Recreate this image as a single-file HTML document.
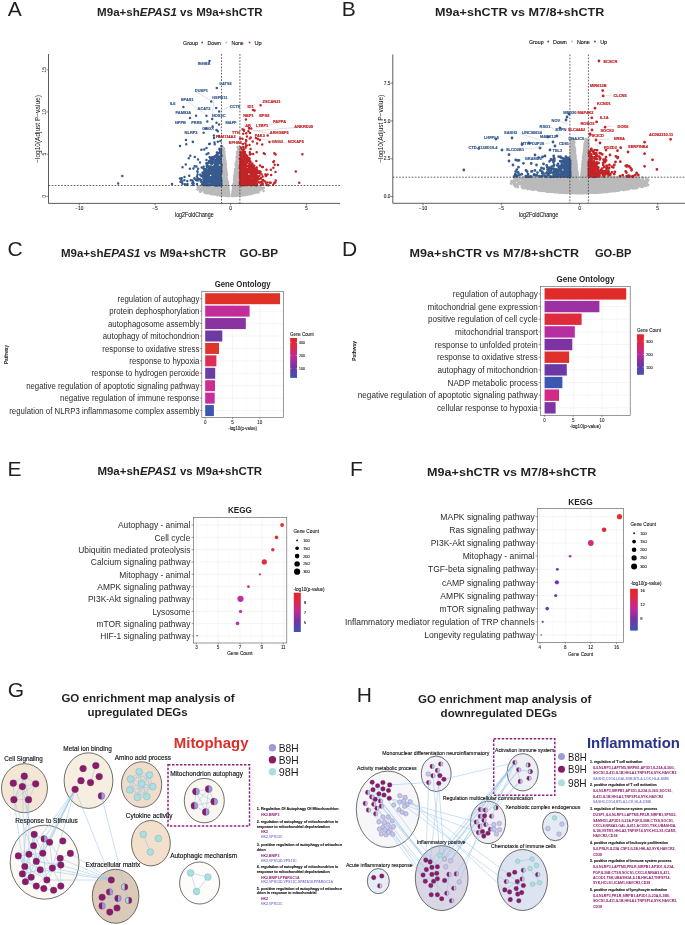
<!DOCTYPE html><html><head><meta charset="utf-8"><style>html,body{margin:0;padding:0;background:#fff;overflow:hidden}svg{display:block;font-family:"Liberation Sans",sans-serif;will-change:transform}</style></head><body><svg width="685" height="925" viewBox="0 0 685 925" font-family="Liberation Sans, sans-serif">
<defs><clipPath id="clipA"><rect x="48.6" y="54" width="291.4" height="149"/></clipPath><clipPath id="clipB"><rect x="393.1" y="54.5" width="291.9" height="148.3"/></clipPath><linearGradient id="gc" x1="0" y1="0" x2="0" y2="1"><stop offset="0" stop-color="#e2262a"/><stop offset="0.22" stop-color="#de2844"/><stop offset="0.47" stop-color="#c32896"/><stop offset="0.72" stop-color="#7434a2"/><stop offset="1" stop-color="#3c55b4"/></linearGradient></defs>
<rect width="685" height="925" fill="#fff"/>
<text x="7.70" y="15.60" font-size="21" fill="#231f20"  xml:space="preserve">A</text>
<text x="97.10" y="16.00" font-size="11.3" fill="#231f20" font-weight="bold" textLength="42.72" lengthAdjust="spacingAndGlyphs"  xml:space="preserve">M9a+sh</text>
<text x="139.82" y="16.00" font-size="11.3" fill="#231f20" font-weight="bold" font-style="italic" textLength="37.04" lengthAdjust="spacingAndGlyphs"  xml:space="preserve">EPAS1</text>
<text x="176.86" y="16.00" font-size="11.3" fill="#231f20" font-weight="bold" textLength="85.74" lengthAdjust="spacingAndGlyphs"  xml:space="preserve"> vs M9a+shCTR</text>
<text x="183.00" y="44.70" font-size="6.1" fill="#111" textLength="14.90" lengthAdjust="spacingAndGlyphs" stroke="#111" stroke-width="0.12" xml:space="preserve">Group</text>
<circle cx="202.20" cy="42.40" r="0.95" fill="#375b8f" stroke="none" stroke-width="0.5"/>
<text x="207.60" y="44.70" font-size="6.1" fill="#111" textLength="13.20" lengthAdjust="spacingAndGlyphs" stroke="#111" stroke-width="0.12" xml:space="preserve">Down</text>
<circle cx="226.30" cy="42.40" r="0.95" fill="#bababa" stroke="none" stroke-width="0.5"/>
<text x="231.60" y="44.70" font-size="6.1" fill="#111" textLength="12.10" lengthAdjust="spacingAndGlyphs" stroke="#111" stroke-width="0.12" xml:space="preserve">None</text>
<circle cx="249.60" cy="42.40" r="0.95" fill="#c32427" stroke="none" stroke-width="0.5"/>
<text x="254.50" y="44.70" font-size="6.1" fill="#111" textLength="7.20" lengthAdjust="spacingAndGlyphs" stroke="#111" stroke-width="0.12" xml:space="preserve">Up</text>
<g clip-path="url(#clipA)">
<path d="M253.9 191.7h0M235.4 182.8h0M225.6 186.8h0M207.8 192.4h0M220.9 194.4h0M233.3 191.9h0M227.5 188.6h0M218.7 185.9h0M236.2 177.0h0M241.6 192.5h0M248.3 191.9h0M225.0 162.5h0M236.8 182.7h0M227.6 195.9h0M242.1 191.7h0M219.9 188.9h0M240.7 193.5h0M238.3 165.3h0M242.3 193.2h0M211.8 188.6h0M238.7 160.0h0M218.5 187.9h0M246.7 186.9h0M232.9 191.9h0M228.4 189.3h0M237.3 157.3h0M228.3 190.0h0M233.3 190.5h0M238.5 192.5h0M212.1 187.7h0M219.8 186.3h0M207.6 186.7h0M238.8 149.4h0M206.2 187.2h0M234.4 195.7h0M248.8 193.8h0M234.7 193.8h0M246.7 193.7h0M226.5 187.3h0M249.8 185.8h0M239.3 191.5h0M234.7 182.1h0M221.6 188.7h0M246.3 189.4h0M223.9 169.9h0M233.3 191.5h0M216.5 190.3h0M244.5 190.0h0M233.1 193.6h0M234.0 189.3h0M240.0 188.1h0M232.2 195.1h0M236.9 186.0h0M259.7 189.9h0M247.7 193.8h0M226.8 175.5h0M236.7 169.1h0M244.0 187.0h0M215.9 187.3h0M221.6 193.0h0M238.0 186.9h0M228.5 191.0h0M232.5 193.2h0M239.1 194.3h0M218.5 191.5h0M221.5 194.7h0M238.2 178.9h0M225.6 177.8h0M222.7 192.0h0M236.2 191.9h0M227.9 194.2h0M217.4 193.0h0M236.7 157.9h0M234.5 184.1h0M227.7 190.1h0M221.8 174.7h0M221.4 187.9h0M240.4 190.2h0M229.0 195.7h0M238.0 158.0h0M207.0 188.2h0M225.2 191.3h0M240.2 192.5h0M242.5 187.8h0M249.0 187.5h0M224.4 159.8h0M242.3 185.9h0M226.4 177.7h0M239.0 176.2h0M235.0 173.8h0M249.0 189.6h0M242.6 188.8h0M219.8 188.8h0M217.2 187.6h0M242.4 195.1h0M233.8 188.0h0M227.6 192.7h0M239.3 194.8h0M238.1 156.0h0M243.5 193.9h0M221.4 186.6h0M224.3 190.2h0M206.4 193.3h0M217.1 191.0h0M245.1 189.7h0M218.8 190.0h0M225.5 179.4h0M227.7 183.0h0M216.7 191.1h0M239.1 165.5h0M223.2 171.8h0M224.3 187.1h0M233.1 190.3h0M221.8 178.8h0M256.8 189.7h0M232.1 195.7h0M256.6 185.6h0M239.2 189.8h0M237.8 174.0h0M250.8 187.1h0M240.7 186.7h0M220.1 187.4h0M237.1 156.2h0M239.3 176.2h0M238.8 179.4h0M240.2 186.4h0M238.9 187.5h0M233.4 195.4h0M238.9 149.8h0M228.3 192.1h0M229.2 193.9h0M209.8 193.5h0M244.2 186.8h0M247.6 188.7h0M224.5 174.2h0M213.3 189.7h0M251.4 192.5h0M251.6 194.0h0M242.0 186.7h0M205.2 192.7h0M232.9 193.3h0M215.4 190.9h0M223.3 194.1h0M222.9 195.4h0M225.3 189.5h0M248.0 194.6h0M217.9 188.7h0M240.7 194.0h0M236.9 175.5h0M234.1 181.5h0M227.0 193.6h0M212.8 188.7h0M218.1 192.9h0M238.3 190.1h0M263.8 187.8h0M223.5 167.9h0M234.8 191.8h0M243.2 192.9h0M247.6 187.3h0M217.3 194.4h0M247.2 190.8h0M240.2 185.9h0M237.6 183.7h0M257.2 190.9h0M220.3 193.5h0M226.2 171.1h0M232.2 194.2h0M223.2 155.4h0M201.7 190.8h0M222.7 194.7h0M237.3 195.7h0M217.2 186.0h0M233.7 192.9h0M223.4 156.6h0M235.4 179.9h0M224.8 181.0h0M242.9 194.6h0M246.0 188.0h0M209.0 191.4h0M237.0 162.0h0M226.4 193.7h0M246.2 191.2h0M225.1 158.7h0M229.0 195.0h0M235.9 184.4h0M246.9 191.6h0M241.8 188.7h0M243.8 192.9h0M247.7 187.5h0M253.7 189.6h0M238.7 191.7h0M226.8 194.4h0M239.2 187.0h0M224.6 190.6h0M242.3 188.5h0M233.0 190.8h0M218.7 189.7h0M224.0 185.5h0M236.2 188.0h0M223.7 169.3h0M239.8 194.7h0M216.2 187.6h0M225.6 195.6h0M242.7 189.6h0M225.3 191.2h0M244.0 191.8h0M245.3 195.0h0M228.9 191.7h0M226.2 184.7h0M238.9 167.9h0M204.8 187.3h0M218.5 185.7h0M240.4 195.0h0M215.0 193.8h0M237.5 164.5h0M216.9 191.4h0M235.1 195.0h0M246.3 194.4h0M242.9 188.1h0M238.7 148.1h0M240.5 191.5h0M249.1 190.0h0M236.7 167.4h0M249.8 193.1h0M227.6 195.2h0M225.7 183.8h0M233.8 192.7h0M226.1 181.6h0M228.4 195.4h0M225.0 195.2h0M236.5 157.3h0M234.4 176.8h0M235.7 175.3h0M227.2 185.9h0M234.1 195.9h0M216.9 192.2h0M249.9 189.7h0M235.2 181.6h0M239.6 180.7h0M245.1 190.2h0M226.4 191.8h0M211.2 193.4h0M237.3 157.4h0M243.9 188.4h0M215.5 194.4h0M250.3 188.3h0M205.4 187.5h0M237.0 154.1h0M242.8 190.1h0M228.2 194.9h0M220.6 192.7h0M239.7 192.9h0M235.2 195.5h0M236.5 188.8h0M245.5 188.1h0M222.3 191.9h0M225.9 179.7h0M242.6 190.8h0M221.8 160.5h0M245.1 191.9h0M243.1 193.7h0M239.4 195.3h0M239.5 192.9h0M219.5 193.6h0M234.2 190.8h0M213.3 191.9h0M222.4 183.9h0M239.2 188.4h0M243.9 187.6h0M210.6 189.3h0M249.4 191.9h0M236.3 171.6h0M203.9 187.9h0M223.5 179.1h0M229.2 194.5h0M227.3 182.3h0M236.7 194.7h0M227.1 180.2h0M233.7 194.9h0M248.0 186.8h0M235.8 186.7h0M221.2 193.7h0M232.8 189.1h0M225.7 166.5h0M214.8 188.0h0M222.7 190.2h0M249.6 191.7h0M225.0 164.0h0M226.7 172.6h0M224.1 188.0h0M220.9 189.0h0M221.7 180.6h0M240.4 191.8h0M241.2 194.5h0M232.7 195.7h0M245.8 189.3h0M224.4 159.1h0M214.4 188.9h0M224.2 194.7h0M237.5 171.3h0M216.2 192.7h0M206.1 192.3h0M246.0 192.2h0M209.9 191.8h0M233.0 189.9h0M216.2 188.2h0M236.9 177.0h0M211.1 187.8h0M197.8 187.5h0M254.4 188.3h0M233.3 184.7h0M218.8 192.1h0M214.6 191.9h0M226.0 191.2h0M241.2 187.6h0M224.6 195.4h0M226.5 171.8h0M228.2 188.7h0M218.9 186.7h0M212.7 190.8h0M213.7 187.4h0M224.6 160.3h0M248.7 193.1h0M210.3 187.6h0M249.2 190.9h0M224.6 178.0h0M225.8 167.1h0M227.9 187.7h0M228.4 195.3h0M223.8 193.0h0M211.3 191.0h0M238.7 177.9h0M237.5 187.0h0M233.0 188.7h0M236.9 180.8h0M225.0 176.0h0M232.5 193.6h0M209.7 191.1h0M244.0 189.7h0M241.2 189.5h0M233.7 193.4h0M220.2 190.1h0M218.7 188.7h0M220.0 195.4h0M217.8 194.4h0M255.3 186.4h0M212.9 192.3h0M223.2 181.0h0M247.6 185.8h0M211.8 193.6h0M224.3 186.7h0M221.9 168.4h0M247.7 191.2h0M240.4 186.0h0M235.4 172.4h0M239.0 191.4h0M219.7 186.7h0M237.0 194.5h0M224.6 168.1h0M227.7 194.5h0M205.7 193.1h0M244.1 193.9h0M240.7 192.5h0M215.2 191.7h0M238.5 146.8h0M245.0 186.7h0M222.1 187.8h0M210.1 189.9h0M237.9 161.1h0M229.0 192.5h0M239.3 190.9h0M249.5 188.6h0M248.3 194.0h0M241.6 194.4h0M213.9 187.9h0M221.6 153.8h0M218.9 190.9h0M218.3 188.7h0M241.2 186.2h0M237.1 175.4h0M224.8 174.5h0M214.1 191.3h0M223.7 195.4h0M245.7 188.5h0M221.9 183.8h0M250.8 185.8h0M260.7 189.5h0M245.6 188.8h0M235.2 170.3h0M232.8 191.2h0M238.7 167.1h0M239.8 191.2h0M219.0 193.1h0M249.4 189.7h0M232.6 192.6h0M246.3 186.7h0M251.5 187.5h0M237.4 192.7h0M222.0 173.6h0M235.6 171.9h0M225.4 176.1h0M220.8 188.2h0M229.1 193.5h0M223.6 192.2h0M242.6 191.5h0M241.4 192.4h0M237.0 167.9h0M221.6 191.4h0M234.1 191.9h0M219.0 187.3h0M220.9 193.6h0M204.5 191.1h0M237.0 184.2h0M234.0 183.6h0M245.4 187.8h0M243.9 194.9h0M218.4 189.8h0M236.0 183.6h0M235.4 173.0h0M205.9 191.9h0M220.6 195.0h0M233.9 189.5h0M235.1 185.7h0M237.6 155.2h0M234.3 177.3h0M211.9 185.5h0M225.9 185.8h0M213.2 186.7h0M236.1 173.9h0M242.9 186.4h0M245.9 190.8h0M241.0 186.5h0M220.1 187.8h0M223.2 150.6h0M219.6 191.9h0M238.6 182.6h0M247.3 188.1h0M213.7 186.1h0M224.6 191.1h0M206.4 189.4h0M234.0 179.6h0M235.5 169.4h0M226.6 185.9h0M238.8 181.7h0M235.7 165.2h0M239.4 148.6h0M235.3 192.8h0M215.6 186.7h0M219.7 187.3h0M236.5 178.6h0M238.0 151.0h0M221.9 165.6h0M242.1 195.0h0M217.7 189.7h0M239.6 151.0h0M241.2 193.7h0M236.7 168.8h0M214.2 190.0h0M219.1 193.7h0M234.6 176.2h0M246.5 192.9h0M206.2 185.9h0M246.9 186.7h0M234.2 190.2h0M224.5 151.7h0M213.5 193.8h0M243.7 186.2h0M222.8 147.3h0M235.7 173.7h0M225.2 167.2h0M225.9 175.1h0M244.4 191.5h0M236.8 192.7h0M222.0 195.1h0M242.2 186.4h0M237.0 180.1h0M221.8 193.7h0M225.8 177.2h0M225.1 185.0h0M218.2 192.3h0M225.8 169.0h0M241.5 191.4h0M251.4 186.7h0M244.6 188.5h0M235.7 177.8h0M227.6 191.9h0M227.1 192.9h0M212.1 187.5h0M237.4 161.1h0M221.8 195.5h0M222.3 190.3h0M206.9 186.2h0M218.9 192.4h0M238.8 148.8h0M257.2 191.9h0M243.7 189.6h0M226.8 191.8h0M227.3 185.2h0M223.9 194.9h0M242.0 188.1h0M220.6 192.2h0M235.7 191.2h0M209.9 186.8h0M220.6 185.7h0M247.0 185.7h0M225.2 194.0h0M220.3 191.0h0M239.7 152.7h0M252.1 186.6h0M234.5 186.4h0M239.2 152.4h0M227.5 191.1h0M223.6 152.8h0M234.8 172.1h0M237.1 187.8h0M223.7 155.7h0M253.1 189.9h0M240.8 187.2h0M227.6 181.3h0M236.7 185.1h0M240.3 190.9h0M242.9 185.8h0M235.5 193.3h0M219.7 190.0h0M239.8 177.5h0M239.2 183.0h0M216.2 186.5h0M228.7 195.9h0M222.5 188.9h0M235.4 188.9h0M206.7 189.0h0M224.7 156.1h0M218.2 186.4h0M235.7 191.1h0M228.7 192.8h0M236.0 162.4h0M227.2 183.8h0M233.1 193.5h0M228.5 193.2h0M245.0 192.7h0M246.5 192.5h0M218.1 192.4h0M242.6 192.5h0M258.5 192.4h0M234.8 188.4h0M246.5 185.9h0M218.3 190.8h0M216.3 187.6h0M217.6 190.9h0M235.0 194.7h0M234.0 193.2h0M223.0 193.0h0M249.2 192.2h0M234.1 179.9h0M221.1 187.4h0M237.5 190.6h0M249.4 186.9h0M216.0 186.3h0M208.9 187.3h0M246.9 194.4h0M242.5 189.9h0M234.5 183.0h0M217.8 195.1h0M243.8 187.4h0M237.3 182.0h0M223.0 169.0h0M235.6 185.1h0M218.0 187.2h0M228.0 191.8h0M211.1 191.8h0M219.0 187.7h0M248.7 186.8h0M239.4 162.4h0M247.3 193.8h0M226.2 194.3h0M241.8 195.4h0M253.1 186.2h0M235.7 177.3h0M224.8 179.7h0M243.4 195.1h0M223.3 186.8h0M239.6 179.9h0M226.6 188.1h0M240.3 189.0h0M248.6 189.7h0M228.3 195.7h0M240.0 189.6h0M246.7 189.6h0M226.1 195.8h0M240.2 193.0h0M238.6 180.5h0M246.0 192.3h0M235.0 174.9h0M215.5 192.3h0M214.3 191.8h0M223.4 193.6h0M252.9 186.8h0M228.0 186.5h0M219.4 188.6h0M235.2 187.5h0M224.6 189.4h0M248.0 185.7h0M224.4 164.0h0M242.2 185.6h0M223.7 175.7h0M216.6 192.3h0M226.3 187.9h0M219.7 192.9h0M224.1 185.8h0M217.2 188.8h0M242.7 195.2h0M223.1 158.3h0M246.8 188.1h0M202.0 187.7h0M226.8 195.6h0M232.9 194.9h0M224.9 194.4h0M212.7 193.7h0M212.3 194.2h0M239.6 193.7h0M240.0 193.8h0M235.7 192.9h0M256.1 186.6h0M247.0 194.7h0M254.9 188.5h0M239.1 194.9h0M222.7 176.5h0M224.3 160.8h0M235.6 194.1h0M204.7 188.0h0M222.6 159.0h0M219.2 188.5h0M241.5 185.8h0M238.3 189.6h0M257.0 188.2h0M227.0 174.9h0M209.1 193.1h0M247.9 191.0h0M237.9 195.3h0M251.0 188.1h0M222.7 165.1h0M248.1 193.4h0M234.7 179.8h0M256.6 191.4h0M246.1 187.5h0M220.6 187.7h0M249.0 188.5h0M223.9 148.2h0M227.6 194.0h0M203.4 190.1h0M227.6 189.3h0M223.6 161.9h0M219.3 194.9h0M225.4 186.1h0M222.2 150.1h0M217.3 186.5h0M227.9 182.2h0M236.7 164.4h0M212.7 193.9h0M238.0 194.6h0M240.1 194.5h0M225.6 190.8h0M215.8 189.0h0M234.1 184.1h0M243.3 191.5h0M252.1 187.8h0M222.5 195.4h0M238.2 195.2h0M226.8 189.4h0M219.3 194.3h0M213.1 187.9h0M240.1 190.3h0M212.3 190.9h0M255.1 186.8h0M214.0 193.7h0M235.8 187.5h0M237.2 191.8h0M228.3 186.7h0M228.3 192.4h0M236.4 188.6h0M244.7 189.3h0M222.1 159.7h0M238.1 182.2h0M221.9 182.1h0M208.1 186.5h0M250.0 192.4h0M232.6 194.5h0M214.1 194.2h0M250.1 190.0h0M235.5 177.2h0M214.6 187.2h0M240.4 187.7h0M220.8 190.9h0M217.6 193.6h0M221.9 170.1h0M214.1 187.3h0M261.5 187.4h0M217.9 189.9h0M207.4 189.7h0M228.1 194.0h0M224.9 183.8h0M227.4 191.2h0M222.7 176.9h0M253.2 187.4h0M248.0 189.6h0M237.6 163.8h0M238.1 195.4h0M204.1 189.9h0M210.8 193.9h0M240.6 195.4h0M223.1 173.4h0M211.8 186.2h0M217.6 187.8h0M224.7 171.5h0M228.5 193.6h0M219.8 189.8h0M216.0 193.5h0M241.2 189.2h0M236.5 156.8h0M214.3 186.0h0M223.5 159.8h0M236.6 193.2h0M225.5 183.9h0M215.4 193.0h0M240.9 194.8h0M235.6 173.4h0M224.2 183.8h0M214.8 190.6h0M234.8 194.5h0M251.9 185.7h0M240.5 194.2h0M237.8 189.9h0M236.4 192.4h0M206.9 187.5h0M238.1 154.5h0M237.6 190.3h0M224.0 193.9h0M240.6 188.4h0M255.5 187.3h0M243.1 187.6h0M237.2 160.2h0M233.4 194.4h0M234.2 195.8h0M239.8 176.6h0M237.5 188.7h0M219.9 192.4h0M216.7 195.1h0M223.7 178.4h0M237.7 195.4h0M223.6 183.4h0M245.4 186.8h0M206.8 191.3h0M223.7 166.3h0M235.9 192.8h0M241.7 189.5h0M237.2 186.7h0M236.9 170.4h0M217.0 187.4h0M233.2 189.7h0M239.6 178.6h0M222.7 164.5h0M205.3 189.0h0M236.5 176.6h0M241.0 191.9h0M233.2 187.3h0M238.1 171.1h0M220.1 191.9h0M245.5 190.1h0M235.7 195.8h0M263.5 191.0h0M225.1 185.5h0M219.2 194.9h0M228.0 188.4h0M251.4 189.9h0M254.9 192.8h0M253.3 191.5h0M215.5 189.8h0M202.5 189.2h0M240.6 185.7h0M255.7 187.7h0M237.0 191.4h0M236.9 171.7h0M218.6 193.2h0M244.9 186.9h0M219.7 191.4h0M217.7 186.6h0M243.1 192.8h0M237.5 170.6h0M239.3 160.8h0M211.2 185.6h0M238.3 177.0h0M225.8 180.8h0M244.9 193.8h0M241.0 187.5h0M248.7 191.3h0M223.5 172.8h0M225.6 189.2h0M220.0 194.0h0M223.2 161.6h0M238.9 156.7h0M241.3 193.5h0M225.7 182.1h0M226.7 194.9h0M246.9 193.1h0M236.1 195.3h0M241.8 191.7h0M203.6 187.4h0M207.6 186.1h0M223.1 156.0h0M238.6 189.8h0M241.6 187.9h0M224.4 182.9h0M211.0 189.6h0M217.6 189.1h0M218.0 192.1h0M223.0 149.4h0M237.6 163.1h0M234.5 187.4h0M244.3 193.3h0M221.2 194.3h0M237.5 153.9h0M225.0 178.1h0M245.5 186.1h0M204.6 190.7h0M237.3 186.0h0M220.7 193.2h0M233.0 186.8h0M233.8 195.2h0M258.7 188.2h0M226.5 190.3h0M214.7 192.6h0M223.8 161.1h0M247.1 192.3h0M254.9 190.0h0M250.6 189.8h0M256.4 187.7h0M225.9 177.1h0M235.5 188.6h0M238.0 167.5h0M223.8 156.2h0M238.3 183.4h0M223.1 164.2h0M216.8 194.7h0M258.1 190.7h0M226.1 188.3h0M222.6 177.9h0M207.5 187.8h0M224.5 162.3h0M235.9 189.0h0M220.9 187.4h0M208.6 190.2h0M208.3 189.2h0M234.3 178.6h0M222.6 181.5h0M225.3 186.4h0M234.4 192.3h0M253.5 192.9h0M239.5 161.8h0M234.4 175.2h0M210.6 189.4h0M212.3 187.6h0M246.3 193.6h0M254.9 189.7h0M221.7 151.3h0M228.1 187.4h0M222.9 167.2h0M199.3 187.4h0M237.4 154.4h0M224.8 157.9h0M235.4 189.3h0M214.7 188.5h0M235.7 165.4h0M234.6 193.5h0M215.0 186.4h0M236.8 159.8h0M229.4 196.0h0M245.9 194.5h0M252.8 193.2h0M211.3 186.6h0M222.7 157.4h0M249.7 187.6h0M224.5 153.8h0M224.8 174.0h0M222.1 179.6h0M207.6 193.2h0M234.9 195.2h0M236.9 161.6h0M224.0 173.5h0M225.5 190.3h0M236.2 194.8h0M239.8 184.7h0M221.3 189.5h0M218.3 195.1h0M237.2 178.8h0M233.2 186.1h0M244.6 193.0h0M255.4 188.1h0M224.5 177.6h0M221.7 158.5h0M224.1 164.2h0M254.5 191.3h0M224.7 161.8h0M228.8 194.5h0M216.3 188.7h0M209.4 186.5h0M236.4 185.8h0M213.0 193.0h0M238.7 192.9h0M227.0 186.5h0M237.4 186.9h0M208.6 190.8h0M225.2 189.0h0M247.4 185.7h0M238.8 180.0h0M234.0 194.7h0M211.9 192.1h0M248.2 186.4h0M251.2 185.9h0M226.5 190.0h0M236.7 174.2h0M223.7 177.9h0M245.8 193.0h0M226.9 191.3h0M242.0 193.3h0M223.6 170.5h0M246.6 186.9h0M234.0 185.8h0M247.0 189.1h0M220.4 188.2h0M239.3 169.2h0M211.5 191.5h0M244.8 188.0h0M235.6 176.6h0M246.3 185.7h0M254.3 193.0h0M235.4 190.0h0M224.7 178.9h0M254.5 187.6h0M232.0 196.0h0M236.2 163.6h0M253.3 192.2h0M216.4 193.7h0M211.0 192.4h0M222.8 159.4h0M217.5 191.8h0M225.4 170.0h0M243.4 192.9h0M221.7 181.9h0M249.5 186.5h0M216.4 185.9h0M208.0 187.6h0M235.4 177.3h0M224.3 192.5h0M234.3 178.1h0M209.2 192.0h0M237.8 179.4h0M225.5 162.8h0M240.3 188.1h0M238.7 184.7h0M222.2 175.2h0M238.4 149.3h0M238.6 177.1h0M239.3 166.8h0M218.7 194.7h0M207.0 191.9h0M227.9 184.7h0M198.6 187.3h0M242.7 187.1h0M205.6 189.8h0M237.0 183.4h0M228.4 187.5h0M241.3 190.8h0M243.0 189.4h0M202.9 185.5h0M236.1 169.4h0M224.1 152.5h0M236.4 191.5h0M254.5 186.9h0M235.9 168.3h0M257.9 190.3h0M214.5 189.3h0M250.8 191.8h0M225.3 195.3h0M237.4 166.0h0M221.2 190.7h0M252.7 189.9h0M228.6 189.7h0M236.6 166.4h0M208.9 192.2h0M247.7 192.1h0M236.0 192.1h0M222.6 154.8h0M222.0 147.1h0M241.2 185.7h0M217.3 189.4h0M212.1 189.6h0M236.3 172.3h0M234.9 178.9h0M237.9 185.6h0M247.9 189.2h0M217.9 191.4h0M210.0 193.4h0M239.5 168.1h0M245.0 191.1h0M224.6 165.0h0M226.8 181.6h0M235.7 170.7h0M244.9 191.3h0M238.8 169.1h0M211.3 189.2h0M253.7 191.8h0M243.8 191.5h0M202.8 188.7h0M225.8 175.5h0M234.3 175.5h0M239.1 185.3h0M219.8 195.3h0M223.3 177.2h0M242.0 193.5h0M235.0 179.7h0M250.8 188.7h0M237.8 158.4h0M251.3 187.3h0M222.3 190.6h0M259.1 188.2h0M210.2 192.4h0M220.1 186.1h0M236.3 175.0h0M235.7 175.8h0M239.4 183.8h0M237.9 159.3h0M210.2 188.8h0M239.8 166.1h0M235.4 175.8h0M205.8 190.9h0M250.5 189.1h0M245.3 192.4h0M248.4 190.5h0M212.7 187.5h0M222.5 193.0h0M233.6 186.4h0M245.5 190.9h0M218.3 190.1h0M249.1 193.0h0M208.4 193.0h0M211.3 186.2h0M246.9 189.0h0M214.8 191.6h0M222.9 153.4h0M226.1 193.1h0M227.5 184.8h0M221.3 191.7h0M228.4 187.9h0M238.6 158.4h0M254.0 186.1h0M234.3 190.9h0M234.0 191.5h0M245.4 193.2h0M238.6 195.4h0M237.4 168.0h0M223.3 174.1h0M225.6 184.6h0M208.3 190.8h0M224.5 193.5h0M227.2 187.5h0M214.3 192.4h0M215.5 187.6h0M204.3 192.5h0M209.6 185.6h0M227.6 186.4h0M239.9 190.8h0M237.9 165.5h0M223.7 186.7h0M226.5 173.6h0M245.6 187.0h0M241.7 190.5h0M214.4 193.2h0M255.6 185.9h0M245.7 192.2h0M225.7 176.4h0M225.4 172.4h0M237.0 182.0h0M227.6 182.0h0M243.0 195.3h0M251.9 187.3h0M210.9 188.6h0M256.6 192.6h0M247.5 188.6h0M243.6 189.0h0M241.2 188.3h0M217.9 193.4h0M222.2 184.5h0M226.9 190.6h0M224.8 193.1h0M233.3 189.0h0M216.7 193.0h0M218.1 194.0h0M227.9 183.1h0M225.0 195.7h0M244.1 187.6h0M234.9 189.0h0M224.4 175.1h0M236.3 184.3h0M225.5 167.8h0M223.4 167.8h0M222.4 173.3h0M223.4 157.6h0M262.7 188.7h0M222.7 149.4h0M227.2 189.1h0M216.2 192.1h0M224.3 154.3h0M212.9 186.0h0M222.6 182.4h0M236.4 189.8h0M225.8 163.4h0M236.7 165.8h0M202.4 186.2h0M200.4 189.0h0M235.1 175.1h0M251.8 189.4h0M239.0 193.7h0M225.9 164.6h0M224.7 189.8h0M223.9 190.5h0M214.3 191.1h0M240.1 187.2h0M216.3 185.7h0M227.7 183.9h0M221.3 188.7h0M222.0 166.4h0M213.6 192.6h0M200.2 190.6h0M235.4 171.4h0M206.9 193.1h0M223.5 166.6h0M225.6 178.5h0M222.6 170.1h0M219.2 189.0h0M237.0 193.7h0M226.2 189.2h0M236.1 182.9h0M226.0 185.2h0M224.8 177.9h0M211.5 186.9h0M238.6 163.1h0M239.2 171.8h0M237.8 161.8h0M236.0 178.8h0M224.1 148.9h0M223.9 154.7h0M237.0 166.0h0M243.0 189.1h0M228.5 190.3h0M197.8 186.2h0M222.5 187.7h0M226.6 189.0h0M246.3 192.2h0M254.2 186.6h0M258.5 185.9h0M237.1 170.1h0M221.1 195.5h0M235.0 182.5h0M233.3 195.9h0M225.7 194.4h0M225.6 173.8h0M248.9 188.0h0M244.0 190.7h0M222.3 185.6h0M220.2 194.4h0M256.7 188.7h0M222.6 155.3h0M219.5 193.4h0M259.7 186.7h0M239.0 162.3h0M222.9 151.4h0M243.4 192.2h0M246.9 191.7h0M221.9 189.5h0M226.7 178.9h0M213.3 193.4h0M235.6 163.8h0M225.4 161.0h0M217.3 195.2h0M215.9 194.3h0M224.0 159.3h0M209.3 185.7h0M257.7 185.9h0M210.1 185.8h0M237.8 152.3h0M223.8 164.3h0M250.7 190.4h0M222.1 162.2h0M245.4 193.9h0M222.4 156.2h0M224.8 168.5h0M236.5 181.4h0M223.0 194.8h0M260.4 185.5h0M220.2 189.5h0M221.7 167.1h0M253.7 190.0h0M212.3 188.2h0M236.6 179.9h0M221.7 173.6h0M236.7 160.8h0M221.6 190.2h0M222.6 172.6h0M234.3 187.8h0M249.4 190.2h0M210.7 191.1h0M220.6 186.7h0M216.1 190.7h0M235.7 170.1h0M234.4 191.1h0M209.9 187.4h0M225.5 188.1h0M239.1 164.6h0M253.1 188.3h0M216.9 190.2h0M239.1 155.4h0M221.3 192.4h0M235.7 178.1h0M233.0 187.2h0M238.0 167.7h0M208.6 192.7h0M207.6 192.2h0M244.8 194.9h0M236.9 152.0h0M222.3 163.1h0M237.6 147.2h0M240.4 189.5h0M227.9 185.4h0M223.6 153.6h0M210.4 192.9h0M236.8 173.2h0M219.0 191.2h0M209.7 189.5h0M250.0 193.0h0M245.5 194.6h0M220.6 191.7h0M241.6 190.5h0M236.0 184.6h0M205.9 186.7h0M238.0 149.0h0M226.2 184.3h0M225.8 171.5h0M217.7 186.0h0M237.3 152.3h0M252.9 189.9h0M203.7 187.4h0M236.3 173.2h0M233.7 188.4h0M252.5 187.8h0M222.5 183.2h0M248.5 187.1h0M211.4 193.8h0M243.4 190.9h0M255.6 192.2h0M234.6 185.3h0M238.9 160.9h0M251.8 191.5h0M239.5 187.7h0M222.7 152.8h0M228.5 191.2h0M232.4 192.1h0M237.5 178.4h0M219.5 185.5h0M233.5 187.6h0M233.6 183.8h0M214.2 189.5h0M221.8 153.3h0M222.1 193.5h0M236.0 174.8h0M224.7 185.8h0M225.0 164.7h0M224.5 193.1h0M234.7 190.2h0M237.1 156.8h0M236.1 193.8h0M236.6 171.1h0M220.8 189.8h0M224.4 179.2h0M215.9 189.8h0M238.2 177.5h0M238.2 190.5h0M234.3 181.4h0M246.5 187.8h0M222.1 174.0h0M238.6 190.8h0M242.8 187.3h0M200.6 185.7h0M199.9 191.4h0M213.8 186.3h0M250.3 186.7h0M200.7 191.8h0M219.8 187.6h0M199.0 186.6h0M221.2 185.7h0M238.0 180.9h0M214.6 193.1h0M256.9 190.2h0M252.2 193.0h0M221.0 189.9h0M212.1 186.8h0M250.2 186.9h0M226.7 178.0h0M226.1 167.9h0M223.7 175.1h0M222.1 148.7h0M257.1 190.3h0M214.7 185.8h0M220.1 186.9h0M222.7 168.8h0M213.3 194.3h0M235.0 168.9h0M236.5 182.0h0M227.4 195.9h0M224.9 171.9h0M221.7 186.8h0M233.9 185.5h0M242.0 187.1h0M222.4 150.2h0M248.2 186.1h0M252.6 190.8h0M221.7 192.5h0M222.1 176.1h0M221.8 191.4h0M260.4 190.2h0M242.7 191.9h0M222.9 161.5h0M212.4 191.5h0M234.9 172.9h0M223.5 194.6h0M224.7 191.0h0M238.8 173.5h0M222.9 148.3h0M250.4 187.8h0M211.6 192.4h0M222.0 158.8h0M212.3 189.3h0M229.0 191.9h0M237.2 171.3h0M238.0 188.2h0M237.4 171.8h0M250.1 191.5h0M222.0 155.1h0M222.2 184.0h0M219.7 190.5h0M213.7 189.0h0M226.2 169.8h0M236.7 179.6h0M238.4 183.1h0M219.2 194.5h0M222.2 194.2h0M222.4 194.3h0M223.4 160.7h0M225.9 168.6h0M240.0 192.2h0M240.3 189.2h0M225.1 175.1h0M253.6 188.6h0M208.4 185.7h0M239.6 169.6h0M201.5 189.5h0M234.8 183.8h0M209.4 188.0h0M203.2 188.3h0M201.5 188.7h0M234.8 186.3h0M249.6 194.3h0M214.7 190.3h0M199.1 188.4h0M235.3 185.7h0M237.6 162.5h0M234.0 187.1h0M236.4 183.1h0M223.8 187.4h0M223.5 189.5h0M226.6 193.0h0M224.8 192.0h0M222.2 181.4h0M213.2 187.4h0M238.2 153.1h0M197.5 189.6h0M234.2 176.3h0M237.2 174.7h0M224.2 166.8h0" stroke="#bababa" stroke-width="2.5" stroke-linecap="round"/>
<path d="M219.6 184.0h0M214.8 160.8h0M192.4 180.6h0M204.2 172.0h0M208.3 177.3h0M214.6 181.0h0M221.5 164.3h0M221.0 184.5h0M220.4 158.0h0M215.8 183.6h0M219.2 181.1h0M220.7 184.7h0M214.1 166.2h0M203.6 172.4h0M217.6 178.5h0M219.5 170.8h0M217.7 180.5h0M195.3 179.3h0M210.5 178.3h0M204.3 185.0h0M210.6 167.8h0M220.7 170.0h0M206.9 178.3h0M219.9 159.7h0M221.3 167.4h0M216.5 180.1h0M209.1 144.0h0M214.2 183.6h0M218.4 179.1h0M214.7 162.9h0M214.5 172.2h0M205.6 183.3h0M218.0 184.4h0M219.6 180.9h0M208.9 174.5h0M217.2 179.5h0M215.6 182.3h0M202.1 184.2h0M207.4 184.9h0M215.4 176.6h0M207.3 177.0h0M221.3 183.9h0M212.2 177.9h0M218.2 185.1h0M218.8 177.5h0M212.7 176.0h0M210.6 180.2h0M215.5 181.5h0M206.0 170.1h0M219.5 170.6h0M218.1 177.2h0M214.3 175.8h0M197.6 174.4h0M218.0 185.2h0M215.7 182.9h0M220.8 185.4h0M209.4 180.7h0M205.7 174.8h0M214.5 174.7h0M221.6 156.0h0M215.8 168.3h0M221.2 173.3h0M201.4 149.7h0M206.5 148.1h0M216.0 182.2h0M217.8 185.1h0M214.3 184.7h0M221.6 165.6h0M218.1 181.3h0M217.2 184.8h0M218.4 156.9h0M219.6 173.6h0M218.2 163.9h0M211.6 169.1h0M214.5 142.5h0M213.9 172.4h0M219.2 184.7h0M215.9 175.6h0M221.1 168.7h0M212.2 170.7h0M219.9 185.3h0M209.6 157.3h0M219.5 176.6h0M218.0 174.9h0M212.1 184.4h0M206.6 154.3h0M216.7 177.4h0M220.8 159.6h0M206.2 169.0h0M212.9 174.1h0M214.7 176.5h0M207.2 185.0h0M221.1 169.1h0M214.8 185.2h0M208.4 153.2h0M220.2 184.2h0M192.2 183.3h0M219.2 185.2h0M196.1 180.0h0M219.4 174.0h0M216.7 154.7h0M206.9 185.2h0M202.4 172.8h0M216.9 168.9h0M203.2 172.7h0M202.3 182.7h0M219.8 181.6h0M198.0 159.5h0M217.8 175.5h0M220.5 181.0h0M206.5 160.0h0M218.3 152.9h0M218.6 170.0h0M219.6 157.8h0M217.3 175.9h0M204.3 181.2h0M206.3 175.5h0M216.1 169.7h0M194.8 157.0h0M218.9 179.9h0M204.2 149.6h0M215.6 169.4h0M213.2 183.7h0M218.8 173.8h0M219.4 163.3h0M218.5 184.3h0M217.2 183.5h0M211.3 179.7h0M214.5 181.1h0M215.2 183.7h0M213.2 180.9h0M197.5 178.0h0M211.9 184.7h0M212.5 179.7h0M216.9 171.4h0M217.9 159.1h0M203.4 179.2h0M199.6 178.9h0M218.3 168.7h0M214.1 172.5h0M211.9 167.9h0M217.6 165.7h0M211.8 178.6h0M215.3 179.3h0M184.3 180.3h0M210.9 182.1h0M221.0 182.5h0M194.7 166.2h0M219.8 178.3h0M217.7 182.0h0M219.2 157.5h0M221.3 154.9h0M215.2 172.7h0M198.1 168.8h0M203.5 184.9h0M219.8 171.8h0M217.3 185.4h0M207.8 178.2h0M221.4 182.9h0M221.5 171.5h0M214.5 177.3h0M221.1 181.4h0M217.0 176.9h0M219.2 173.6h0M221.4 146.0h0M217.3 164.0h0M212.7 179.1h0M211.3 182.7h0M190.3 155.7h0M200.0 162.5h0M221.2 178.7h0M208.3 180.6h0M212.8 176.1h0M219.3 172.3h0M196.4 166.6h0M213.8 175.4h0M218.5 178.9h0M215.7 177.4h0M220.4 183.6h0M220.4 180.4h0M208.1 179.4h0M204.9 171.8h0M212.6 182.3h0M218.5 179.7h0M200.7 175.6h0M215.7 184.4h0M206.3 181.0h0M216.4 183.1h0M216.7 175.9h0M197.6 172.1h0M211.7 157.7h0M219.4 175.9h0M209.6 169.1h0M213.0 181.2h0M216.6 181.3h0M215.2 180.9h0M218.4 177.1h0M214.7 144.2h0M201.8 181.7h0M207.8 173.4h0M201.4 176.3h0M211.5 171.4h0M189.2 175.7h0M221.0 154.3h0M211.9 172.5h0M218.0 172.3h0M220.6 175.4h0M212.4 160.8h0M221.1 151.1h0M219.3 149.2h0M219.1 169.1h0M209.0 168.2h0M212.3 162.6h0M214.9 164.9h0M206.4 178.5h0M212.6 162.1h0M207.3 171.4h0M220.7 176.7h0M217.4 158.3h0M213.9 178.6h0M210.0 168.9h0M203.2 182.2h0M211.1 171.2h0M210.2 166.5h0M215.2 172.2h0M214.8 156.2h0M220.2 150.5h0M205.1 175.0h0M221.4 181.0h0M208.2 163.3h0M208.7 184.5h0M203.4 176.7h0M202.8 173.4h0M205.0 181.6h0M215.9 172.1h0M217.4 181.0h0M203.8 180.6h0M204.4 183.6h0M218.4 171.9h0M209.0 185.2h0M210.4 178.9h0M213.7 180.8h0M220.2 174.8h0M205.4 171.3h0M212.3 163.6h0M203.5 168.4h0M213.4 169.4h0M221.0 163.3h0M215.2 175.6h0M215.3 156.4h0M219.9 151.9h0M207.9 169.8h0M215.5 165.5h0M221.4 185.3h0M220.1 161.7h0M214.6 179.1h0M205.2 185.0h0M206.3 173.6h0M214.3 174.1h0M206.2 180.3h0M211.1 179.0h0M210.7 173.6h0M206.9 180.7h0M219.0 153.1h0M218.1 183.2h0M205.5 184.6h0M210.1 162.6h0M214.4 183.1h0M209.1 171.5h0M217.1 172.5h0M213.0 172.8h0M219.9 176.6h0M212.4 177.0h0M210.8 172.5h0M209.3 179.6h0M205.9 173.1h0M214.2 182.6h0M209.2 170.2h0M220.9 153.0h0M208.7 166.9h0M211.9 166.9h0M207.3 182.2h0M211.4 169.3h0M206.1 176.1h0M203.1 184.0h0M213.8 183.7h0M213.4 178.3h0M219.7 166.9h0M217.6 155.1h0M205.3 176.5h0M218.6 181.6h0M213.0 171.9h0M220.2 183.1h0M216.8 178.1h0M207.6 174.0h0M212.3 177.3h0M213.3 174.4h0M215.7 163.8h0M216.9 155.3h0M212.4 182.7h0M210.2 177.3h0M207.5 183.6h0M208.4 177.0h0M217.3 174.0h0M205.9 169.4h0M210.1 184.6h0M209.1 160.9h0M204.5 180.0h0M204.4 176.5h0M203.0 174.7h0M207.2 179.1h0M215.8 163.4h0M203.0 172.5h0M219.5 177.5h0M221.4 169.9h0M205.5 180.2h0M215.4 156.1h0M214.5 171.7h0M203.7 166.8h0M213.8 174.1h0M215.1 164.9h0M212.4 157.7h0M220.9 174.1h0M220.4 178.4h0M211.3 160.8h0M215.2 162.1h0M216.5 156.2h0M211.8 164.3h0M219.6 169.5h0M214.7 179.9h0M204.3 172.7h0M206.3 163.6h0M212.6 172.0h0M219.3 160.3h0M216.9 167.3h0M203.5 178.5h0M212.7 170.7h0M209.3 166.4h0M214.8 175.0h0M213.6 173.6h0M212.7 168.3h0M203.8 183.8h0M220.1 172.2h0M217.8 180.1h0M205.1 181.3h0M205.4 173.4h0M215.2 171.3h0M211.2 185.0h0M216.9 152.6h0M203.4 178.3h0M206.5 175.7h0M217.9 174.0h0M212.2 174.3h0M213.9 181.7h0M206.7 166.0h0M205.0 169.5h0M204.0 171.7h0M219.2 176.0h0M219.5 148.8h0M218.4 175.5h0M214.4 156.7h0M205.3 177.6h0M215.0 156.4h0M206.9 167.0h0M220.8 161.3h0M208.8 173.5h0M220.8 149.0h0M210.4 172.7h0M221.0 149.3h0M210.5 158.7h0M220.5 168.8h0M219.5 179.9h0M212.3 173.3h0M215.1 173.1h0M215.6 185.4h0M221.1 179.5h0M219.9 175.7h0M219.7 156.5h0M217.8 169.2h0M219.2 159.5h0M211.7 159.3h0M203.1 176.3h0M211.2 162.0h0M210.5 170.8h0M202.8 183.6h0M217.6 179.4h0M216.2 160.9h0M205.7 177.7h0M212.0 157.3h0M210.6 168.7h0M207.9 184.3h0M216.5 157.6h0M216.2 159.8h0M216.9 174.7h0M219.5 157.0h0M214.2 175.0h0M211.2 163.7h0M217.5 170.2h0M220.1 172.9h0M203.9 175.2h0M203.7 178.1h0M207.7 163.4h0M205.6 170.5h0M218.8 174.4h0M205.0 182.7h0M210.4 161.8h0M209.7 171.6h0M207.7 165.9h0M207.1 182.0h0M206.5 174.8h0M213.7 158.8h0M215.8 167.6h0M216.5 180.6h0M219.0 161.7h0M211.5 169.5h0M211.3 160.0h0M216.1 161.1h0M213.4 172.9h0M208.5 184.3h0M216.8 156.3h0M217.7 177.7h0M204.7 174.3h0M220.7 170.9h0M214.7 157.1h0M217.1 182.2h0M217.4 161.5h0M203.9 169.3h0M208.1 171.5h0M214.4 167.9h0M207.4 181.5h0M218.9 176.6h0M214.1 180.4h0M217.5 168.8h0M206.8 162.9h0M208.9 170.5h0M204.1 179.4h0M220.9 172.4h0M213.0 157.5h0M206.4 170.3h0M220.3 160.8h0M217.1 155.5h0M208.9 161.7h0M206.2 182.3h0M213.3 174.6h0M217.1 162.9h0M218.6 166.5h0M210.8 183.1h0M206.1 169.5h0M218.0 167.7h0M208.4 170.8h0M205.4 176.9h0M182.1 181.8h0M181.4 180.4h0M193.4 168.6h0M211.6 177.3h0M196.9 176.4h0M182.4 183.8h0M198.6 179.7h0M214.9 182.4h0M216.9 171.2h0M217.6 171.4h0M184.9 184.3h0M218.5 183.4h0M181.8 178.3h0M197.3 171.2h0M215.1 166.9h0M207.7 181.9h0M210.3 181.5h0M193.1 181.8h0M204.1 184.0h0M201.7 167.5h0M189.9 168.8h0M208.4 182.0h0M187.3 180.9h0M217.4 180.3h0M180.5 181.8h0M184.5 176.9h0M203.5 173.9h0M187.4 184.1h0M188.8 158.3h0M182.5 167.2h0M204.8 176.8h0M200.2 174.7h0M213.7 181.2h0M193.1 185.1h0M220.6 182.9h0M208.8 175.5h0M197.9 180.4h0M200.9 180.0h0M215.5 168.8h0M197.0 184.0h0M180.0 178.6h0M190.8 180.2h0M196.6 180.2h0M185.8 164.6h0M194.3 178.3h0M212.1 176.5h0M217.3 175.3h0M200.8 181.4h0M209.4 178.2h0M208.7 181.1h0M217.5 182.2h0M193.6 183.5h0M186.9 185.0h0M202.7 182.0h0M209.5 60.9h0M216.8 88.1h0M211.2 101.4h0M183.4 106.9h0M216.2 108.1h0M219.1 111.5h0M196.1 115.7h0M206.4 115.7h0M190.0 118.1h0M212.2 119.0h0M207.3 121.4h0M216.5 122.7h0M219.1 124.6h0M212.6 126.6h0M206.0 128.6h0M216.5 129.9h0M217.8 131.2h0M203.6 132.8h0M213.9 135.4h0M122.3 176.0h0M118.1 183.5h0M172.0 184.0h0M186.0 140.0h0M180.0 146.0h0M193.0 142.0h0M186.3 144.3h0M192.8 141.7h0M209.9 143.7h0M217.8 141.7h0M220.4 141.1h0M214.0 138.0h0M219.0 136.0h0" stroke="#375b8f" stroke-width="2.5" stroke-linecap="round"/>
<path d="M258.6 182.1h0M242.2 163.6h0M250.0 183.7h0M246.6 179.3h0M241.0 170.7h0M259.6 182.6h0M261.5 174.3h0M242.0 178.9h0M248.6 158.0h0M246.9 178.1h0M245.4 182.9h0M247.3 178.3h0M245.8 183.3h0M243.3 180.8h0M240.4 174.1h0M240.9 185.2h0M239.9 158.4h0M253.6 183.7h0M240.7 172.4h0M264.6 181.2h0M246.8 145.5h0M240.5 184.6h0M245.7 177.4h0M253.4 184.3h0M246.1 185.1h0M244.2 177.8h0M246.0 168.2h0M241.6 183.4h0M242.0 185.1h0M255.8 182.6h0M252.1 175.6h0M250.7 154.1h0M244.6 184.7h0M260.0 165.5h0M241.1 172.6h0M249.6 171.8h0M243.0 185.2h0M240.3 181.8h0M252.7 168.6h0M240.3 178.1h0M249.8 152.2h0M246.8 171.8h0M241.7 171.5h0M255.3 183.6h0M243.8 160.6h0M249.1 172.5h0M241.0 180.5h0M243.9 184.4h0M241.5 166.9h0M241.1 179.4h0M252.9 178.9h0M243.2 168.6h0M245.1 178.8h0M257.8 176.9h0M247.3 183.3h0M239.8 182.6h0M247.0 158.0h0M248.5 177.8h0M243.5 181.7h0M240.4 175.1h0M240.9 153.6h0M242.0 175.2h0M240.1 138.5h0M248.5 180.2h0M256.8 167.6h0M247.5 170.5h0M256.7 152.2h0M251.7 173.2h0M243.2 177.1h0M246.0 145.6h0M246.3 171.1h0M246.5 169.7h0M249.8 162.0h0M257.9 139.1h0M254.1 169.4h0M244.9 176.1h0M242.0 178.3h0M254.9 176.4h0M257.9 179.3h0M248.7 176.3h0M250.7 137.5h0M242.7 183.0h0M245.6 180.5h0M239.8 173.2h0M248.7 167.8h0M243.3 169.8h0M242.4 172.4h0M262.9 166.9h0M242.6 170.0h0M241.6 179.9h0M252.1 165.4h0M245.9 184.5h0M240.1 184.4h0M241.4 185.0h0M253.1 181.9h0M261.0 178.5h0M244.1 180.2h0M241.2 171.1h0M242.9 180.9h0M240.7 168.6h0M241.7 158.2h0M240.6 177.8h0M241.6 166.1h0M248.9 184.1h0M241.1 178.9h0M246.0 174.9h0M240.5 183.9h0M242.8 170.2h0M253.3 173.7h0M261.2 182.1h0M240.3 165.6h0M239.8 166.7h0M240.5 179.5h0M251.1 166.9h0M243.3 181.9h0M240.7 180.4h0M262.7 180.6h0M249.5 145.0h0M247.8 182.9h0M241.7 185.3h0M250.1 181.6h0M240.1 171.5h0M245.5 179.1h0M260.6 171.9h0M245.2 178.2h0M249.9 154.5h0M266.0 182.8h0M262.1 166.9h0M243.7 175.5h0M248.4 183.0h0M275.5 172.0h0M249.7 175.8h0M246.6 184.1h0M243.6 174.6h0M242.4 174.0h0M246.1 176.1h0M246.2 180.2h0M248.6 167.3h0M244.5 173.7h0M240.8 159.0h0M249.7 158.8h0M244.1 149.3h0M241.9 161.0h0M251.1 166.7h0M251.5 172.4h0M248.0 181.7h0M260.8 177.9h0M240.2 177.2h0M244.3 178.5h0M242.5 176.6h0M263.1 179.9h0M239.8 175.9h0M240.2 172.7h0M240.2 182.7h0M256.1 181.4h0M244.1 174.1h0M239.9 167.7h0M242.9 143.9h0M244.0 172.0h0M243.7 152.3h0M242.5 184.7h0M242.1 162.5h0M241.5 182.8h0M250.7 179.2h0M241.1 181.3h0M242.6 180.0h0M243.7 162.4h0M243.3 182.9h0M243.8 177.4h0M245.2 185.0h0M246.9 180.8h0M241.0 182.9h0M251.6 171.5h0M266.6 185.0h0M244.7 168.5h0M240.1 181.7h0M240.0 173.8h0M252.2 163.8h0M246.2 178.3h0M241.9 184.3h0M245.0 152.0h0M256.2 181.7h0M246.2 165.8h0M262.7 176.6h0M242.7 175.2h0M244.2 168.9h0M244.4 173.0h0M244.6 175.0h0M240.0 159.6h0M262.7 184.5h0M246.5 173.2h0M251.8 184.1h0M250.4 165.6h0M244.6 154.1h0M240.3 184.8h0M240.0 183.5h0M241.0 177.5h0M248.0 169.8h0M245.7 147.5h0M256.8 175.7h0M256.3 161.0h0M247.8 182.2h0M242.5 181.5h0M245.4 176.4h0M242.7 149.8h0M250.8 172.7h0M244.6 182.7h0M249.4 176.7h0M253.1 171.0h0M255.4 170.6h0M249.2 184.7h0M255.2 170.5h0M252.7 184.2h0M246.4 162.1h0M241.9 149.5h0M248.0 169.0h0M241.3 157.3h0M241.3 152.2h0M242.4 160.1h0M251.5 165.6h0M248.3 184.0h0M242.1 183.8h0M245.1 170.8h0M246.9 172.5h0M251.2 166.0h0M253.7 175.3h0M242.8 164.6h0M254.9 183.3h0M243.1 162.9h0M249.6 183.0h0M243.1 154.4h0M247.8 172.1h0M241.1 172.0h0M247.2 174.6h0M250.2 182.4h0M250.7 166.4h0M249.3 171.9h0M245.6 155.3h0M250.5 184.9h0M249.9 162.0h0M252.2 163.4h0M252.7 165.1h0M248.8 169.4h0M246.0 160.9h0M254.5 179.9h0M240.5 161.4h0M255.5 177.5h0M244.6 185.1h0M244.0 167.5h0M245.8 159.9h0M249.6 181.4h0M248.2 158.6h0M250.5 167.7h0M250.9 177.1h0M256.4 176.7h0M250.0 177.4h0M251.0 182.5h0M244.7 166.1h0M252.4 169.7h0M242.2 168.1h0M250.8 174.8h0M250.2 181.2h0M255.4 182.1h0M245.1 163.5h0M240.8 152.2h0M254.3 178.1h0M254.0 174.7h0M245.8 154.7h0M250.1 168.8h0M253.8 184.7h0M252.5 167.2h0M241.8 159.2h0M247.0 180.6h0M246.4 176.7h0M254.2 165.8h0M255.9 180.3h0M251.5 179.7h0M244.6 163.9h0M247.7 184.3h0M247.6 179.7h0M253.3 182.2h0M242.3 167.4h0M240.9 153.3h0M248.5 176.7h0M243.6 158.8h0M245.2 156.2h0M257.2 172.4h0M248.4 166.4h0M246.0 181.4h0M249.6 164.9h0M255.2 172.9h0M255.7 169.2h0M252.8 176.6h0M248.4 165.6h0M247.8 158.8h0M247.4 171.3h0M244.4 156.0h0M250.7 173.2h0M249.7 170.1h0M244.9 179.2h0M245.0 182.5h0M254.3 169.9h0M249.6 171.0h0M252.6 172.2h0M252.6 181.5h0M254.7 181.9h0M254.5 173.1h0M252.6 173.2h0M255.4 178.0h0M256.9 172.2h0M250.3 179.7h0M254.7 184.8h0M241.8 160.4h0M251.9 172.5h0M246.2 162.6h0M253.5 183.3h0M240.1 164.5h0M240.4 162.5h0M252.6 184.5h0M254.2 174.3h0M245.7 157.5h0M240.5 176.7h0M245.9 165.0h0M248.4 171.4h0M252.7 168.9h0M240.4 151.9h0M245.8 170.1h0M243.2 152.1h0M242.6 162.1h0M245.7 166.5h0M252.2 183.2h0M243.9 172.1h0M254.9 175.0h0M254.2 175.5h0M245.4 169.5h0M256.6 176.6h0M250.3 169.5h0M240.0 178.8h0M243.8 155.5h0M254.0 167.0h0M246.5 182.2h0M251.3 174.1h0M253.1 168.5h0M246.9 163.1h0M254.7 178.2h0M255.9 181.1h0M257.1 183.9h0M249.3 163.4h0M253.9 174.2h0M256.2 185.4h0M246.9 169.6h0M244.6 180.0h0M243.4 175.2h0M244.2 175.6h0M246.5 159.9h0M243.3 178.0h0M240.8 147.4h0M246.5 172.3h0M249.9 169.6h0M240.4 164.9h0M248.1 180.7h0M249.5 172.2h0M251.9 185.0h0M251.6 185.2h0M242.1 177.0h0M250.0 183.1h0M240.7 155.2h0M248.5 169.3h0M247.1 160.8h0M257.2 169.9h0M250.3 176.6h0M250.0 170.7h0M249.8 161.1h0M253.0 170.6h0M252.6 174.3h0M242.1 153.4h0M241.0 174.5h0M255.5 172.5h0M256.0 169.0h0M250.3 168.3h0M255.5 184.7h0M248.6 159.8h0M245.1 161.1h0M243.4 153.8h0M248.5 184.6h0M249.2 158.8h0M254.9 169.6h0M251.1 183.9h0M244.9 184.0h0M243.4 151.6h0M256.7 178.4h0M251.1 181.6h0M252.9 169.4h0M240.1 154.9h0M242.9 179.8h0M249.8 181.5h0M256.6 184.8h0M252.1 180.2h0M256.3 172.7h0M247.2 156.0h0M249.2 161.5h0M240.7 162.1h0M252.1 168.0h0M244.2 181.6h0M248.2 178.4h0M255.3 171.4h0M254.7 183.8h0M248.6 176.1h0M242.5 157.4h0M240.7 184.0h0M253.8 177.8h0M247.8 181.0h0M256.0 184.0h0M251.9 165.1h0M249.9 163.9h0M252.5 170.6h0M249.2 165.3h0M246.8 181.8h0M254.7 177.4h0M245.9 157.9h0M257.2 178.0h0M250.4 161.4h0M245.4 180.0h0M239.9 167.3h0M244.2 171.7h0M254.4 176.7h0M249.5 167.2h0M246.7 165.7h0M245.4 172.4h0M255.2 168.8h0M251.8 173.5h0M243.1 182.2h0M243.3 177.9h0M250.0 171.7h0M244.8 158.7h0M249.5 177.4h0M239.9 168.7h0M251.4 174.6h0M249.0 181.0h0M256.5 174.8h0M249.8 179.0h0M251.8 181.7h0M252.8 176.8h0M241.1 156.0h0M248.2 179.2h0M242.7 158.0h0M255.4 174.5h0M256.4 173.1h0M255.7 173.7h0M253.2 154.0h0M262.7 183.4h0M244.7 180.7h0M275.6 154.6h0M264.7 153.9h0M273.2 184.7h0M274.0 161.3h0M258.2 172.8h0M255.9 172.7h0M247.2 184.9h0M244.7 156.5h0M270.9 169.7h0M273.4 167.8h0M259.5 171.3h0M259.3 175.7h0M243.6 161.4h0M259.0 179.0h0M267.5 174.4h0M246.2 175.0h0M271.1 175.1h0M265.9 175.9h0M275.8 180.5h0M251.8 170.9h0M241.3 176.1h0M242.5 179.5h0M270.7 182.7h0M270.0 182.7h0M244.5 181.2h0M254.4 183.2h0M275.3 182.5h0M247.2 184.1h0M266.5 169.8h0M274.7 164.7h0M253.3 175.5h0M256.9 179.9h0M273.3 162.1h0M242.0 180.9h0M259.9 173.0h0M274.2 183.1h0M268.5 185.2h0M265.3 174.5h0M256.8 181.6h0M252.0 172.9h0M245.4 172.6h0M267.5 182.5h0M261.3 184.8h0M243.6 166.2h0M260.6 105.2h0M253.0 109.9h0M254.6 110.4h0M245.9 119.6h0M267.7 135.4h0M269.5 142.0h0M302.4 154.3h0M295.8 171.4h0M299.2 182.7h0M278.0 165.1h0M274.3 153.3h0M263.8 153.3h0M249.0 128.0h0M244.0 130.0h0M250.0 133.0h0M256.0 138.0h0M260.0 140.0h0M246.0 140.0h0M242.5 129.3h0M244.0 130.7h0M249.1 128.6h0M251.3 128.6h0M248.4 131.2h0M243.2 133.7h0M246.2 133.2h0M246.9 136.6h0M249.8 138.5h0M242.5 138.8h0M246.2 141.0h0M245.4 143.2h0M252.7 141.4h0M257.1 143.6h0M262.2 144.6h0M243.2 147.1h0M250.5 149.0h0" stroke="#c32427" stroke-width="2.5" stroke-linecap="round"/>
</g>
<line x1="221.50" y1="54.00" x2="221.50" y2="203.40" stroke="#333" stroke-width="0.75" stroke-dasharray="1.7,1.45" />
<line x1="239.90" y1="54.00" x2="239.90" y2="203.40" stroke="#333" stroke-width="0.75" stroke-dasharray="1.7,1.45" />
<line x1="48.50" y1="185.50" x2="340.00" y2="185.50" stroke="#333" stroke-width="0.75" stroke-dasharray="1.7,1.45" />
<line x1="48.50" y1="54.00" x2="48.50" y2="203.40" stroke="#333" stroke-width="0.8" />
<line x1="48.50" y1="203.40" x2="340.00" y2="203.40" stroke="#333" stroke-width="0.8" />
<line x1="79.30" y1="203.40" x2="79.30" y2="205.40" stroke="#333" stroke-width="0.6" />
<text x="79.30" y="210.30" font-size="4.8" fill="#222" text-anchor="middle"  stroke="#222" stroke-width="0.09" xml:space="preserve">−10</text>
<line x1="155.00" y1="203.40" x2="155.00" y2="205.40" stroke="#333" stroke-width="0.6" />
<text x="155.00" y="210.30" font-size="4.8" fill="#222" text-anchor="middle"  stroke="#222" stroke-width="0.09" xml:space="preserve">−5</text>
<line x1="230.70" y1="203.40" x2="230.70" y2="205.40" stroke="#333" stroke-width="0.6" />
<text x="230.70" y="210.30" font-size="4.8" fill="#222" text-anchor="middle"  stroke="#222" stroke-width="0.09" xml:space="preserve">0</text>
<line x1="306.40" y1="203.40" x2="306.40" y2="205.40" stroke="#333" stroke-width="0.6" />
<text x="306.40" y="210.30" font-size="4.8" fill="#222" text-anchor="middle"  stroke="#222" stroke-width="0.09" xml:space="preserve">5</text>
<line x1="46.50" y1="196.40" x2="48.50" y2="196.40" stroke="#333" stroke-width="0.6" />
<text transform="translate(46.20,196.40) rotate(-90)" font-size="4.8" fill="#222" text-anchor="middle">0</text>
<line x1="46.50" y1="154.20" x2="48.50" y2="154.20" stroke="#333" stroke-width="0.6" />
<text transform="translate(46.20,154.20) rotate(-90)" font-size="4.8" fill="#222" text-anchor="middle">5</text>
<line x1="46.50" y1="112.00" x2="48.50" y2="112.00" stroke="#333" stroke-width="0.6" />
<text transform="translate(46.20,112.00) rotate(-90)" font-size="4.8" fill="#222" text-anchor="middle">10</text>
<line x1="46.50" y1="69.80" x2="48.50" y2="69.80" stroke="#333" stroke-width="0.6" />
<text transform="translate(46.20,69.80) rotate(-90)" font-size="4.8" fill="#222" text-anchor="middle">15</text>
<text x="175.00" y="216.80" font-size="6.3" fill="#111" textLength="38.60" lengthAdjust="spacingAndGlyphs"  stroke="#111" stroke-width="0.09" xml:space="preserve">log2FoldChange</text>
<text transform="translate(39.8,129.0) rotate(-90)" font-size="6.3" fill="#111" text-anchor="middle" textLength="67.6" lengthAdjust="spacingAndGlyphs">−log10(Adjust P−value)</text>
<text x="204.00" y="64.90" font-size="4.3" fill="#375b8f" font-weight="bold" text-anchor="middle" textLength="12.53" lengthAdjust="spacingAndGlyphs" stroke="#375b8f" stroke-width="0.18" xml:space="preserve">INHBB</text>
<text x="225.70" y="84.80" font-size="4.3" fill="#375b8f" font-weight="bold" text-anchor="middle" textLength="12.24" lengthAdjust="spacingAndGlyphs" stroke="#375b8f" stroke-width="0.18" xml:space="preserve">LATS2</text>
<text x="201.40" y="91.70" font-size="4.3" fill="#375b8f" font-weight="bold" text-anchor="middle" textLength="13.19" lengthAdjust="spacingAndGlyphs" stroke="#375b8f" stroke-width="0.18" xml:space="preserve">DUSP1</text>
<text x="219.80" y="98.60" font-size="4.3" fill="#375b8f" font-weight="bold" text-anchor="middle" textLength="15.17" lengthAdjust="spacingAndGlyphs" stroke="#375b8f" stroke-width="0.18" xml:space="preserve">HSPB11</text>
<text x="187.30" y="101.30" font-size="4.3" fill="#375b8f" font-weight="bold" text-anchor="middle" textLength="12.68" lengthAdjust="spacingAndGlyphs" stroke="#375b8f" stroke-width="0.18" xml:space="preserve">EPAS1</text>
<text x="172.70" y="104.80" font-size="4.3" fill="#375b8f" font-weight="bold" text-anchor="middle" textLength="5.72" lengthAdjust="spacingAndGlyphs" stroke="#375b8f" stroke-width="0.18" xml:space="preserve">IL6</text>
<text x="204.00" y="109.80" font-size="4.3" fill="#375b8f" font-weight="bold" text-anchor="middle" textLength="12.89" lengthAdjust="spacingAndGlyphs" stroke="#375b8f" stroke-width="0.18" xml:space="preserve">ACAT2</text>
<text x="234.90" y="107.60" font-size="4.3" fill="#375b8f" font-weight="bold" text-anchor="middle" textLength="10.33" lengthAdjust="spacingAndGlyphs" stroke="#375b8f" stroke-width="0.18" xml:space="preserve">CCT8</text>
<text x="183.40" y="114.00" font-size="4.3" fill="#375b8f" font-weight="bold" text-anchor="middle" textLength="15.61" lengthAdjust="spacingAndGlyphs" stroke="#375b8f" stroke-width="0.18" xml:space="preserve">FAM83A</text>
<text x="218.70" y="117.30" font-size="4.3" fill="#375b8f" font-weight="bold" text-anchor="middle" textLength="13.63" lengthAdjust="spacingAndGlyphs" stroke="#375b8f" stroke-width="0.18" xml:space="preserve">NOS3C</text>
<text x="180.40" y="124.00" font-size="4.3" fill="#375b8f" font-weight="bold" text-anchor="middle" textLength="10.99" lengthAdjust="spacingAndGlyphs" stroke="#375b8f" stroke-width="0.18" xml:space="preserve">NPPB</text>
<text x="196.50" y="124.00" font-size="4.3" fill="#375b8f" font-weight="bold" text-anchor="middle" textLength="10.55" lengthAdjust="spacingAndGlyphs" stroke="#375b8f" stroke-width="0.18" xml:space="preserve">PRR9</text>
<text x="231.00" y="124.00" font-size="4.3" fill="#375b8f" font-weight="bold" text-anchor="middle" textLength="10.99" lengthAdjust="spacingAndGlyphs" stroke="#375b8f" stroke-width="0.18" xml:space="preserve">MAFF</text>
<text x="208.00" y="129.50" font-size="4.3" fill="#375b8f" font-weight="bold" text-anchor="middle" textLength="11.65" lengthAdjust="spacingAndGlyphs" stroke="#375b8f" stroke-width="0.18" xml:space="preserve">GBGX</text>
<text x="191.10" y="133.50" font-size="4.3" fill="#375b8f" font-weight="bold" text-anchor="middle" textLength="12.97" lengthAdjust="spacingAndGlyphs" stroke="#375b8f" stroke-width="0.18" xml:space="preserve">NLRP3</text>
<text x="271.60" y="103.40" font-size="4.3" fill="#c32427" font-weight="bold" text-anchor="middle" textLength="18.03" lengthAdjust="spacingAndGlyphs" stroke="#c32427" stroke-width="0.18" xml:space="preserve">ZSCAN21</text>
<text x="250.60" y="107.60" font-size="4.3" fill="#c32427" font-weight="bold" text-anchor="middle" textLength="6.16" lengthAdjust="spacingAndGlyphs" stroke="#c32427" stroke-width="0.18" xml:space="preserve">ID1</text>
<text x="248.50" y="117.30" font-size="4.3" fill="#c32427" font-weight="bold" text-anchor="middle" textLength="10.55" lengthAdjust="spacingAndGlyphs" stroke="#c32427" stroke-width="0.18" xml:space="preserve">NBP1</text>
<text x="264.30" y="117.30" font-size="4.3" fill="#c32427" font-weight="bold" text-anchor="middle" textLength="10.12" lengthAdjust="spacingAndGlyphs" stroke="#c32427" stroke-width="0.18" xml:space="preserve">EPS8</text>
<text x="279.50" y="122.50" font-size="4.3" fill="#c32427" font-weight="bold" text-anchor="middle" textLength="13.04" lengthAdjust="spacingAndGlyphs" stroke="#c32427" stroke-width="0.18" xml:space="preserve">PAPPA</text>
<text x="303.70" y="127.80" font-size="4.3" fill="#c32427" font-weight="bold" text-anchor="middle" textLength="18.69" lengthAdjust="spacingAndGlyphs" stroke="#c32427" stroke-width="0.18" xml:space="preserve">ANKRD29</text>
<text x="248.00" y="126.50" font-size="4.3" fill="#c32427" font-weight="bold" text-anchor="middle" textLength="5.71" lengthAdjust="spacingAndGlyphs" stroke="#c32427" stroke-width="0.18" xml:space="preserve">AR</text>
<text x="262.20" y="127.00" font-size="4.3" fill="#c32427" font-weight="bold" text-anchor="middle" textLength="12.24" lengthAdjust="spacingAndGlyphs" stroke="#c32427" stroke-width="0.18" xml:space="preserve">LTBP1</text>
<text x="279.30" y="133.60" font-size="4.3" fill="#c32427" font-weight="bold" text-anchor="middle" textLength="18.90" lengthAdjust="spacingAndGlyphs" stroke="#c32427" stroke-width="0.18" xml:space="preserve">ARHGEF6</text>
<text x="235.90" y="133.80" font-size="4.3" fill="#c32427" font-weight="bold" text-anchor="middle" textLength="7.69" lengthAdjust="spacingAndGlyphs" stroke="#c32427" stroke-width="0.18" xml:space="preserve">TTN</text>
<text x="259.80" y="137.00" font-size="4.3" fill="#c32427" font-weight="bold" text-anchor="middle" textLength="10.26" lengthAdjust="spacingAndGlyphs" stroke="#c32427" stroke-width="0.18" xml:space="preserve">PAK3</text>
<text x="225.70" y="138.30" font-size="4.3" fill="#c32427" font-weight="bold" text-anchor="middle" textLength="19.79" lengthAdjust="spacingAndGlyphs" stroke="#c32427" stroke-width="0.18" xml:space="preserve">FAM114A2</text>
<text x="277.40" y="143.00" font-size="4.3" fill="#c32427" font-weight="bold" text-anchor="middle" textLength="11.21" lengthAdjust="spacingAndGlyphs" stroke="#c32427" stroke-width="0.18" xml:space="preserve">GNG2</text>
<text x="295.80" y="143.00" font-size="4.3" fill="#c32427" font-weight="bold" text-anchor="middle" textLength="16.27" lengthAdjust="spacingAndGlyphs" stroke="#c32427" stroke-width="0.18" xml:space="preserve">NCKAP5</text>
<text x="235.40" y="144.30" font-size="4.3" fill="#c32427" font-weight="bold" text-anchor="middle" textLength="13.19" lengthAdjust="spacingAndGlyphs" stroke="#c32427" stroke-width="0.18" xml:space="preserve">EPHB6</text>
<line x1="196.00" y1="92.00" x2="210.00" y2="100.00" stroke="#999" stroke-width="0.3" />
<line x1="188.00" y1="101.50" x2="205.00" y2="114.00" stroke="#999" stroke-width="0.3" />
<line x1="214.00" y1="99.00" x2="212.00" y2="118.00" stroke="#999" stroke-width="0.3" />
<line x1="230.00" y1="106.50" x2="220.00" y2="111.00" stroke="#999" stroke-width="0.3" />
<line x1="280.00" y1="122.50" x2="256.00" y2="128.00" stroke="#999" stroke-width="0.3" />
<line x1="296.00" y1="127.50" x2="254.00" y2="131.00" stroke="#999" stroke-width="0.3" />
<line x1="270.00" y1="133.50" x2="251.00" y2="130.00" stroke="#999" stroke-width="0.3" />
<line x1="287.00" y1="143.00" x2="260.00" y2="139.00" stroke="#999" stroke-width="0.3" />
<line x1="245.00" y1="125.50" x2="240.00" y2="132.00" stroke="#999" stroke-width="0.3" />
<text x="341.70" y="15.60" font-size="21" fill="#231f20"  xml:space="preserve">B</text>
<text x="435.10" y="16.00" font-size="11.3" fill="#231f20" font-weight="bold" textLength="169.30" lengthAdjust="spacingAndGlyphs"  xml:space="preserve">M9a+shCTR vs M7/8+shCTR</text>
<text x="529.00" y="43.80" font-size="6.1" fill="#111" textLength="14.60" lengthAdjust="spacingAndGlyphs" stroke="#111" stroke-width="0.12" xml:space="preserve">Group</text>
<circle cx="548.20" cy="41.50" r="0.95" fill="#375b8f" stroke="none" stroke-width="0.5"/>
<text x="553.00" y="43.80" font-size="6.1" fill="#111" textLength="13.90" lengthAdjust="spacingAndGlyphs" stroke="#111" stroke-width="0.12" xml:space="preserve">Down</text>
<circle cx="572.00" cy="41.50" r="0.95" fill="#bababa" stroke="none" stroke-width="0.5"/>
<text x="576.90" y="43.80" font-size="6.1" fill="#111" textLength="12.90" lengthAdjust="spacingAndGlyphs" stroke="#111" stroke-width="0.12" xml:space="preserve">None</text>
<circle cx="594.90" cy="41.50" r="0.95" fill="#c32427" stroke="none" stroke-width="0.5"/>
<text x="600.20" y="43.80" font-size="6.1" fill="#111" textLength="6.90" lengthAdjust="spacingAndGlyphs" stroke="#111" stroke-width="0.12" xml:space="preserve">Up</text>
<g clip-path="url(#clipB)">
<path d="M560.7 180.0h0M573.7 185.8h0M606.2 186.3h0M566.5 192.2h0M597.1 177.0h0M585.9 187.8h0M557.0 177.4h0M584.3 157.7h0M577.5 186.9h0M564.7 191.9h0M562.8 188.5h0M578.0 192.2h0M589.1 179.1h0M541.0 178.4h0M556.5 192.1h0M549.3 191.7h0M578.6 189.2h0M554.9 187.3h0M553.9 187.4h0M584.8 164.2h0M607.0 180.0h0M532.6 185.7h0M553.7 184.5h0M580.5 190.7h0M574.0 145.4h0M602.1 179.4h0M596.8 177.8h0M571.7 144.4h0M613.5 187.9h0M636.5 180.6h0M599.3 185.3h0M565.3 182.7h0M611.2 181.5h0M583.9 184.1h0M593.8 189.8h0M575.9 168.8h0M581.9 179.3h0M600.5 177.9h0M551.3 181.1h0M602.2 190.0h0M556.7 179.3h0M589.4 184.2h0M549.7 177.6h0M551.4 185.9h0M579.3 192.3h0M578.2 181.3h0M567.4 187.7h0M536.4 187.8h0M571.2 190.3h0M568.6 191.8h0M562.6 179.7h0M583.3 180.0h0M581.9 185.7h0M590.7 191.3h0M620.2 186.8h0M557.4 191.5h0M579.9 192.3h0M564.6 178.1h0M580.6 187.7h0M571.9 164.8h0M623.5 185.7h0M585.5 180.7h0M554.6 181.0h0M579.1 190.5h0M567.0 192.8h0M596.4 190.4h0M599.9 189.4h0M590.9 189.5h0M594.1 178.8h0M596.2 187.0h0M571.6 163.9h0M594.3 177.9h0M579.7 191.2h0M625.2 179.3h0M554.7 179.0h0M580.3 187.5h0M569.6 188.0h0M616.8 190.3h0M573.6 173.5h0M570.6 152.7h0M584.6 173.5h0M594.1 183.4h0M552.5 184.1h0M562.9 185.0h0M540.1 187.4h0M601.0 182.1h0M600.8 177.1h0M523.4 177.5h0M570.4 178.3h0M576.7 193.0h0M578.1 189.8h0M630.2 187.2h0M557.8 188.6h0M588.9 190.0h0M566.0 184.9h0M590.8 185.7h0M588.7 185.2h0M591.4 189.7h0M623.5 186.9h0M548.1 186.9h0M613.5 177.9h0M530.1 187.2h0M579.5 193.1h0M555.7 185.9h0M598.2 177.3h0M575.1 188.7h0M619.9 178.1h0M587.3 151.1h0M576.2 171.3h0M559.3 182.8h0M577.6 192.7h0M575.0 160.8h0M610.5 186.0h0M606.9 186.4h0M581.7 187.7h0M523.2 184.2h0M604.3 188.0h0M553.7 191.2h0M566.8 185.9h0M590.1 190.5h0M563.9 190.7h0M610.6 185.7h0M594.5 192.5h0M549.2 178.0h0M594.8 188.7h0M582.1 169.6h0M571.3 173.9h0M586.2 180.4h0M602.1 181.4h0M610.8 186.8h0M571.6 181.3h0M591.1 180.4h0M592.4 185.9h0M560.7 186.9h0M607.5 184.4h0M596.1 183.2h0M620.2 179.7h0M576.5 188.6h0M582.2 184.5h0M599.9 190.4h0M573.0 176.8h0M609.1 178.8h0M581.3 187.2h0M524.2 179.1h0M571.8 156.4h0M581.1 176.9h0M554.3 181.9h0M599.3 182.3h0M558.3 186.7h0M583.2 192.6h0M565.5 190.0h0M604.4 188.5h0M607.5 191.9h0M563.1 191.8h0M590.3 179.9h0M574.9 152.6h0M628.5 186.2h0M552.5 189.0h0M546.9 186.2h0M562.5 183.7h0M591.9 181.2h0M548.5 182.9h0M603.8 179.9h0M590.2 185.2h0M592.1 188.8h0M550.6 184.2h0M562.3 183.5h0M562.7 188.7h0M571.8 170.0h0M548.4 181.4h0M623.1 178.4h0M595.0 187.5h0M606.2 183.3h0M596.8 181.8h0M573.2 174.0h0M543.2 190.0h0M550.2 177.2h0M584.4 187.7h0M563.4 187.8h0M569.9 188.9h0M569.3 180.3h0M591.8 178.3h0M563.9 191.8h0M589.7 184.6h0M578.5 185.7h0M516.2 178.0h0M587.2 187.6h0M596.4 178.8h0M579.9 192.3h0M600.2 179.8h0M591.3 192.6h0M585.9 179.5h0M568.0 180.5h0M559.4 184.5h0M618.6 181.8h0M607.3 177.8h0M596.6 190.8h0M554.5 187.3h0M555.7 189.7h0M616.8 179.5h0M578.4 183.0h0M586.9 185.0h0M617.3 185.0h0M543.3 180.8h0M602.3 188.9h0M592.0 184.7h0M574.3 146.9h0M601.0 179.5h0M584.5 160.0h0M575.0 180.5h0M613.3 190.9h0M568.3 189.9h0M596.5 183.8h0M548.7 178.5h0M567.4 192.8h0M540.0 184.5h0M586.5 186.0h0M551.7 186.3h0M610.8 188.2h0M586.7 139.4h0M563.3 179.5h0M571.8 169.2h0M591.9 184.6h0M626.6 182.5h0M610.2 181.0h0M564.3 185.8h0M600.7 192.4h0M597.8 177.7h0M584.5 157.0h0M587.5 192.7h0M564.5 182.9h0M622.1 183.9h0M565.4 191.9h0M569.6 191.4h0M584.7 150.7h0M587.9 151.8h0M594.9 184.3h0M585.4 191.4h0M558.7 179.1h0M598.8 180.2h0M594.4 177.9h0M587.4 153.5h0M588.7 187.6h0M574.5 181.7h0M571.8 187.6h0M590.2 182.1h0M542.1 181.1h0M601.6 185.3h0M597.2 179.6h0M558.8 188.0h0M586.3 168.3h0M581.1 184.2h0M575.4 157.3h0M590.2 185.8h0M589.3 188.6h0M557.3 185.4h0M614.4 186.3h0M540.7 185.9h0M625.9 178.4h0M557.4 184.8h0M583.5 193.1h0M533.1 183.9h0M562.0 192.7h0M585.2 175.9h0M611.5 186.7h0M566.5 179.9h0M586.3 193.1h0M533.1 183.6h0M572.6 163.3h0M539.0 177.3h0M603.8 183.0h0M580.7 182.7h0M619.5 189.8h0M586.3 166.4h0M566.0 179.7h0M570.9 145.1h0M545.6 190.0h0M609.6 191.3h0M580.6 183.3h0M564.5 188.8h0M572.2 192.8h0M578.7 193.1h0M615.8 182.5h0M585.6 152.7h0M552.8 183.0h0M561.7 186.2h0M553.8 190.2h0M577.5 187.6h0M603.0 185.3h0M600.8 180.8h0M582.1 193.1h0M585.4 177.4h0M572.6 175.9h0M562.0 184.6h0M567.9 191.8h0M553.1 189.4h0M578.0 179.4h0M600.0 177.2h0M543.4 179.3h0M583.7 165.7h0M637.0 178.7h0M587.1 148.1h0M528.7 180.2h0M561.9 188.0h0M581.8 182.6h0M627.1 182.5h0M609.4 185.9h0M590.2 183.4h0M545.7 180.9h0M562.7 187.5h0M617.8 187.6h0M563.0 186.4h0M582.1 192.4h0M565.1 187.1h0M595.0 185.2h0M608.2 187.6h0M571.7 168.9h0M590.0 183.4h0M578.2 188.5h0M592.2 190.8h0M581.0 192.5h0M601.1 191.1h0M583.9 167.3h0M597.2 180.2h0M563.6 187.2h0M560.9 179.3h0M566.0 180.9h0M577.0 192.0h0M561.5 192.0h0M615.6 181.2h0M566.8 185.3h0M545.2 178.0h0M570.6 186.6h0M573.0 170.7h0M586.8 171.0h0M538.6 189.1h0M590.0 184.0h0M598.4 190.2h0M566.6 192.8h0M565.6 187.4h0M609.0 178.0h0M621.6 186.3h0M568.8 188.2h0M608.4 184.8h0M557.8 190.8h0M583.4 167.0h0M580.2 188.4h0M567.1 185.0h0M548.8 181.9h0M586.2 174.4h0M620.1 184.8h0M611.9 180.2h0M582.1 188.5h0M587.1 177.8h0M588.9 189.6h0M573.7 180.1h0M627.7 189.3h0M571.6 158.1h0M582.3 192.0h0M554.2 177.4h0M573.2 168.0h0M593.2 178.0h0M622.6 185.9h0M583.5 192.3h0M572.0 192.5h0M565.4 183.8h0M532.2 184.4h0M600.5 182.2h0M581.2 180.6h0M561.2 181.4h0M583.7 171.1h0M591.4 190.8h0M588.3 156.4h0M552.0 182.8h0M557.2 186.7h0M567.7 183.9h0M560.9 180.2h0M583.6 191.6h0M620.3 188.4h0M572.5 141.0h0M555.4 190.4h0M612.3 183.6h0M595.8 177.0h0M623.4 189.7h0M570.7 193.1h0M555.8 178.6h0M587.4 180.5h0M597.7 183.3h0M555.1 181.4h0M604.4 185.1h0M563.5 183.5h0M597.8 180.9h0M574.6 169.3h0M604.6 191.1h0M636.6 188.0h0M597.6 186.5h0M601.5 182.2h0M569.1 189.1h0M565.1 184.5h0M617.7 179.5h0M555.1 190.6h0M583.8 166.4h0M584.0 192.7h0M586.9 184.3h0M536.2 181.4h0M541.7 187.3h0M588.0 188.1h0M576.8 187.0h0M624.2 187.9h0M534.9 186.5h0M588.6 190.8h0M569.8 186.5h0M593.9 182.5h0M554.8 190.0h0M541.4 182.5h0M564.6 191.5h0M567.9 187.1h0M588.9 183.0h0M607.7 184.7h0M557.4 182.8h0M525.3 177.5h0M565.4 181.9h0M584.8 179.6h0M557.2 180.3h0M603.4 182.4h0M544.5 180.8h0M552.5 178.5h0M588.1 146.4h0M604.9 180.3h0M596.8 178.3h0M594.1 185.4h0M551.8 189.4h0M569.4 179.2h0M582.5 190.8h0M582.5 181.3h0M615.4 182.7h0M596.4 180.5h0M560.4 179.5h0M599.2 187.6h0M533.5 182.2h0M576.5 176.5h0M619.3 180.4h0M563.6 178.4h0M548.0 177.2h0M610.8 187.3h0M517.1 186.5h0M565.4 180.4h0M567.2 179.4h0M614.2 188.6h0M576.0 189.6h0M569.4 184.1h0M542.6 177.2h0M572.0 193.0h0M582.8 180.5h0M604.6 177.2h0M571.3 177.0h0M582.9 184.4h0M600.0 191.6h0M583.0 161.3h0M603.8 192.0h0M613.1 188.6h0M540.2 179.8h0M584.4 182.8h0M565.3 192.5h0M589.3 180.4h0M612.3 188.1h0M566.5 181.4h0M600.2 180.4h0M584.3 190.0h0M604.6 183.9h0M614.3 181.7h0M596.2 191.9h0M602.9 184.3h0M583.8 191.0h0M572.7 189.3h0M580.9 192.1h0M583.2 177.8h0M585.5 187.5h0M572.2 154.2h0M565.0 181.0h0M594.1 190.7h0M622.1 178.3h0M576.0 170.7h0M533.8 185.2h0M592.7 178.3h0M576.1 190.7h0M586.6 160.3h0M555.3 182.1h0M596.1 178.2h0M607.2 181.5h0M581.1 178.5h0M603.4 188.4h0M585.6 185.6h0M575.1 162.9h0M575.7 176.4h0M582.4 192.0h0M566.9 183.0h0M607.3 187.5h0M573.8 172.7h0M599.8 190.7h0M566.1 191.2h0M614.6 180.4h0M603.8 179.3h0M598.8 192.2h0M552.3 188.3h0M569.1 190.3h0M589.6 190.8h0M599.0 186.0h0M548.4 180.2h0M569.3 192.0h0M582.9 171.9h0M637.7 187.4h0M560.3 180.6h0M596.5 185.2h0M599.3 178.4h0M576.8 189.7h0M562.1 182.5h0M561.8 179.2h0M618.7 188.6h0M568.0 190.3h0M586.8 181.3h0M600.2 184.5h0M571.2 188.6h0M535.3 183.1h0M562.9 191.1h0M563.4 188.7h0M583.0 184.2h0M553.3 186.2h0M601.5 180.5h0M605.2 191.0h0M606.0 177.7h0M608.7 179.8h0M628.2 183.7h0M587.4 156.1h0M583.6 186.5h0M573.9 191.1h0M602.9 181.1h0M582.9 182.5h0M567.3 178.5h0M590.5 177.8h0M568.3 185.6h0M615.1 191.0h0M598.3 185.4h0M597.4 192.5h0M576.6 180.1h0M584.0 152.6h0M579.3 191.3h0M595.8 184.8h0M548.2 178.2h0M615.1 188.4h0M589.6 187.8h0M576.3 172.1h0M542.5 178.3h0M542.3 178.9h0M603.9 178.8h0M584.4 152.6h0M574.3 148.3h0M548.8 186.7h0M565.8 188.7h0M571.2 153.2h0M575.4 172.9h0M589.8 189.6h0M622.5 187.7h0M604.1 186.2h0M598.3 178.8h0M616.8 186.0h0M543.0 179.0h0M587.5 159.5h0M513.2 182.5h0M606.5 190.7h0M568.7 180.2h0M580.8 189.5h0M605.9 188.7h0M568.2 177.9h0M550.2 182.9h0M585.1 184.6h0M564.7 180.9h0M547.1 185.7h0M567.7 180.9h0M581.8 187.3h0M574.0 168.7h0M575.7 159.6h0M557.3 184.4h0M593.1 187.1h0M572.9 154.3h0M572.3 147.7h0M567.3 178.3h0M604.1 182.7h0M583.5 163.4h0M575.5 182.5h0M560.1 186.2h0M590.3 184.0h0M575.5 174.3h0M548.8 177.4h0M593.6 191.5h0M566.0 178.7h0M559.0 178.7h0M577.2 183.9h0M576.7 181.9h0M573.1 192.9h0M548.0 177.4h0M533.8 184.4h0M562.6 190.3h0M584.7 180.0h0M606.7 186.7h0M547.3 182.4h0M548.0 184.2h0M605.0 179.1h0M539.7 184.1h0M577.9 184.9h0M587.5 174.5h0M620.2 185.5h0M584.3 193.1h0M605.3 180.9h0M589.0 191.5h0M547.9 185.2h0M592.2 191.2h0M586.1 185.1h0M583.5 170.9h0M571.0 161.2h0M560.3 187.0h0M576.0 184.2h0M583.7 182.6h0M614.7 184.0h0M559.1 190.1h0M595.6 181.0h0M603.1 180.8h0M599.6 185.9h0M593.6 183.3h0M580.0 189.6h0M602.1 177.6h0M578.2 186.9h0M548.2 187.6h0M571.0 144.8h0M585.3 174.6h0M637.4 184.1h0M604.1 181.4h0M583.5 190.7h0M566.7 190.2h0M570.1 178.3h0M543.0 186.1h0M567.8 182.6h0M611.2 185.6h0M563.1 189.5h0M581.2 176.3h0M561.9 180.3h0M548.1 184.8h0M564.3 188.5h0M567.5 184.3h0M589.7 186.6h0M584.7 146.0h0M541.5 186.3h0M586.0 188.4h0M570.3 180.8h0M626.1 183.2h0M567.6 177.8h0M605.8 181.0h0M584.3 191.4h0M600.8 177.6h0M549.6 189.4h0M573.3 181.7h0M570.8 173.8h0M579.0 189.1h0M555.0 187.7h0M543.7 185.6h0M600.1 181.0h0M609.4 188.8h0M616.0 181.7h0M602.1 184.0h0M588.6 146.3h0M574.5 162.3h0M627.1 177.6h0M593.8 188.8h0M570.4 191.2h0M535.8 177.7h0M596.9 182.4h0M589.1 187.0h0M565.6 192.2h0M593.1 184.6h0M558.7 183.7h0M551.4 181.6h0M569.7 181.0h0M527.9 179.4h0M590.1 181.0h0M541.7 186.1h0M557.2 177.4h0M568.3 185.1h0M605.1 182.3h0M595.2 182.5h0M574.2 192.8h0M560.0 188.7h0M600.4 181.2h0M609.0 189.2h0M524.0 184.6h0M564.4 188.7h0M613.4 189.5h0M600.1 188.1h0M606.2 178.7h0M590.0 185.5h0M607.0 178.9h0M583.6 177.6h0M587.2 193.0h0M538.0 179.1h0M628.8 187.3h0M534.5 183.6h0M560.2 190.1h0M577.9 190.5h0M569.2 184.9h0M571.8 141.2h0M577.0 191.4h0M528.1 181.9h0M571.6 142.8h0M636.5 181.6h0M539.0 178.4h0M602.6 183.6h0M553.1 186.7h0M622.6 189.1h0M537.7 185.8h0M594.8 182.0h0M583.4 164.4h0M565.1 188.6h0M539.2 180.3h0M608.0 182.2h0M583.5 180.2h0M600.6 185.2h0M577.4 178.9h0M575.3 192.3h0M564.9 180.3h0M556.7 186.1h0M572.4 163.8h0M574.1 176.5h0M537.7 189.8h0M577.9 189.6h0M540.5 187.8h0M546.2 183.3h0M590.6 183.0h0M561.3 189.5h0M580.9 188.8h0M597.3 185.7h0M590.7 179.0h0M587.6 182.4h0M584.7 153.4h0M561.6 187.5h0M582.4 165.4h0M575.2 169.9h0M570.1 187.2h0M615.5 184.1h0M545.4 190.8h0M595.7 192.0h0M601.7 183.5h0M575.9 176.8h0M616.1 187.0h0M563.2 178.9h0M591.5 188.4h0M596.9 189.3h0M586.1 159.9h0M589.2 178.2h0M604.9 185.8h0M585.5 141.1h0M635.4 184.3h0M595.8 191.0h0M594.4 180.7h0M588.7 183.6h0M595.7 185.9h0M560.8 183.3h0M583.3 188.3h0M557.6 187.0h0M587.5 146.8h0M548.4 186.1h0M576.6 176.7h0M605.9 190.0h0M592.1 183.0h0M595.8 184.3h0M592.0 190.5h0M555.6 185.5h0M583.3 156.5h0M580.7 187.4h0M564.4 185.6h0M559.3 188.4h0M608.3 182.8h0M584.7 149.0h0M591.5 178.7h0M605.2 178.2h0M566.0 183.3h0M548.5 181.5h0M574.6 193.1h0M565.5 179.3h0M560.1 189.7h0M593.0 188.0h0M604.8 184.9h0M591.3 191.5h0M566.6 187.9h0M592.3 187.4h0M553.8 182.5h0M627.6 185.5h0M601.3 185.8h0M582.0 177.5h0M576.1 169.9h0M630.4 178.4h0M610.6 182.1h0M597.2 188.1h0M563.4 192.5h0M561.8 188.7h0M555.2 192.1h0M584.1 150.4h0M568.2 189.2h0M599.1 192.4h0M560.0 187.4h0M588.5 173.6h0M598.1 177.3h0M576.5 192.8h0M571.3 149.9h0M621.5 181.5h0M580.9 184.2h0M545.9 187.4h0M592.9 191.8h0M578.9 189.6h0M567.6 180.7h0M602.6 187.2h0M586.7 177.5h0M582.4 188.5h0M569.7 182.0h0M534.4 178.9h0M608.3 178.3h0M572.3 188.0h0M574.1 173.6h0M607.4 177.9h0M615.6 185.7h0M577.3 185.7h0M553.8 183.6h0M599.2 180.9h0M607.5 185.3h0M608.9 183.6h0M595.2 179.3h0M607.6 187.5h0M607.8 189.4h0M569.4 189.7h0M533.6 182.1h0M601.4 189.3h0M570.9 171.3h0M563.4 182.0h0M592.6 180.8h0M517.5 177.2h0M585.9 193.1h0M585.4 173.7h0M586.4 155.7h0M581.4 183.6h0M589.1 191.1h0M584.3 168.9h0M584.1 187.1h0M576.6 169.6h0M599.1 187.4h0M589.5 188.9h0M554.1 178.2h0M582.3 191.7h0M578.8 187.1h0M578.0 186.0h0M552.8 181.0h0M558.3 184.5h0M578.0 186.7h0M587.8 165.2h0M575.6 177.7h0M562.7 181.8h0M601.1 191.0h0M580.8 190.4h0M603.6 190.4h0M595.0 187.3h0M590.7 191.9h0M558.6 187.4h0M578.5 185.9h0M589.0 185.9h0M545.9 188.6h0M607.7 191.1h0M539.9 183.2h0M581.6 188.3h0M598.2 186.9h0M580.5 185.1h0M607.6 177.7h0M561.8 183.8h0M578.3 187.7h0M568.5 185.3h0M580.9 185.6h0M553.0 177.1h0M592.2 183.6h0M610.1 183.2h0M587.0 192.7h0M577.3 189.7h0M593.0 191.0h0M551.2 190.0h0M627.5 183.9h0M586.7 162.0h0M586.6 179.9h0M639.4 184.9h0M565.9 192.7h0M517.9 187.1h0M616.2 180.5h0M578.7 192.5h0M582.8 162.6h0M568.9 183.4h0M580.2 191.0h0M602.1 179.9h0M538.3 187.2h0M582.2 189.9h0M613.8 181.3h0M588.7 184.4h0M586.3 158.2h0M598.4 182.6h0M567.6 179.5h0M599.2 183.6h0M597.3 177.0h0M586.7 193.1h0M533.5 186.7h0M571.6 157.9h0M571.0 178.4h0M595.0 184.0h0M555.5 191.8h0M585.7 163.0h0M594.5 178.9h0M594.5 182.8h0M562.4 185.9h0M582.0 170.1h0M599.2 184.9h0M572.5 191.0h0M558.9 180.3h0M619.4 180.0h0M596.8 189.2h0M604.7 187.8h0M559.5 185.3h0M628.9 180.2h0M584.5 174.2h0M642.6 186.8h0M600.2 187.5h0M586.1 171.0h0M554.6 185.1h0M593.8 192.4h0M528.9 187.3h0M585.1 170.3h0M574.8 168.8h0M540.9 180.3h0M525.0 183.2h0M563.6 181.3h0M537.0 186.3h0M611.1 188.9h0M566.9 188.5h0M544.4 183.2h0M520.5 177.6h0M562.0 180.8h0M586.9 164.3h0M550.3 185.0h0M578.5 190.5h0M573.0 189.5h0M601.5 187.0h0M577.1 171.0h0M558.0 187.6h0M524.7 177.2h0M557.4 190.3h0M553.7 189.2h0M618.9 184.3h0M534.4 184.1h0M610.0 182.5h0M539.8 186.3h0M552.0 178.2h0M626.5 186.7h0M610.0 190.1h0M570.0 185.0h0M606.4 178.5h0M599.7 188.5h0M595.8 190.3h0M597.3 188.1h0M556.8 185.5h0M559.6 184.9h0M634.2 178.7h0M565.9 187.8h0M583.9 180.3h0M598.6 186.6h0M583.2 182.8h0M587.1 149.3h0M589.6 178.4h0M557.9 183.8h0M602.7 191.0h0M583.8 182.0h0M622.8 184.7h0M646.4 179.2h0M622.0 182.5h0M621.7 180.9h0M585.1 162.8h0M613.9 179.1h0M591.3 187.6h0M560.7 184.6h0M550.9 186.2h0M526.6 182.0h0M598.0 184.7h0M586.2 187.2h0M543.9 184.0h0M601.4 184.6h0M627.0 186.7h0M598.1 191.0h0M565.0 177.0h0M553.3 181.2h0M624.1 186.9h0M594.4 178.1h0M533.0 180.4h0M607.3 182.7h0M585.1 192.9h0M533.8 179.4h0M622.1 188.9h0M571.1 140.1h0M603.0 178.2h0M591.4 180.3h0M575.7 186.0h0M590.8 185.1h0M582.0 190.3h0M593.9 179.4h0M592.6 189.2h0M576.8 184.5h0M574.6 156.8h0M574.3 154.9h0M538.3 180.6h0M612.9 184.2h0M628.4 188.6h0M554.9 184.6h0M590.4 178.2h0M557.6 189.0h0M576.4 186.1h0M572.9 154.9h0M606.8 184.9h0M610.5 180.5h0M587.0 147.3h0M542.7 184.7h0M552.4 191.4h0M584.4 177.4h0M563.3 185.0h0M583.2 191.4h0M620.9 182.0h0M624.9 182.2h0M604.3 179.2h0M540.1 190.3h0M566.2 187.3h0M593.8 184.7h0M573.8 191.8h0M566.7 177.5h0M526.5 180.7h0M574.1 158.4h0M528.7 179.5h0M552.4 189.4h0M558.7 180.1h0M578.0 180.1h0M586.7 191.3h0M562.0 177.2h0M553.0 178.3h0M612.8 183.4h0M563.1 185.4h0M571.3 149.2h0M580.9 184.7h0M573.6 160.3h0M593.1 181.1h0M564.4 187.2h0M586.2 183.2h0M601.1 189.3h0M598.2 182.9h0M617.5 184.1h0M622.6 185.4h0M636.0 183.1h0M580.3 185.1h0M561.7 190.6h0M595.3 191.5h0M577.0 190.4h0M615.6 189.6h0M608.8 188.3h0M549.8 191.2h0M611.1 190.1h0M583.0 185.0h0M563.6 190.6h0M577.3 192.4h0M566.6 180.8h0M553.4 182.5h0M599.6 191.3h0M571.5 170.2h0M550.6 183.7h0M542.7 186.6h0M599.4 190.2h0M588.1 189.7h0M571.5 176.5h0M558.3 177.0h0M569.8 180.0h0M595.5 182.6h0M554.1 182.8h0M586.8 187.8h0M585.1 149.2h0M602.8 190.4h0M559.3 179.4h0M588.5 164.4h0M583.6 190.2h0M569.8 180.6h0M556.4 180.3h0M629.3 182.3h0M622.3 185.6h0M609.7 180.6h0M582.5 172.5h0M514.9 185.6h0M590.6 189.2h0M562.3 190.8h0M595.1 186.2h0M559.8 189.4h0M610.3 186.6h0M568.0 185.7h0M585.4 169.8h0M596.9 191.3h0M569.6 178.5h0M580.5 183.8h0M548.6 190.5h0M598.6 181.7h0M570.2 191.5h0M550.5 186.6h0M547.0 188.2h0M556.6 186.7h0M553.1 187.2h0M551.6 188.1h0M556.6 177.0h0M553.4 183.2h0M591.0 179.8h0M571.3 169.5h0M580.5 192.1h0M549.6 181.9h0M609.9 184.7h0M571.4 149.0h0M592.8 190.0h0M596.1 185.4h0M559.5 188.0h0M591.3 177.6h0M564.6 178.6h0M574.8 160.1h0M569.3 180.0h0M596.2 184.1h0M597.5 183.4h0M575.6 170.1h0M584.1 183.2h0M609.3 185.1h0M573.3 165.9h0M626.0 183.2h0M589.3 177.5h0M618.2 185.0h0M546.4 181.1h0M582.1 184.9h0M564.3 188.1h0M577.2 179.6h0M597.1 185.8h0M589.0 185.2h0M598.4 184.4h0M572.1 154.8h0M538.6 190.3h0M598.7 184.5h0M573.5 139.5h0M556.9 188.6h0M535.4 182.3h0M598.7 190.8h0M593.4 179.4h0M559.9 191.8h0M563.7 181.4h0M565.4 177.4h0M571.6 177.5h0M585.7 174.4h0M563.2 186.0h0M569.6 185.2h0M591.8 186.5h0M535.3 188.8h0M572.5 177.4h0M588.9 182.5h0M589.9 180.2h0M592.7 192.7h0M578.0 185.3h0M633.6 181.6h0M568.6 192.7h0M589.8 179.0h0M618.3 179.0h0M622.6 177.1h0M563.2 177.4h0M582.1 181.2h0M602.7 189.4h0M550.7 191.0h0M612.3 180.7h0M602.1 179.7h0M587.4 140.9h0M566.7 178.4h0M561.9 179.6h0M567.9 186.3h0M547.7 183.3h0M603.4 189.8h0M573.4 192.9h0M611.9 191.1h0M577.7 176.4h0M550.8 178.9h0M614.8 182.7h0M587.1 139.6h0M515.6 186.4h0M544.3 181.6h0M593.8 180.2h0M597.9 179.8h0M605.4 189.6h0M574.1 183.5h0M569.8 190.0h0M556.3 182.6h0M560.8 191.3h0M604.8 191.8h0M605.7 179.8h0M572.1 159.1h0M575.5 190.7h0M559.0 180.4h0M613.7 177.8h0M585.0 157.1h0M578.1 180.3h0M568.9 183.2h0M607.7 180.5h0M560.6 177.4h0M598.9 177.5h0M585.5 157.6h0M571.1 173.4h0M575.9 188.8h0M529.8 179.6h0M591.2 177.9h0M588.3 175.1h0M593.9 186.3h0M542.5 189.0h0M556.1 177.6h0M550.0 190.2h0M591.2 183.3h0M590.8 183.3h0M591.9 191.8h0M590.3 187.9h0M598.2 185.7h0M624.8 183.3h0M576.3 181.5h0M542.1 181.8h0M576.7 191.2h0M599.8 183.1h0M584.9 183.8h0M574.2 165.8h0M593.7 180.4h0M562.6 178.4h0M583.1 166.0h0M624.0 177.3h0M567.0 182.6h0M562.2 187.4h0M523.0 182.5h0M563.3 180.8h0M583.9 188.4h0M612.8 184.0h0M591.3 188.1h0M605.6 184.1h0M570.2 184.0h0M562.0 177.8h0M575.5 186.4h0M546.6 186.9h0M553.0 177.8h0M561.8 191.5h0M574.8 186.9h0M604.6 184.2h0M610.1 179.4h0M588.0 174.7h0M566.8 190.6h0M571.6 182.4h0M570.7 172.1h0M603.9 177.2h0M585.3 178.6h0M584.8 167.7h0M604.1 190.2h0M603.8 188.1h0M592.2 180.6h0M571.8 162.7h0M562.5 189.5h0M553.8 184.5h0M562.1 183.2h0M622.0 177.9h0M609.2 181.1h0M616.1 188.2h0M605.2 191.3h0M572.3 178.8h0M630.2 179.2h0M576.0 183.6h0M585.8 190.6h0M574.9 183.3h0M542.2 188.7h0M574.1 178.8h0M617.3 190.7h0M567.2 181.5h0M571.0 192.6h0M579.1 192.1h0M550.2 184.2h0M594.9 186.3h0M569.2 192.4h0M574.4 179.8h0M619.8 190.1h0M592.7 188.1h0M600.2 186.4h0M566.0 183.9h0M586.1 155.4h0M571.7 182.7h0M543.1 184.6h0M608.6 191.0h0M622.0 179.9h0M559.4 187.2h0M584.3 156.5h0M580.2 193.1h0M619.5 183.5h0M550.0 185.9h0M584.7 165.6h0M597.7 192.2h0M563.1 192.3h0M610.0 183.4h0M569.1 187.2h0M577.7 191.2h0M576.5 171.1h0M580.3 187.4h0M591.3 180.5h0M537.9 180.7h0M586.7 174.9h0M574.0 188.5h0M596.6 187.6h0M590.1 182.3h0M585.1 191.8h0M612.3 190.0h0M558.0 180.4h0M617.7 181.3h0M564.6 190.2h0M590.1 179.1h0M554.9 180.3h0M609.4 183.5h0M587.9 172.7h0M550.9 177.6h0M552.1 184.6h0M605.8 187.2h0M554.4 190.7h0M558.3 177.8h0M594.5 189.3h0M575.6 164.1h0M557.9 187.2h0M608.8 185.7h0M597.8 191.3h0M555.9 190.9h0M607.5 183.5h0M552.4 190.8h0M560.7 181.7h0M549.9 180.1h0M562.3 185.5h0M612.1 180.4h0M575.7 166.5h0M598.2 187.3h0M607.4 189.8h0M547.8 186.3h0M568.2 178.9h0M633.4 178.5h0M603.8 180.6h0M553.3 184.4h0M583.5 179.5h0M543.3 183.2h0M584.2 158.1h0M557.2 183.6h0M535.7 182.6h0M527.9 179.7h0M552.0 189.0h0M587.9 192.8h0M564.4 179.7h0M571.6 191.0h0M521.2 183.8h0M516.1 178.7h0M574.8 186.6h0M589.8 180.5h0M574.0 179.6h0M576.2 193.0h0M543.4 184.4h0M529.2 179.1h0M547.1 191.4h0M586.1 187.6h0M564.5 192.8h0M623.7 190.1h0M564.0 186.6h0M587.5 187.3h0M552.0 182.0h0M603.9 182.0h0M578.0 193.0h0M540.8 180.3h0M581.8 191.4h0M584.0 174.4h0M623.1 181.5h0M578.6 191.5h0M546.2 180.6h0M602.1 182.9h0M582.8 167.2h0M610.4 182.0h0M598.3 188.0h0M605.3 185.7h0M620.2 183.4h0M576.5 182.8h0M537.9 187.6h0M600.1 179.2h0M543.6 178.2h0M577.5 182.8h0M591.8 179.3h0M553.2 183.5h0M531.9 183.1h0M552.5 182.2h0M566.3 190.8h0M554.0 189.3h0M631.4 177.1h0M582.8 189.8h0M612.7 182.7h0M585.3 192.9h0M561.5 182.7h0M550.9 180.3h0M557.9 190.3h0M602.8 179.9h0M561.8 178.9h0M571.5 192.3h0M546.9 184.7h0M641.6 180.7h0M602.5 191.7h0M569.8 177.3h0M642.1 184.9h0M598.9 179.6h0M624.8 188.5h0M593.0 181.8h0M605.6 184.8h0M618.4 189.9h0M580.2 191.1h0M575.7 191.3h0M587.7 192.0h0M554.8 177.3h0M583.8 179.2h0M542.0 190.9h0M602.1 188.6h0M585.6 188.6h0M565.1 185.5h0M625.5 189.6h0M603.9 179.8h0M595.8 178.6h0M587.7 173.5h0M549.8 179.7h0M572.8 191.5h0M633.9 183.2h0M554.8 189.1h0M618.7 183.2h0M595.9 188.2h0M616.1 185.6h0M613.3 188.9h0M593.1 179.9h0M579.2 190.9h0M604.1 185.6h0M589.1 189.3h0M547.1 189.5h0M615.7 179.9h0M581.5 191.1h0M569.9 178.7h0M598.6 184.0h0M551.6 183.7h0M590.0 188.9h0M623.1 182.7h0M560.6 178.0h0M608.0 188.6h0M572.2 193.0h0M592.1 177.9h0M560.3 178.8h0M577.3 180.3h0M592.5 181.9h0M594.7 184.5h0M576.5 166.5h0M571.8 161.8h0M585.6 177.1h0M582.7 193.1h0M558.3 190.0h0M635.1 181.2h0M621.7 178.1h0M550.7 187.1h0M569.5 183.4h0M584.1 176.0h0M573.6 176.9h0M554.4 182.9h0M609.1 190.8h0M571.0 189.0h0M591.3 179.6h0M551.9 185.5h0M586.1 149.8h0M594.6 187.6h0M570.0 188.6h0M607.5 189.9h0M565.3 189.5h0M631.1 182.9h0M587.5 176.2h0M603.1 182.2h0M557.3 187.7h0M641.4 186.5h0M584.9 152.6h0M600.7 191.0h0M549.6 191.0h0M582.0 186.7h0M582.7 170.6h0M579.9 189.5h0M578.2 184.3h0M583.3 180.8h0M581.3 183.2h0M628.6 182.3h0M573.4 164.1h0M575.9 175.0h0M552.4 181.6h0M551.4 184.7h0M616.1 188.1h0M560.4 188.1h0M557.4 188.7h0M570.5 192.9h0M589.5 181.9h0M591.2 182.3h0M564.2 178.6h0M528.6 183.0h0M577.5 180.9h0M546.0 191.0h0M572.6 149.3h0M568.4 187.8h0M533.1 188.0h0M574.1 164.7h0M619.7 180.4h0M592.9 177.0h0M573.0 176.2h0M581.3 186.3h0M563.0 182.4h0M566.1 182.5h0M606.3 183.5h0M596.1 186.6h0M582.8 171.5h0M625.2 188.5h0M642.6 178.0h0M546.7 190.4h0M593.9 177.1h0M554.1 177.7h0M594.0 186.9h0M571.8 174.5h0M577.6 178.8h0M593.4 183.9h0M567.3 191.1h0M523.7 178.9h0M558.8 185.9h0M581.8 191.0h0M567.3 186.9h0M616.6 189.0h0M616.4 186.1h0M601.3 178.4h0M568.9 181.9h0M583.0 165.2h0M528.2 181.4h0M638.4 177.5h0M621.9 183.2h0M547.5 178.5h0M622.1 188.2h0M553.1 191.8h0M583.8 160.2h0M598.7 181.5h0M535.3 188.2h0M556.6 191.3h0M524.9 186.8h0M532.4 187.6h0M642.8 179.8h0M583.6 157.3h0M546.2 191.4h0M594.4 185.3h0M598.5 189.4h0M586.0 164.3h0M588.0 177.6h0M567.8 183.1h0M558.0 182.9h0M595.2 184.9h0M586.2 146.5h0M573.8 179.0h0M590.1 185.7h0M576.2 177.7h0M602.6 180.9h0M578.5 192.0h0M549.8 182.7h0M551.9 177.6h0M586.4 164.8h0M579.8 190.1h0M587.2 186.3h0M607.1 189.1h0M643.9 184.8h0M576.5 165.3h0M624.5 184.2h0M568.7 187.8h0M563.9 180.6h0M549.0 187.8h0M588.6 184.5h0M539.4 187.6h0M574.9 157.0h0M591.5 192.1h0M572.6 188.7h0M547.3 186.4h0M578.8 187.7h0M616.7 180.0h0M590.5 184.5h0M592.3 178.0h0M612.4 186.8h0M546.2 188.9h0M611.4 184.7h0M619.1 177.8h0M603.3 182.0h0M571.3 147.1h0M605.1 180.4h0M562.8 186.3h0M584.7 168.1h0M607.2 186.2h0M563.0 192.0h0M556.3 183.2h0M556.5 185.8h0M575.2 175.4h0M587.9 146.0h0M611.8 177.2h0M613.5 183.7h0M581.5 190.8h0M583.0 183.6h0M582.2 180.4h0M573.6 145.2h0M607.2 180.7h0M609.6 190.3h0M591.2 177.7h0M530.6 177.2h0M568.2 177.4h0M549.6 187.5h0M592.0 192.7h0M584.3 192.3h0M609.2 180.2h0M535.4 187.6h0M590.2 180.9h0M561.0 188.1h0M603.4 188.8h0M573.7 191.1h0M589.3 187.6h0M559.6 181.8h0M611.9 184.3h0M572.8 164.8h0M519.7 181.9h0M574.3 174.1h0M604.4 183.4h0M595.5 189.4h0M584.0 161.3h0M611.9 178.7h0M609.9 184.3h0M560.0 177.5h0M594.8 190.7h0M600.6 189.5h0M576.2 187.8h0M575.2 187.9h0M537.8 180.9h0M561.3 183.6h0M557.8 179.0h0M610.0 191.2h0M544.1 177.1h0M555.2 188.4h0M558.6 189.5h0M558.7 189.2h0M535.4 180.1h0M555.6 184.8h0M625.8 180.0h0M562.1 186.8h0M597.6 180.8h0M591.1 189.1h0M605.0 185.7h0M564.2 184.1h0M573.0 176.1h0M596.6 180.0h0M597.3 187.1h0M585.1 165.5h0M533.8 178.0h0M552.7 186.0h0M578.2 182.6h0M581.3 189.4h0M586.7 182.8h0M570.6 156.1h0M580.7 191.6h0M597.4 187.8h0M584.2 148.4h0M587.6 154.5h0M566.4 183.5h0M560.0 185.2h0M586.5 189.0h0M588.5 152.3h0M625.4 177.2h0M578.5 184.9h0M583.6 192.1h0M563.9 182.8h0M559.1 181.9h0M590.5 191.1h0M593.1 177.5h0M574.3 178.2h0M537.6 182.2h0M587.8 176.7h0M611.5 188.1h0M606.2 177.9h0M565.2 182.8h0M562.9 191.5h0M579.9 189.2h0M587.1 153.0h0M534.4 177.5h0M576.0 184.6h0M571.7 184.5h0M630.1 188.3h0M558.3 192.2h0M539.3 188.2h0M567.5 177.1h0M577.5 188.8h0M590.8 192.2h0M565.3 186.7h0M585.9 175.5h0M581.6 175.4h0M575.8 192.1h0M528.0 177.0h0M602.8 188.2h0M606.5 183.9h0M592.2 189.6h0M586.7 168.4h0M569.8 189.7h0M586.0 157.4h0M560.7 188.5h0M567.4 188.9h0M628.1 182.2h0M579.3 191.0h0M556.8 190.3h0M624.5 185.6h0M570.8 162.2h0M615.0 186.3h0M610.5 189.4h0M550.7 189.3h0M559.0 191.8h0M628.1 189.1h0M557.9 186.9h0M569.5 178.8h0M584.7 188.2h0M622.6 182.4h0M604.8 189.8h0M600.4 191.1h0M555.8 188.1h0M580.8 181.4h0M537.2 178.2h0M542.1 179.9h0M588.6 150.6h0M573.4 174.4h0M598.5 191.6h0M535.0 189.3h0M566.8 177.4h0M590.6 177.2h0M591.7 184.1h0M585.9 147.4h0M571.1 179.1h0M618.4 188.9h0M595.1 180.4h0M526.9 188.2h0M615.7 188.5h0M572.7 144.1h0M582.1 188.7h0M577.4 172.7h0M628.9 183.3h0M547.0 180.1h0M613.5 179.4h0M551.7 185.8h0M594.2 188.0h0M610.1 180.8h0M564.8 184.3h0M555.7 187.9h0M630.7 185.6h0M620.2 187.6h0M614.0 183.9h0M600.0 185.0h0M535.9 186.1h0M572.3 161.4h0M613.7 189.9h0M596.8 190.6h0M573.6 178.1h0M574.0 187.4h0M593.4 177.4h0M598.2 181.5h0M584.7 166.2h0M548.4 188.6h0M565.5 177.9h0M575.3 161.9h0M583.9 186.0h0M613.3 181.9h0M534.1 177.3h0M554.4 184.9h0M536.8 183.4h0M575.8 188.5h0M549.4 185.0h0M609.0 190.2h0M584.4 189.5h0M554.7 189.6h0M601.5 191.5h0M546.5 181.9h0M601.9 189.6h0M573.3 165.9h0M549.6 185.7h0M561.5 186.9h0M542.1 188.0h0M583.4 174.7h0M566.3 188.2h0M619.8 186.1h0M589.3 184.6h0M588.7 186.9h0M563.9 179.9h0M595.6 189.0h0M592.9 179.1h0M517.5 180.5h0M530.5 182.6h0M615.1 180.3h0M561.6 184.2h0M527.4 186.0h0M596.0 179.4h0M543.5 185.9h0M547.9 189.1h0M629.2 183.3h0M556.4 187.5h0M590.1 187.2h0M586.8 167.3h0M587.8 157.1h0M573.7 192.9h0M592.2 177.1h0M530.8 179.4h0M557.2 180.8h0M573.9 150.5h0M557.4 179.4h0M538.0 182.6h0M564.5 177.7h0M581.5 190.4h0M559.1 178.2h0M582.6 170.8h0M623.6 185.4h0M605.4 186.4h0M550.2 185.4h0M587.6 144.0h0M561.7 186.8h0M549.8 178.8h0M605.4 188.2h0M572.7 184.1h0M610.9 178.9h0M567.5 186.2h0M576.3 162.0h0M571.3 141.0h0M546.1 184.5h0M554.3 183.5h0M595.8 186.4h0M577.2 188.6h0M563.0 182.9h0M559.8 178.3h0M591.6 183.5h0M568.5 180.8h0M552.9 185.0h0M619.8 182.7h0M583.1 190.3h0M527.3 185.2h0M572.3 180.7h0M615.1 185.2h0M576.2 183.3h0M572.7 185.5h0M586.5 176.3h0M570.3 187.8h0M581.4 193.1h0M610.2 177.9h0M593.9 191.3h0M568.9 177.7h0M596.9 186.4h0M527.8 185.7h0M610.2 185.7h0M609.3 182.2h0M550.9 190.3h0M583.7 169.2h0M617.2 189.8h0M536.6 185.2h0M597.5 190.9h0M583.5 189.1h0M598.4 179.8h0M550.0 180.2h0M577.4 190.6h0M595.1 182.8h0M571.1 191.2h0M601.0 186.4h0M548.8 186.3h0M543.1 178.0h0M639.1 182.0h0M614.1 186.8h0M586.1 172.6h0M584.1 178.7h0M612.0 182.9h0M524.0 186.9h0M564.6 179.1h0M577.0 170.6h0M599.5 190.9h0M528.2 184.2h0M585.9 186.1h0M567.3 191.6h0M576.3 174.8h0M538.4 189.3h0M575.6 165.6h0M638.8 180.3h0M580.5 186.3h0M611.1 190.9h0M583.4 170.5h0M570.2 190.7h0M531.4 177.5h0M615.1 190.2h0M595.0 188.4h0M557.4 179.0h0M605.5 181.8h0M613.6 185.8h0M580.9 181.6h0M599.0 183.1h0M570.5 187.5h0M582.1 168.1h0M588.3 191.5h0M576.3 177.9h0M570.7 176.7h0M570.6 190.0h0M545.9 185.3h0M591.8 189.1h0M556.7 187.7h0M605.0 181.4h0M531.9 180.9h0M553.8 185.9h0M610.4 187.2h0M571.8 160.4h0M575.6 183.8h0M577.6 184.1h0M572.8 187.7h0M614.7 189.2h0M559.1 189.1h0M572.2 176.5h0M574.6 190.3h0M561.2 190.0h0M582.6 183.2h0M545.9 183.0h0M605.6 187.5h0M572.8 157.2h0M606.3 179.5h0M594.7 190.1h0M581.9 174.6h0M619.8 189.0h0M526.9 178.2h0M612.7 178.8h0M573.9 175.8h0M571.1 143.1h0M606.2 185.1h0M534.2 181.2h0M573.2 187.4h0M541.2 189.1h0M616.9 182.8h0M588.9 182.2h0M584.6 170.8h0M605.1 188.0h0M544.6 184.3h0M577.5 185.0h0M589.1 181.4h0M587.9 175.5h0M600.6 179.9h0M570.5 152.4h0M577.2 193.1h0M586.5 183.5h0M581.3 182.0h0M619.2 187.9h0M599.2 180.4h0M587.5 169.7h0M595.8 183.0h0M539.9 185.5h0M541.2 190.4h0M587.3 184.0h0M563.9 192.4h0M546.2 182.4h0M548.7 191.5h0M566.3 186.8h0M599.4 187.0h0M587.9 140.5h0M585.3 179.8h0M582.1 178.4h0M562.6 184.1h0M545.1 181.4h0M596.5 188.6h0M597.2 184.7h0M588.2 167.3h0M558.7 185.0h0M542.9 183.1h0M546.8 184.7h0M549.6 182.9h0M597.8 185.0h0M548.1 186.3h0M594.6 181.4h0M639.6 186.0h0M531.2 188.5h0M620.0 179.5h0M540.9 185.5h0M564.2 184.6h0M571.5 173.0h0M615.8 183.4h0M574.1 189.2h0M606.7 192.0h0M605.5 177.6h0M562.9 187.7h0M606.4 182.9h0M588.3 189.1h0M584.1 173.7h0M625.9 182.3h0M571.5 167.0h0M600.8 187.1h0M546.3 179.0h0M578.2 187.4h0M539.6 184.7h0M585.0 184.3h0M594.2 190.1h0M588.0 173.3h0M595.7 183.7h0M595.5 178.6h0M571.2 180.4h0M614.2 177.2h0M598.3 180.6h0M624.6 177.6h0M614.6 186.3h0M533.6 187.2h0M564.6 183.5h0M618.1 179.5h0M588.7 192.0h0M605.7 183.9h0M571.7 153.4h0M568.1 188.6h0M558.6 182.3h0M572.3 174.8h0M607.6 177.1h0M607.1 184.3h0M567.2 189.7h0M564.7 187.9h0M566.7 187.2h0M587.4 150.1h0M552.1 191.1h0M536.3 185.9h0M540.4 181.2h0M554.9 182.0h0M592.5 183.7h0M545.2 189.0h0M583.8 153.8h0M603.1 190.7h0M596.0 180.0h0M549.9 188.4h0M561.9 178.2h0M594.0 186.3h0M589.4 192.2h0M575.3 179.9h0M602.3 179.0h0M586.4 192.2h0M604.6 190.3h0M531.7 180.9h0M566.3 182.2h0M576.3 166.7h0M581.7 189.2h0M576.5 166.6h0M625.4 185.9h0M586.6 181.5h0M615.9 182.9h0M608.2 186.7h0M568.2 190.7h0M572.3 190.1h0M550.3 189.7h0M582.8 164.3h0M574.1 160.1h0M612.0 185.1h0M583.6 154.7h0M583.2 186.1h0M555.7 186.6h0M586.9 146.8h0M556.4 188.8h0M565.3 184.2h0M542.3 182.3h0M569.2 177.3h0M554.7 182.8h0M573.3 167.1h0M593.7 185.9h0M597.9 189.3h0M575.0 154.3h0M574.2 169.4h0M574.7 192.0h0M608.2 182.6h0M560.7 187.5h0M564.1 179.5h0M560.7 184.1h0M575.5 168.9h0M585.0 168.4h0M622.5 187.6h0M540.8 184.0h0M540.0 177.9h0M600.1 178.3h0M605.6 179.1h0M529.4 187.3h0M606.1 191.1h0M557.5 181.8h0M553.4 185.5h0M563.2 182.5h0M585.9 184.6h0M585.7 168.3h0M581.5 179.8h0M522.5 186.2h0M565.8 181.6h0M580.5 184.1h0M591.5 192.6h0M566.6 185.3h0M622.2 181.5h0M547.9 181.6h0M603.6 183.9h0M566.1 177.6h0M564.4 177.2h0M605.2 179.8h0M601.9 188.4h0M544.8 182.1h0M600.7 188.9h0M537.7 183.1h0M582.3 172.7h0M585.5 189.1h0M601.6 179.0h0M634.6 184.8h0M637.3 184.6h0M546.7 180.4h0M523.8 182.7h0M567.6 179.9h0M565.3 178.8h0M567.3 183.6h0M596.6 191.3h0M546.1 181.9h0M583.5 163.3h0M555.7 187.5h0M600.8 186.7h0M591.8 187.0h0M539.7 180.4h0M581.5 192.3h0M622.9 183.3h0M608.5 190.0h0M584.1 176.3h0M511.4 181.1h0M553.9 179.5h0M561.3 181.8h0M538.8 181.9h0M620.5 177.0h0M621.9 186.1h0M600.6 178.9h0M566.4 186.3h0M581.4 179.4h0M588.5 155.8h0M530.9 184.6h0M584.0 151.6h0M584.9 190.7h0M602.1 184.5h0M586.4 179.1h0M562.3 189.4h0M587.8 170.9h0M612.2 191.3h0M609.8 180.2h0M576.7 182.4h0M575.6 171.3h0M619.3 183.1h0M629.1 188.6h0M647.5 180.2h0M557.4 186.0h0M606.6 178.0h0M574.6 182.5h0M586.9 165.9h0M579.0 188.2h0M573.8 151.3h0M555.9 178.6h0M530.1 183.4h0M587.1 152.0h0M551.9 188.6h0M589.3 186.3h0M576.2 182.3h0M617.9 186.9h0M570.6 150.7h0M552.2 180.5h0M544.0 188.7h0M606.0 181.5h0M573.2 141.1h0M554.6 189.8h0M621.3 183.1h0M589.9 188.2h0M569.6 182.6h0M593.7 186.8h0M569.6 188.4h0M547.7 187.0h0M562.5 188.5h0M582.8 173.7h0M604.3 180.9h0M585.7 170.8h0M586.5 187.1h0M573.7 142.3h0M574.9 188.9h0M569.8 185.9h0M574.7 174.5h0M583.0 181.9h0M568.4 179.9h0M570.5 162.7h0M559.1 191.1h0M561.0 185.3h0M572.7 145.3h0M609.4 182.0h0M568.0 177.0h0M611.6 178.9h0M556.0 184.4h0M618.2 182.0h0M602.8 191.1h0M590.7 177.1h0M600.4 182.1h0M558.8 188.6h0M598.6 182.6h0M545.2 187.3h0M604.6 190.8h0M621.4 185.6h0M560.5 190.7h0M575.2 192.7h0M597.2 190.4h0M618.5 187.4h0M549.9 185.6h0M565.7 190.5h0M600.0 183.9h0M619.2 181.3h0M567.2 181.8h0M576.6 164.8h0M608.3 182.1h0M584.6 146.4h0M607.5 187.3h0M585.3 185.7h0M602.1 181.7h0M612.0 186.3h0M583.3 168.5h0M625.4 181.8h0M575.0 184.8h0M574.6 170.0h0M584.0 172.5h0M585.1 166.2h0M555.0 179.3h0M633.1 180.9h0M599.1 188.9h0M571.7 175.9h0M540.0 178.7h0M631.6 182.1h0M594.3 179.8h0M521.6 183.3h0M622.2 183.3h0M611.2 179.5h0M557.3 189.8h0M572.9 163.2h0M584.1 193.1h0M571.7 151.4h0M617.5 182.1h0M589.9 191.6h0M576.9 183.8h0M537.8 178.2h0M603.8 186.7h0M566.2 179.3h0M602.8 189.3h0M571.5 165.2h0M518.9 179.0h0M562.5 180.8h0M595.2 188.9h0M550.2 181.6h0M578.5 190.4h0M587.9 191.0h0M548.5 189.2h0M596.6 192.6h0M584.7 192.3h0M612.8 181.6h0M537.6 188.7h0M581.3 181.5h0M628.4 179.7h0M518.4 177.5h0M563.2 188.3h0M566.5 189.3h0M601.1 177.6h0M566.1 186.9h0M588.2 191.5h0M564.2 178.1h0M552.0 187.0h0M574.2 163.4h0M587.7 181.9h0M598.8 188.2h0M615.5 179.6h0M584.0 162.3h0M606.0 184.0h0M598.7 179.1h0M599.8 185.8h0M551.0 191.7h0M531.8 177.0h0M584.3 189.1h0M628.9 183.8h0M584.6 147.4h0M549.3 181.0h0M585.9 147.1h0M575.0 167.3h0M556.2 185.3h0M532.8 182.8h0M602.3 177.4h0M516.1 179.6h0M593.7 192.5h0M538.6 180.2h0M595.4 178.4h0M570.4 184.5h0M541.8 188.6h0M557.3 182.3h0M586.4 156.7h0M618.2 179.8h0M616.0 178.1h0M612.5 179.4h0M574.2 166.2h0M580.1 190.0h0M545.8 190.2h0M551.9 182.6h0M590.7 190.0h0M571.4 140.1h0M608.5 188.6h0M554.9 186.5h0M568.4 191.4h0M601.9 187.4h0M560.1 177.0h0M605.9 191.9h0M561.0 180.9h0M568.9 188.8h0M582.6 187.3h0M587.8 141.4h0M541.5 183.4h0M618.7 180.3h0M606.7 177.4h0M599.4 177.2h0M575.9 185.8h0M627.1 178.0h0M568.1 182.9h0M615.2 182.2h0M545.6 182.4h0M601.4 185.2h0M558.5 178.2h0M561.4 182.7h0M603.9 191.3h0M586.1 153.3h0M538.2 185.5h0M522.0 179.1h0M592.4 179.9h0M601.7 190.6h0M561.0 177.6h0M585.3 158.8h0M574.5 192.3h0M611.8 187.7h0M584.2 184.0h0M538.9 186.2h0M544.8 189.6h0M632.9 185.1h0M608.9 186.7h0M616.3 182.1h0M552.9 190.5h0M541.2 182.7h0M614.7 191.1h0M578.1 181.6h0M600.1 185.2h0M556.3 186.4h0M578.0 190.9h0M553.6 186.4h0M557.1 180.9h0M578.8 186.3h0M532.1 185.8h0M589.1 192.8h0M640.1 179.9h0M582.8 169.8h0M580.9 180.2h0M599.7 192.0h0M569.0 179.2h0M633.1 186.7h0M514.0 180.5h0M572.5 153.3h0M548.0 181.4h0M558.5 181.2h0M587.6 189.9h0M606.1 188.6h0M592.0 178.7h0M540.0 185.9h0M576.1 160.8h0M552.8 190.3h0M537.5 188.0h0M597.0 192.7h0M569.0 181.0h0M557.2 190.8h0M588.6 170.9h0M597.9 184.1h0M602.2 181.5h0M551.5 177.4h0M615.6 190.6h0M609.6 186.5h0M584.4 149.6h0M573.8 157.4h0M562.2 178.6h0M601.7 178.3h0M573.6 149.9h0M562.1 179.8h0M592.1 187.5h0M577.1 176.0h0M538.1 179.8h0M614.8 184.9h0M574.3 191.6h0M584.7 190.5h0M589.4 190.0h0M545.9 186.6h0M556.8 189.6h0M607.7 179.0h0M585.0 190.1h0M528.6 188.8h0M573.5 158.1h0M613.2 178.6h0M597.1 185.5h0M588.4 193.0h0M572.8 177.3h0M607.7 179.4h0M573.5 174.3h0M555.8 182.8h0M559.4 182.1h0M553.9 181.1h0M554.4 178.3h0M603.1 192.0h0M543.7 189.5h0M585.1 189.3h0M575.3 190.5h0M550.5 191.5h0M571.0 167.4h0M585.8 139.1h0M591.9 183.2h0M556.1 181.5h0M592.8 182.2h0M570.6 171.4h0M512.5 182.4h0M591.4 182.2h0M569.6 186.5h0M608.4 184.0h0M547.8 189.3h0M606.6 190.3h0M570.6 191.1h0M629.4 187.4h0M549.7 188.3h0M552.6 179.7h0M628.9 178.0h0M592.3 182.4h0M574.3 142.6h0M516.9 178.1h0M563.1 180.3h0M576.5 186.9h0M548.3 184.5h0M531.0 185.4h0M581.3 188.0h0M566.5 191.4h0M547.5 178.4h0M584.9 192.6h0M628.1 181.5h0M592.6 186.0h0M587.8 171.5h0M520.6 178.7h0M597.9 188.6h0M575.9 165.3h0M581.8 183.0h0M585.8 171.7h0M595.2 191.7h0M570.1 182.9h0M576.2 186.4h0M560.2 188.8h0M548.0 180.8h0M576.9 175.3h0M588.0 155.2h0M585.4 144.2h0M573.9 152.7h0M578.3 183.8h0M541.7 183.9h0M614.4 184.5h0M570.7 153.4h0M562.1 181.7h0M604.3 190.8h0M614.9 187.4h0M613.6 184.8h0M564.9 191.3h0M553.8 185.2h0M600.3 190.0h0M584.7 146.4h0M593.2 189.6h0M584.0 170.1h0M575.5 156.1h0M575.7 185.2h0M602.6 177.2h0M546.4 182.9h0M583.4 159.6h0M600.5 185.8h0M566.0 179.6h0M560.3 181.3h0M603.5 177.4h0M604.6 186.3h0M595.8 187.2h0M587.5 181.8h0M574.2 171.7h0M576.0 190.1h0M557.2 181.2h0M560.9 181.9h0M591.8 182.0h0M585.3 166.4h0M613.3 177.1h0M594.8 179.5h0M572.1 173.9h0M555.5 183.5h0M564.7 184.7h0M549.2 180.7h0M607.1 191.0h0M586.3 190.8h0M574.9 171.6h0M588.1 179.5h0M573.7 161.5h0M540.8 182.8h0M555.7 184.4h0M612.1 187.0h0M635.6 183.5h0M601.8 182.9h0M542.7 179.5h0M563.3 183.9h0M543.3 180.6h0M621.2 181.1h0M594.7 183.3h0M635.2 182.9h0M547.0 190.6h0M587.9 184.5h0M617.8 188.4h0M582.4 179.3h0M587.2 186.0h0M590.0 192.6h0M588.5 179.8h0M582.4 192.7h0M587.9 153.1h0M601.2 187.6h0M577.9 183.1h0M536.5 182.4h0M608.2 189.9h0M573.8 163.0h0M589.9 179.4h0M543.2 181.2h0M552.8 177.2h0M554.0 190.6h0M559.8 180.4h0M604.2 187.4h0M560.9 184.8h0M618.6 185.0h0M574.0 187.7h0M599.3 178.8h0M531.7 178.4h0M554.9 186.3h0M553.1 188.5h0M612.8 184.8h0M551.3 178.7h0M541.2 186.3h0M572.6 151.4h0M581.9 171.2h0M596.3 186.0h0M576.0 187.4h0M529.2 181.1h0M577.4 187.3h0M618.4 190.5h0M614.5 179.8h0M603.0 177.2h0M560.9 189.1h0M572.3 154.8h0M516.7 184.4h0M571.6 171.6h0M612.1 189.1h0M585.6 140.0h0M583.5 158.4h0M572.8 158.5h0M569.4 182.0h0M565.9 178.3h0M609.7 188.5h0M596.8 182.8h0M548.8 190.1h0M575.6 163.4h0M548.8 181.2h0M632.6 178.7h0M613.5 188.6h0M525.6 187.9h0M537.9 184.1h0M628.5 185.6h0M571.0 184.1h0M526.0 183.7h0M622.9 189.6h0M573.3 149.2h0M539.5 182.7h0M550.5 188.1h0M591.4 185.3h0M558.0 177.0h0M611.2 183.6h0M544.7 179.9h0M615.6 185.0h0M567.7 184.7h0M617.1 186.6h0M574.2 152.2h0M601.5 183.1h0M545.0 185.1h0M557.9 177.7h0M611.4 177.4h0M633.8 185.8h0M543.4 183.3h0M571.8 176.9h0M554.4 188.3h0M598.1 179.5h0M589.0 193.0h0M584.8 143.3h0M597.4 181.6h0M526.5 180.6h0M631.8 186.2h0M586.4 145.2h0M567.1 178.9h0M573.7 185.5h0M592.7 184.1h0M625.3 179.0h0M582.3 181.9h0M642.7 181.2h0M586.9 188.4h0M561.2 186.2h0M543.0 177.9h0M576.9 182.0h0M575.4 158.4h0M582.9 187.3h0M568.4 192.4h0M574.7 159.6h0M556.8 179.0h0M598.3 183.6h0M619.4 189.0h0M585.5 143.2h0M563.5 186.6h0M568.7 177.9h0M563.5 182.8h0M554.0 178.6h0M557.5 178.5h0M573.7 175.5h0M573.6 188.7h0M593.2 189.1h0M538.8 182.3h0M564.0 190.2h0M568.7 178.5h0M549.9 191.7h0M584.2 162.2h0M587.2 182.8h0M622.8 181.9h0M627.3 179.5h0M563.8 183.3h0M596.8 178.7h0M560.5 185.1h0M572.0 190.4h0M583.7 185.2h0M607.8 186.4h0M603.1 183.3h0M597.9 189.8h0M522.1 180.0h0M573.0 164.1h0M621.2 189.0h0M567.7 190.3h0M586.9 145.3h0M575.6 175.7h0M606.3 185.6h0M603.6 186.0h0M545.6 184.1h0M608.9 189.6h0M602.4 186.5h0M581.4 175.9h0M563.8 189.4h0M585.5 189.5h0M617.4 179.7h0M588.2 142.4h0M622.4 179.6h0M551.3 191.1h0M564.4 186.4h0M547.4 187.7h0M597.4 187.2h0M577.4 177.4h0M544.9 190.8h0M615.8 187.5h0M575.4 174.0h0M572.4 139.1h0M559.8 188.2h0M576.2 163.0h0M609.6 184.9h0M550.4 181.2h0M574.0 170.1h0M624.8 186.6h0M594.3 184.4h0M541.9 189.8h0M560.4 183.3h0M629.6 182.0h0M594.5 182.2h0M571.6 145.7h0M541.6 178.8h0M611.2 178.4h0M580.6 186.0h0M574.9 149.6h0M587.3 160.7h0M564.9 190.5h0M586.9 148.3h0M586.0 181.2h0M572.9 146.3h0M561.8 189.8h0M593.7 182.0h0M611.7 190.9h0M575.5 189.6h0M549.0 177.1h0M558.2 192.3h0M567.7 190.5h0M523.6 187.8h0M576.6 181.3h0M576.2 172.8h0M517.5 184.4h0M564.2 191.3h0M590.7 187.4h0M593.6 183.5h0M544.0 190.5h0M574.5 164.0h0M622.8 179.7h0M571.8 143.3h0M612.9 189.6h0M588.5 145.8h0M611.2 180.3h0M583.1 171.6h0M633.7 183.9h0M611.5 187.3h0M586.5 152.4h0M565.9 186.1h0M595.7 191.2h0M606.5 185.7h0M582.5 169.1h0M627.6 181.1h0M586.2 147.7h0M567.8 185.4h0M525.0 179.0h0M545.6 187.7h0M535.6 182.0h0M638.4 182.5h0M638.6 178.0h0M569.3 177.8h0M551.4 182.3h0M570.9 182.6h0M585.7 186.1h0M542.0 182.5h0M581.7 180.1h0M559.2 186.3h0M629.7 182.7h0M535.0 180.5h0M576.8 170.3h0M606.6 180.3h0M573.4 158.2h0M576.9 176.5h0M565.0 179.9h0M554.1 180.5h0M620.3 177.7h0M581.7 175.7h0M615.9 189.2h0M568.3 183.6h0M530.2 187.8h0M583.8 188.7h0M607.0 179.6h0M612.4 178.2h0M582.2 178.5h0M576.3 176.3h0M618.1 179.1h0M586.8 171.5h0M571.3 160.0h0M631.0 184.1h0M578.4 192.8h0M548.6 189.9h0M555.1 191.2h0M622.1 186.1h0M628.6 180.9h0M593.3 185.0h0M571.2 163.9h0M619.8 185.5h0M613.6 180.4h0M573.4 161.1h0M545.4 182.1h0M576.1 167.9h0M588.5 140.6h0M577.7 180.6h0M587.8 183.8h0M587.3 166.6h0M555.0 177.1h0M613.0 185.0h0M585.0 160.6h0M572.7 186.3h0M531.2 180.8h0M588.5 168.4h0M554.7 192.0h0M568.3 181.1h0M575.2 170.9h0M630.8 186.3h0M574.7 184.0h0M587.0 156.3h0M583.0 186.7h0M552.1 190.0h0M607.7 188.9h0M546.5 191.5h0M609.6 189.4h0M604.0 178.4h0M616.4 177.3h0M575.3 179.4h0M599.7 181.9h0M619.1 184.8h0M607.2 191.5h0M610.6 178.4h0M598.5 181.0h0M598.8 192.4h0M606.9 188.3h0M559.7 191.0h0M576.6 167.6h0M583.0 185.4h0M558.2 181.8h0M573.5 141.0h0M591.1 182.1h0M570.4 188.8h0M613.6 182.5h0M553.8 187.6h0M577.1 172.0h0M607.3 182.6h0M565.7 184.1h0M576.4 164.7h0M587.4 145.6h0M556.4 191.2h0M539.6 179.9h0M573.6 191.6h0M625.8 183.4h0M550.8 187.7h0M553.3 190.6h0M537.8 179.9h0M577.7 177.2h0M584.5 186.8h0M558.2 178.2h0M588.2 181.1h0M560.1 183.2h0M531.4 179.6h0M603.4 178.2h0M571.1 193.0h0M616.1 180.1h0M563.8 182.1h0M538.7 183.6h0M529.5 182.8h0M559.6 182.1h0M594.3 182.0h0M644.8 183.1h0M586.8 177.1h0M614.9 183.6h0M594.1 183.1h0M574.4 193.1h0M573.3 187.7h0M614.5 182.7h0M603.1 183.1h0M568.4 187.2h0M628.7 186.4h0M619.2 187.1h0M606.6 183.9h0M616.4 190.8h0M515.3 179.5h0M597.4 188.9h0M572.2 182.5h0M584.9 159.1h0M590.2 189.4h0M599.3 179.5h0M559.8 190.2h0M627.8 185.0h0M566.5 184.7h0M576.6 189.1h0M575.0 192.6h0M617.6 181.1h0M571.1 143.9h0M644.3 181.4h0M542.4 183.8h0M591.1 181.3h0M556.0 182.0h0M585.3 191.5h0M546.7 180.0h0M588.0 182.7h0M590.0 190.0h0M586.3 160.5h0M607.5 185.5h0M577.1 171.9h0M609.6 179.0h0M563.7 182.5h0M613.0 190.3h0M595.1 183.8h0M571.7 164.7h0M532.3 187.0h0M558.3 180.2h0M586.0 184.9h0M588.5 144.0h0M524.6 186.9h0M595.3 190.2h0M638.2 186.6h0M637.1 179.4h0M556.6 181.6h0M583.2 167.7h0M574.0 190.1h0M535.9 180.7h0M588.5 181.2h0M587.2 191.3h0M575.1 155.0h0M570.8 169.9h0M626.4 183.6h0M603.3 187.3h0M584.7 158.2h0M552.3 181.4h0M562.4 188.8h0M572.4 144.9h0M526.1 185.1h0M548.8 180.1h0M568.6 185.7h0M606.6 189.6h0M595.9 180.8h0M614.2 183.2h0M588.8 178.5h0M626.5 177.7h0M576.7 179.3h0M585.0 173.7h0M538.6 187.2h0M554.5 188.9h0M606.2 180.9h0M576.3 172.3h0M625.4 184.8h0M584.7 181.1h0M612.7 188.5h0M585.4 164.2h0M533.6 185.9h0M559.4 177.9h0M573.7 176.4h0M541.4 187.1h0M586.0 169.8h0M574.7 155.0h0M572.9 165.6h0M580.5 188.7h0M527.7 184.7h0M608.3 180.7h0M590.9 186.6h0M564.9 189.1h0M614.6 183.9h0M551.3 180.1h0M535.1 181.8h0M613.7 185.1h0M609.4 178.3h0M585.6 143.1h0M602.6 185.6h0M604.4 184.2h0M552.2 179.6h0M540.1 190.6h0M559.4 192.5h0M625.1 177.9h0M544.7 190.1h0M597.4 185.8h0M552.3 184.9h0M571.8 141.3h0M556.7 177.9h0M593.8 188.2h0M535.5 187.7h0M583.5 175.3h0M529.2 182.9h0M537.7 190.0h0M534.7 182.1h0M588.6 192.7h0M541.7 185.3h0M570.6 192.0h0M586.9 169.8h0M585.2 180.5h0M596.6 189.0h0M546.5 177.4h0M570.3 183.1h0M595.6 182.0h0M548.0 182.6h0M616.4 178.5h0M574.1 189.4h0M553.9 188.6h0M586.1 191.5h0M581.5 185.3h0M559.1 180.0h0M627.7 181.7h0M602.1 192.2h0M620.8 180.0h0M647.4 181.6h0M539.7 182.1h0M633.3 177.2h0M632.8 177.4h0M627.9 183.1h0M625.3 179.8h0M588.8 179.6h0M572.0 180.6h0M620.4 186.2h0M545.2 186.2h0M582.6 186.1h0M576.3 190.0h0M611.6 183.3h0M583.0 182.5h0M561.1 190.7h0M587.4 177.9h0M582.7 178.6h0M605.8 189.7h0M638.5 177.0h0M577.5 183.5h0M534.3 184.9h0M557.9 188.9h0M578.0 188.6h0M543.7 186.6h0M576.2 173.6h0M612.8 189.9h0M577.4 186.8h0M541.1 179.4h0M599.6 183.9h0M592.6 178.7h0M571.0 150.5h0M567.9 192.2h0M583.5 164.0h0M593.5 178.7h0M588.6 139.6h0M559.5 184.4h0M587.0 145.8h0M600.6 188.1h0M585.1 188.8h0M614.6 189.7h0M588.1 179.1h0M555.9 179.8h0M592.6 183.0h0M561.7 190.0h0M587.0 161.5h0M545.6 185.2h0M576.1 181.4h0M612.9 186.0h0M556.5 187.2h0M566.4 181.6h0M587.3 171.4h0M586.1 189.9h0M596.7 184.1h0M595.9 189.9h0M574.5 180.0h0M569.1 177.2h0M613.0 177.9h0M599.4 180.3h0M584.3 185.1h0M559.0 186.4h0M543.2 181.6h0M607.9 183.4h0M592.7 186.7h0M544.7 182.4h0M605.0 181.8h0M620.5 183.1h0M634.1 188.2h0M581.0 179.0h0M533.1 189.8h0M580.7 183.5h0M575.5 165.1h0M589.4 181.9h0M541.4 188.0h0M552.5 183.6h0M601.2 192.3h0M595.0 181.7h0M572.2 181.4h0M565.7 185.1h0M537.7 185.3h0M593.4 177.2h0M548.8 189.1h0M611.0 190.0h0M588.8 189.3h0M582.3 189.0h0M575.4 169.1h0M583.6 181.1h0M539.7 189.0h0M608.3 177.3h0M602.3 192.0h0M571.0 182.8h0M586.5 170.2h0M615.2 177.6h0M551.8 187.9h0M613.7 190.8h0M575.3 180.8h0M573.9 146.0h0M620.5 180.4h0M613.7 188.9h0M566.0 181.5h0M531.1 182.9h0M635.1 185.3h0M563.8 177.3h0M566.4 184.3h0M564.5 189.6h0M629.3 185.5h0M573.6 181.7h0M595.1 180.2h0M620.8 184.9h0M527.8 183.4h0M546.8 186.5h0M573.1 164.4h0M574.6 178.0h0M572.2 191.8h0M588.5 166.7h0M540.4 188.3h0M615.9 184.3h0M640.8 183.4h0M571.1 185.7h0M540.6 190.3h0M585.1 150.3h0M556.8 192.3h0M588.7 178.2h0M587.4 188.6h0M548.7 182.6h0M610.1 178.0h0M620.0 181.3h0M537.0 189.6h0M554.2 190.4h0M573.1 170.0h0M583.4 174.2h0M603.2 184.5h0M595.6 192.6h0M596.2 182.0h0M585.1 187.9h0M586.2 161.9h0M627.6 187.7h0M614.2 179.5h0M588.3 186.4h0M602.1 182.5h0M598.8 185.4h0M552.8 185.5h0M584.1 160.8h0M556.3 187.1h0M586.1 166.8h0M571.5 155.5h0M635.2 178.5h0M561.7 177.2h0M551.1 177.2h0M594.0 181.0h0M528.4 183.3h0M619.7 188.6h0M612.8 181.2h0M605.6 182.9h0M603.7 181.5h0M540.3 185.0h0M588.6 156.3h0M572.6 164.7h0M582.3 176.1h0M576.7 191.9h0M595.3 177.1h0M537.4 183.3h0M605.5 185.1h0M585.7 192.0h0M585.4 167.2h0M546.4 178.0h0M536.3 181.8h0M606.4 189.0h0M543.4 179.9h0M544.4 187.1h0M618.6 182.2h0M588.4 170.6h0M588.4 162.8h0M570.4 179.9h0M625.5 186.8h0M609.8 185.4h0M616.3 179.5h0M606.1 179.4h0M600.4 179.6h0M634.6 182.7h0M593.1 188.4h0M613.6 182.9h0M610.5 191.2h0M585.6 144.8h0M572.3 171.8h0M582.5 163.9h0M584.6 188.2h0M557.8 185.5h0M621.2 177.2h0M575.0 186.0h0M552.3 179.2h0M618.4 179.3h0M514.4 177.8h0M573.1 161.8h0M611.5 179.7h0M623.9 183.9h0M568.7 184.9h0M585.2 187.1h0M547.7 191.6h0M580.7 188.6h0M564.0 189.2h0M571.5 161.0h0M587.5 185.0h0M581.7 174.6h0M544.1 186.3h0M611.8 182.1h0M607.1 188.4h0M566.5 189.7h0M541.5 178.6h0M586.8 174.6h0M588.4 158.9h0M584.5 145.3h0M560.1 186.4h0M543.7 177.4h0M555.6 177.5h0M573.2 148.0h0M587.8 158.5h0M574.0 157.7h0M574.9 170.6h0M584.8 158.1h0M626.9 178.6h0M591.6 190.3h0M571.8 166.6h0M608.6 186.9h0M578.7 192.9h0M583.8 187.6h0M560.6 191.5h0M582.1 185.7h0M596.8 180.6h0M557.8 181.0h0M571.8 168.1h0M572.2 177.1h0M543.6 181.3h0M602.8 187.2h0M625.4 186.7h0M589.2 180.1h0M564.4 190.8h0M556.7 183.2h0M601.5 183.9h0M574.6 148.4h0M530.5 178.9h0M572.6 168.8h0M619.6 187.5h0M577.1 180.9h0M625.0 185.7h0M551.2 184.4h0M581.7 177.6h0M573.7 154.4h0M604.8 189.0h0M522.4 179.4h0M613.0 180.1h0M642.2 177.6h0M541.4 184.0h0M547.0 177.6h0M554.7 186.0h0M592.0 184.3h0M540.7 179.6h0M564.0 185.4h0M552.0 179.1h0M586.7 190.4h0M570.2 191.7h0M584.2 155.3h0M567.0 177.3h0M586.2 157.8h0M574.1 141.2h0M536.2 186.5h0M592.0 186.5h0M576.4 169.2h0M553.1 188.0h0M574.5 171.2h0M555.0 180.3h0M562.9 179.9h0M554.6 179.5h0M544.2 181.4h0M601.2 181.0h0M575.6 160.5h0M599.3 189.8h0M543.4 187.4h0M570.7 165.2h0M538.8 185.0h0M541.5 182.0h0M563.3 185.3h0M548.2 185.3h0M596.4 184.7h0M612.8 177.2h0M573.9 141.5h0M616.8 185.4h0M630.7 187.1h0M540.3 188.1h0M543.0 190.6h0M551.1 182.5h0M574.7 172.9h0M571.7 153.2h0M607.4 181.3h0M571.0 181.8h0M556.5 189.8h0M530.4 183.1h0M539.6 177.3h0M576.1 192.3h0M587.7 144.1h0M587.6 161.2h0M586.2 149.3h0M550.5 178.1h0M586.7 173.9h0M586.0 159.1h0M557.9 185.9h0M577.3 183.7h0M632.3 178.4h0M625.2 180.6h0M551.2 191.2h0M546.0 177.5h0M513.9 184.7h0M622.2 177.2h0M591.2 190.7h0M633.6 179.7h0M571.9 186.9h0M556.2 179.4h0M583.4 181.3h0M553.2 191.3h0M543.0 185.6h0M593.4 191.8h0M611.3 189.3h0M583.2 187.7h0M592.2 185.5h0M648.0 185.0h0M606.6 181.5h0M599.2 192.1h0M572.2 170.9h0M548.7 184.0h0M612.3 185.7h0M590.1 183.0h0M541.9 184.2h0M558.7 191.1h0M603.4 184.2h0M577.4 187.6h0M602.8 187.9h0M585.2 142.2h0M576.5 184.6h0M548.1 180.7h0M545.0 185.5h0M603.9 191.9h0M525.4 182.3h0M588.7 180.9h0M528.8 184.1h0M575.4 173.4h0M632.6 181.5h0M640.6 186.6h0M634.1 178.2h0M538.9 185.5h0M585.0 178.2h0M555.0 183.5h0M586.1 147.2h0M524.0 186.6h0M589.2 183.5h0M631.2 187.8h0M527.7 189.0h0M599.1 187.6h0M544.6 186.6h0M595.7 187.8h0M617.9 177.9h0M615.1 187.8h0M586.1 179.8h0M569.5 186.3h0M598.8 190.0h0M583.1 172.6h0M620.3 189.5h0M534.2 179.9h0M568.6 186.4h0M609.3 191.1h0M586.3 173.2h0M570.9 187.4h0M572.3 142.9h0M535.6 185.3h0M572.6 158.7h0M619.6 184.0h0M615.4 186.9h0M546.5 189.6h0M588.5 150.9h0M558.6 179.3h0M567.2 180.8h0M550.9 186.5h0M561.5 184.9h0M568.9 182.3h0M605.0 179.1h0M536.1 178.4h0M600.6 183.3h0M529.6 178.8h0M619.1 185.3h0M633.7 186.4h0M561.7 185.2h0M576.4 173.4h0M640.2 183.4h0M569.3 186.9h0M570.9 184.5h0M572.8 172.3h0M564.6 182.2h0M532.6 189.1h0M624.4 182.1h0M596.2 177.3h0M577.8 188.9h0M575.1 167.9h0M557.1 182.3h0M617.1 189.1h0M559.9 179.0h0M564.8 181.7h0M632.1 181.0h0M570.0 192.6h0M587.2 183.4h0M557.6 177.2h0M589.1 179.4h0M556.8 183.3h0M597.9 178.0h0M574.8 166.5h0M598.6 180.5h0M557.7 179.2h0M560.3 192.6h0M598.5 192.6h0M620.7 184.1h0M551.6 179.1h0M587.9 165.9h0M584.5 182.7h0M605.0 177.4h0M544.3 189.6h0M620.3 180.2h0M543.0 187.4h0M568.9 189.7h0M583.8 178.2h0M559.8 191.1h0M537.1 186.7h0M618.3 183.0h0M553.9 192.0h0M574.1 167.7h0M606.7 191.2h0M581.1 178.8h0M545.8 187.9h0M586.3 162.6h0M551.5 178.2h0M594.9 177.8h0M620.7 189.8h0M609.2 184.0h0M609.4 177.9h0M544.0 179.8h0M532.6 184.2h0M571.4 157.0h0M561.1 182.6h0M573.1 192.1h0M546.6 190.6h0M570.5 147.0h0M555.3 191.1h0M564.0 185.7h0M555.2 178.2h0M586.5 179.0h0M555.7 181.9h0M628.4 181.8h0M571.6 145.2h0M550.6 181.6h0M588.3 187.5h0M547.0 184.0h0M570.6 157.4h0M588.7 177.5h0M569.1 184.4h0M550.6 179.3h0M625.7 177.6h0M610.6 187.8h0M586.9 151.1h0M552.7 187.0h0M558.4 181.6h0M575.6 188.2h0M561.1 192.2h0M572.0 142.5h0M586.8 165.2h0M575.0 189.7h0M558.5 182.9h0M542.0 179.7h0M570.6 159.2h0M585.9 186.8h0M613.4 187.3h0M588.0 161.6h0M587.5 169.3h0M586.8 148.6h0M553.9 181.6h0M601.4 190.1h0M600.8 184.9h0M620.4 187.1h0M539.3 185.4h0M603.6 185.2h0M572.3 144.0h0M571.4 152.5h0M568.1 182.7h0M609.0 177.5h0M572.3 185.1h0M635.7 185.9h0M608.7 178.9h0M537.3 184.4h0M606.0 182.5h0M574.1 180.8h0M606.4 187.4h0M594.6 177.3h0M571.6 161.2h0M599.3 186.8h0M587.6 162.4h0M573.5 190.2h0M576.7 175.9h0M598.6 178.5h0M604.8 182.7h0M612.4 187.4h0M523.7 181.7h0M587.6 190.2h0M559.6 192.4h0M584.3 163.5h0M533.3 178.0h0M593.9 191.9h0M593.4 190.0h0M569.6 190.9h0M565.7 188.7h0M587.4 148.6h0M549.2 182.6h0M587.6 140.7h0M588.0 159.9h0M608.5 189.0h0M575.1 193.1h0M648.3 180.0h0M531.1 178.6h0M575.0 152.0h0M536.5 183.8h0M573.7 169.9h0M542.7 180.9h0M590.9 187.3h0M588.2 165.6h0M576.7 178.7h0M536.0 177.1h0M551.4 189.1h0M521.2 184.0h0M559.2 191.1h0M549.5 184.2h0M643.2 178.1h0M534.9 183.3h0M546.7 182.5h0M572.3 184.7h0M591.0 184.7h0M591.6 181.1h0M646.8 183.8h0M555.2 185.4h0M616.6 183.4h0M601.9 188.7h0M635.6 181.6h0M554.9 182.5h0M599.6 177.3h0M598.3 178.2h0M572.7 191.5h0M613.6 181.8h0M637.6 179.8h0M530.1 181.7h0M592.1 179.6h0M601.5 177.2h0M577.5 182.3h0M550.7 180.1h0M574.9 164.6h0M624.6 188.0h0M543.5 188.9h0M547.4 178.3h0M586.2 140.3h0M583.3 176.4h0M553.3 179.0h0M521.9 187.0h0M573.2 190.4h0M588.3 176.4h0M556.3 183.4h0M560.9 192.4h0M586.5 192.9h0M556.0 184.8h0M590.5 192.3h0M588.1 160.9h0M549.6 180.9h0M598.5 192.0h0M574.3 166.7h0M615.3 178.9h0M643.9 183.1h0M619.4 183.6h0M551.6 191.8h0M560.2 184.4h0M554.4 186.6h0M518.0 184.4h0M543.6 182.6h0M611.1 181.4h0M586.4 186.9h0M550.4 182.4h0M573.4 179.7h0M610.6 181.8h0M628.8 177.6h0M587.2 160.1h0M584.9 160.0h0M570.3 177.4h0M543.1 189.4h0M572.8 151.4h0M602.4 188.1h0M550.7 178.0h0M588.4 144.9h0M646.7 180.3h0M585.2 185.9h0M633.6 178.1h0M585.4 170.1h0M584.7 179.5h0M545.3 177.5h0M555.3 190.9h0M573.9 186.3h0M572.7 188.2h0M592.8 185.4h0M593.4 187.9h0M624.8 178.3h0M567.7 178.6h0M632.9 179.6h0M630.2 186.7h0M547.5 179.3h0M560.3 182.7h0M619.2 186.5h0M617.8 182.5h0M545.3 182.8h0M605.6 188.7h0M517.9 183.4h0M576.2 166.4h0M573.5 169.1h0M635.6 188.2h0M585.2 178.5h0M583.9 185.1h0M578.8 186.6h0M520.6 184.2h0M570.8 149.9h0M545.7 186.4h0M574.7 187.7h0M535.5 178.5h0M640.5 184.8h0M515.4 184.0h0M565.6 189.7h0M603.5 190.6h0M538.8 189.8h0M609.5 180.9h0M536.7 187.0h0M587.0 189.3h0M603.2 185.8h0M566.7 179.8h0M568.3 179.4h0M630.4 183.4h0M534.6 187.3h0M629.1 185.7h0M587.8 155.0h0M534.2 183.8h0M571.8 163.3h0M572.4 172.6h0M576.6 187.9h0M594.8 187.1h0M593.4 190.9h0M584.1 159.4h0M572.6 178.1h0M628.9 179.2h0M582.0 183.3h0M598.8 189.8h0M606.3 177.0h0M586.3 165.9h0M630.2 184.8h0M637.6 182.0h0M570.7 140.9h0M539.2 177.9h0M604.7 182.2h0M573.5 184.5h0M601.7 187.6h0M617.7 188.4h0M619.5 178.3h0M609.2 187.5h0M546.7 179.2h0M596.5 178.3h0M573.0 159.0h0M620.5 181.8h0M581.5 173.7h0M588.4 144.9h0M537.2 187.3h0M515.9 180.8h0M637.0 177.7h0M559.9 183.4h0M631.1 187.0h0M573.4 141.5h0M570.7 170.4h0M552.9 179.5h0M574.0 148.6h0M586.9 158.1h0M572.8 156.4h0M618.7 181.3h0M626.6 189.2h0M572.9 145.7h0M587.3 164.3h0M576.9 171.7h0M566.9 189.1h0M531.3 177.9h0M563.0 177.3h0M538.5 189.1h0M603.0 178.5h0M646.6 178.7h0M584.4 180.9h0M530.0 187.3h0M511.0 183.5h0M594.7 191.8h0M573.7 162.9h0M517.1 185.7h0M548.1 191.4h0M588.2 192.2h0M593.5 185.6h0M574.9 148.8h0M533.1 178.8h0M550.1 190.7h0M553.7 179.9h0M545.2 179.2h0M545.6 188.3h0M587.9 144.6h0M544.3 182.2h0M549.1 184.4h0M572.0 167.4h0M582.5 168.0h0M577.4 174.9h0M553.1 180.7h0M530.9 179.8h0M586.9 159.9h0M608.0 185.9h0M559.8 181.4h0M569.5 183.3h0M614.7 181.4h0M531.8 185.9h0M618.2 180.6h0M545.7 177.1h0M570.6 154.2h0M574.5 177.1h0M575.3 185.2h0M571.8 176.5h0M540.0 188.1h0M535.2 187.2h0M571.9 179.6h0M575.9 159.9h0M608.7 179.5h0M608.7 183.8h0M563.0 181.5h0M566.3 178.7h0M582.8 161.0h0M596.4 179.3h0M514.7 183.1h0M621.1 179.5h0M552.8 180.4h0M563.1 177.0h0M584.4 176.7h0M587.8 150.8h0M587.5 154.0h0M513.7 180.8h0M571.4 183.3h0M567.2 192.0h0M601.4 180.3h0M544.0 190.7h0M608.8 182.1h0M559.8 185.7h0M581.2 182.7h0M532.9 178.1h0M580.4 186.0h0M567.0 190.1h0M573.3 155.9h0M582.6 177.6h0M575.6 187.2h0M517.6 186.9h0M535.1 181.3h0M526.5 184.1h0M623.6 188.7h0M586.6 164.1h0M613.1 186.0h0M542.1 177.7h0M575.4 189.1h0M584.8 145.5h0M575.4 172.5h0M586.1 182.5h0M570.2 182.2h0M536.5 179.7h0M587.3 178.5h0M540.9 183.6h0M572.6 186.2h0M529.8 188.2h0M576.1 170.6h0M561.2 178.7h0M543.7 190.5h0M561.4 188.4h0M551.4 188.3h0M596.5 189.3h0M570.3 184.9h0M600.3 184.5h0M554.3 180.5h0M530.5 178.1h0M543.7 188.7h0M569.1 191.3h0M582.5 173.5h0M609.6 190.9h0M610.5 180.2h0M570.4 174.8h0M558.2 182.4h0M573.7 170.5h0M616.1 189.2h0M588.4 147.8h0M571.5 158.9h0M593.0 189.8h0M608.9 185.5h0M583.2 162.5h0M587.9 155.8h0M573.0 174.6h0M554.1 184.5h0M532.9 177.8h0M603.8 177.0h0M601.8 184.6h0M550.8 191.6h0M573.8 161.9h0M574.4 174.4h0M587.3 145.3h0M570.5 172.8h0M537.3 189.0h0M534.9 181.3h0M616.6 177.8h0M612.1 179.2h0M606.8 177.0h0M561.4 180.6h0M573.0 183.0h0M609.9 187.6h0M545.3 189.8h0M586.1 173.9h0M545.0 182.9h0M569.6 192.9h0M573.5 184.9h0M580.9 186.8h0M541.7 190.3h0M618.0 178.2h0M552.4 186.5h0M577.5 173.5h0M577.0 185.6h0M585.1 151.1h0M549.3 187.2h0M618.6 177.6h0M595.4 186.5h0M528.4 186.5h0M624.5 181.0h0M586.6 143.9h0M574.6 191.0h0M623.3 182.2h0M626.8 188.7h0M572.6 142.2h0M536.9 180.9h0M570.8 160.7h0M619.3 179.0h0M566.6 183.0h0M584.6 159.7h0M604.5 177.7h0M539.0 184.1h0M532.4 183.7h0M610.7 186.0h0M578.1 182.6h0M583.2 157.3h0M539.6 181.4h0M560.4 192.1h0M608.8 182.5h0M617.4 177.7h0M618.8 189.8h0M545.0 188.7h0M537.8 184.3h0M591.8 177.1h0M550.5 184.9h0M645.9 185.7h0M542.4 189.4h0M611.7 185.1h0M529.6 182.5h0M549.0 187.2h0M524.4 187.9h0M587.0 157.8h0M636.6 183.2h0M570.9 157.6h0M615.5 186.9h0M582.4 185.2h0M581.1 178.1h0M587.1 167.4h0M556.8 184.6h0M587.8 185.0h0M583.5 177.1h0M583.2 173.3h0M577.5 178.1h0M588.5 153.0h0M608.5 181.3h0M630.8 179.8h0M632.5 188.1h0M538.7 188.2h0M572.6 146.6h0M625.3 187.0h0M625.8 188.7h0M582.6 172.3h0M572.6 162.7h0M611.8 188.4h0M544.5 187.3h0M535.7 183.9h0M614.4 178.0h0M532.7 181.8h0M544.7 177.0h0M616.9 188.6h0M548.9 188.4h0M560.9 178.3h0M554.3 182.7h0M572.5 145.2h0M570.7 165.7h0M518.5 179.7h0M620.7 187.6h0M528.7 180.4h0M533.4 180.0h0M538.3 181.6h0M587.0 150.6h0M574.9 150.7h0M586.9 192.1h0M582.6 184.8h0M624.2 185.9h0M626.5 185.6h0M637.4 179.7h0M540.7 181.7h0M537.1 184.6h0M584.7 144.5h0M574.9 185.2h0M602.7 177.4h0M562.2 191.1h0M572.8 155.6h0M571.4 151.2h0M596.3 182.4h0M539.8 177.0h0M586.1 181.8h0M584.0 189.5h0M618.6 186.3h0M582.1 172.3h0M557.0 188.8h0M550.2 180.4h0M627.0 187.8h0M535.6 181.3h0M638.4 184.1h0M539.9 179.6h0M602.4 192.3h0M605.9 190.5h0M572.2 153.3h0M583.8 175.7h0M602.3 185.8h0M553.2 188.9h0M585.1 155.9h0M570.0 185.4h0M574.5 181.6h0M621.3 183.4h0M534.3 188.6h0M587.4 171.3h0M617.1 178.0h0M587.8 170.3h0M588.4 173.9h0M586.3 179.5h0M612.2 189.4h0M607.7 178.3h0M570.4 181.7h0M614.2 178.6h0M638.4 184.6h0M604.6 188.4h0M542.3 182.8h0M552.7 188.0h0M586.1 148.4h0M524.2 182.1h0M546.0 189.7h0M622.9 188.6h0M576.4 185.3h0M540.5 186.6h0M618.0 186.2h0M529.6 181.4h0M574.4 160.8h0M586.5 167.4h0M583.9 162.9h0M558.4 185.4h0M590.9 190.4h0M584.2 183.5h0M530.0 186.9h0M623.7 178.8h0M645.3 185.9h0M623.8 182.2h0M574.4 150.6h0M633.1 188.4h0M585.7 155.8h0M586.2 141.4h0M583.2 158.0h0M631.1 185.4h0M595.4 192.7h0M548.9 185.3h0M574.4 177.0h0M577.5 174.1h0M617.2 183.4h0M588.8 181.7h0M567.2 188.0h0M622.5 180.5h0M573.0 150.0h0M573.2 147.0h0M570.6 166.4h0M563.6 190.1h0M555.4 180.9h0M532.4 186.8h0M610.8 183.4h0M587.4 152.2h0M574.1 172.7h0M613.3 182.3h0M574.7 182.7h0M560.1 180.2h0M575.4 160.7h0M534.3 186.4h0M571.4 174.4h0M544.5 183.6h0M573.8 172.0h0M584.3 148.7h0M550.4 177.6h0M558.5 191.7h0M537.2 178.9h0M598.9 183.8h0M533.4 185.6h0M610.6 177.2h0M572.9 161.5h0M627.2 185.4h0M536.8 181.8h0M641.4 181.6h0M551.5 189.5h0M582.9 186.6h0M637.9 185.1h0M617.3 178.4h0M571.0 179.6h0M594.1 177.5h0M531.7 183.8h0M596.7 192.3h0M606.6 182.2h0M615.8 178.2h0M531.3 180.3h0M521.7 179.3h0M573.0 152.1h0M602.0 180.4h0M592.3 188.7h0M582.9 190.3h0M586.2 184.0h0M582.8 187.7h0M602.2 189.4h0M524.9 179.5h0M570.5 189.5h0M613.8 187.9h0M572.8 188.8h0M560.9 177.3h0M556.0 180.8h0M515.0 186.0h0M574.5 149.8h0M634.3 185.8h0M575.2 166.0h0M585.3 182.6h0M575.5 184.6h0M571.2 165.5h0M530.2 184.1h0M558.5 184.0h0M602.7 178.3h0M605.7 190.0h0M558.3 191.1h0M529.7 185.9h0M546.9 185.6h0M628.7 188.9h0M547.8 187.9h0M573.0 139.3h0M604.2 178.8h0M631.8 184.4h0M642.2 183.2h0M585.0 182.2h0M588.0 179.9h0M584.9 175.0h0M584.4 166.9h0M617.7 185.6h0M541.2 181.5h0M617.8 185.6h0M586.0 148.8h0M521.8 181.2h0M622.5 177.9h0M591.3 185.8h0M619.9 180.3h0M604.1 191.2h0M572.6 186.8h0M585.2 181.5h0M548.5 178.8h0M572.3 173.7h0M584.4 187.5h0M530.9 189.3h0M635.8 181.3h0M586.0 154.3h0M584.2 181.6h0M583.4 189.6h0M540.7 177.0h0M610.4 188.9h0M583.3 178.6h0M587.9 186.0h0M623.2 181.9h0M534.3 189.1h0M571.8 154.4h0M551.4 185.4h0M608.3 179.4h0M523.1 188.2h0M572.6 179.6h0M572.6 168.0h0M591.5 187.8h0M581.5 186.1h0M607.6 191.2h0M632.5 185.1h0M589.7 191.7h0M599.9 177.6h0M572.7 152.7h0M582.7 176.2h0M588.2 190.4h0M532.9 179.3h0M589.1 177.2h0M560.8 188.0h0M574.2 151.0h0M597.1 181.3h0M620.8 180.4h0M608.4 191.6h0M573.4 180.5h0M559.3 184.7h0M624.0 182.9h0M587.5 156.5h0M576.5 168.2h0M615.2 189.6h0M586.5 182.1h0M588.9 183.1h0M586.7 151.8h0M538.9 181.3h0M574.5 167.8h0M573.3 186.9h0M636.2 185.0h0M629.1 178.5h0M598.7 191.3h0M630.3 183.4h0M537.8 177.8h0M541.3 185.2h0M555.9 177.1h0M604.4 189.3h0M601.9 190.4h0M625.9 189.3h0M585.8 176.6h0M593.4 179.9h0M573.9 184.3h0M638.7 183.9h0M586.2 171.5h0M614.4 186.9h0M575.8 178.8h0M584.7 163.9h0M646.5 182.5h0M577.4 178.2h0M590.1 177.3h0M544.2 178.6h0M592.9 181.2h0M545.0 179.2h0M616.9 181.4h0M599.6 181.7h0M575.7 160.3h0M621.4 189.3h0M585.8 142.3h0M556.6 180.0h0M540.0 181.0h0M584.2 181.1h0M613.1 181.0h0M532.2 188.2h0M619.5 189.9h0M606.7 181.4h0M540.4 178.7h0M565.2 190.3h0" stroke="#bababa" stroke-width="2.8" stroke-linecap="round"/>
<path d="M564.3 168.8h0M563.9 166.7h0M566.0 176.0h0M546.2 176.8h0M570.3 164.0h0M547.1 166.9h0M568.8 170.3h0M550.9 172.6h0M561.7 164.7h0M558.1 176.4h0M553.5 162.3h0M565.7 172.7h0M568.2 163.3h0M564.6 163.5h0M563.3 175.3h0M564.8 171.8h0M566.3 157.3h0M569.0 168.1h0M569.0 175.8h0M554.7 176.7h0M567.9 167.9h0M565.7 172.2h0M568.2 173.8h0M567.0 158.0h0M564.6 175.0h0M570.0 175.9h0M570.2 173.8h0M569.4 169.2h0M568.6 172.9h0M568.1 164.1h0M566.2 171.2h0M566.1 159.9h0M568.9 169.8h0M566.4 175.6h0M570.3 174.5h0M553.3 176.5h0M558.8 173.7h0M563.8 167.3h0M563.1 167.5h0M566.0 176.3h0M554.1 174.9h0M563.3 158.7h0M546.7 165.4h0M565.7 174.8h0M566.6 175.4h0M554.8 175.1h0M569.3 172.0h0M568.1 168.2h0M535.0 170.4h0M570.3 176.4h0M569.0 174.5h0M531.0 176.7h0M561.8 162.1h0M568.0 176.8h0M555.2 169.9h0M551.8 166.6h0M565.6 169.7h0M569.6 174.8h0M554.4 159.0h0M569.0 162.7h0M554.1 176.2h0M550.5 169.3h0M542.5 157.0h0M548.0 173.9h0M557.7 172.4h0M568.9 167.3h0M569.4 173.9h0M554.7 174.8h0M567.3 175.4h0M560.5 156.6h0M567.5 159.2h0M567.0 176.3h0M567.2 172.7h0M568.1 171.5h0M565.4 173.4h0M549.2 170.3h0M561.5 167.1h0M564.6 168.9h0M543.6 173.4h0M569.0 173.7h0M567.8 173.0h0M570.2 175.3h0M567.5 173.7h0M560.4 174.9h0M565.8 167.3h0M556.8 171.0h0M546.1 176.6h0M566.3 165.4h0M569.6 172.9h0M561.0 173.5h0M561.2 169.4h0M570.0 167.7h0M554.1 170.5h0M560.8 174.2h0M563.3 173.0h0M565.0 160.9h0M562.2 167.1h0M569.4 168.5h0M568.3 170.2h0M553.7 156.0h0M558.7 156.6h0M557.8 170.7h0M566.5 163.8h0M563.5 173.8h0M567.6 176.6h0M570.3 172.6h0M567.9 160.7h0M565.3 175.5h0M569.8 173.6h0M566.0 174.3h0M544.9 175.8h0M568.6 158.5h0M557.2 173.0h0M567.0 173.2h0M560.5 176.8h0M570.3 161.2h0M547.7 168.1h0M565.9 171.4h0M569.1 170.4h0M563.3 161.1h0M569.2 158.7h0M567.7 171.5h0M554.1 164.9h0M560.1 161.1h0M564.4 172.5h0M555.2 171.9h0M558.7 169.9h0M565.7 170.5h0M564.8 174.3h0M555.8 175.8h0M556.2 175.9h0M570.2 167.3h0M553.5 174.1h0M567.0 175.1h0M548.5 168.1h0M564.6 170.9h0M565.9 170.8h0M554.4 160.8h0M567.4 161.9h0M563.0 176.3h0M560.5 168.3h0M565.4 166.6h0M558.9 171.1h0M557.0 175.6h0M549.5 161.3h0M567.8 174.7h0M566.9 174.2h0M563.7 175.5h0M561.3 176.2h0M563.4 172.4h0M566.4 164.1h0M568.3 161.2h0M564.5 158.9h0M568.1 169.5h0M568.4 170.1h0M559.7 175.1h0M558.2 170.0h0M568.9 162.0h0M553.9 168.9h0M560.8 171.2h0M567.1 171.9h0M562.3 166.2h0M569.2 175.0h0M553.0 176.7h0M560.2 168.6h0M568.6 166.2h0M568.9 169.2h0M564.5 175.7h0M556.2 171.1h0M570.3 174.2h0M565.9 156.6h0M567.4 165.7h0M569.8 169.2h0M570.0 169.9h0M569.2 176.0h0M565.4 168.5h0M559.8 174.4h0M567.9 175.2h0M569.2 158.9h0M567.3 175.9h0M557.2 176.8h0M561.5 161.2h0M547.8 175.1h0M549.3 173.4h0M563.9 162.0h0M567.5 170.2h0M568.2 171.1h0M556.4 169.4h0M563.5 176.6h0M558.6 173.7h0M566.6 161.2h0M567.0 162.3h0M564.0 172.7h0M554.7 172.8h0M560.0 175.6h0M566.3 176.2h0M567.2 166.0h0M566.7 173.8h0M566.3 171.4h0M566.9 169.9h0M568.1 168.5h0M569.9 176.8h0M564.0 168.0h0M563.8 174.3h0M565.2 173.9h0M568.2 176.2h0M568.2 174.6h0M567.1 165.2h0M570.1 173.0h0M565.6 163.7h0M564.0 173.7h0M568.7 157.9h0M561.2 172.9h0M560.6 157.3h0M569.3 173.2h0M558.1 173.6h0M562.2 164.9h0M565.4 166.4h0M559.9 173.9h0M568.2 172.6h0M561.0 175.6h0M568.5 163.1h0M565.2 175.8h0M553.6 166.0h0M565.3 162.6h0M563.9 173.5h0M570.2 171.5h0M565.5 164.0h0M569.0 176.7h0M568.5 172.3h0M569.3 159.8h0M561.7 162.5h0M560.2 175.7h0M558.8 167.4h0M569.6 171.4h0M554.0 158.0h0M569.1 172.3h0M540.4 176.6h0M560.8 167.4h0M559.7 166.5h0M536.5 165.0h0M569.4 176.6h0M549.5 167.6h0M570.0 168.6h0M564.6 166.0h0M562.0 171.6h0M564.9 168.1h0M569.9 165.9h0M568.3 166.8h0M566.4 170.3h0M566.1 169.2h0M554.0 171.4h0M569.2 169.7h0M563.4 171.6h0M565.3 176.4h0M566.3 172.1h0M558.1 163.9h0M567.9 168.7h0M555.1 172.9h0M547.0 172.3h0M553.7 159.9h0M553.3 172.8h0M560.6 167.0h0M560.2 169.6h0M557.4 174.2h0M550.8 171.6h0M538.7 157.6h0M563.3 175.6h0M557.0 171.5h0M566.3 167.2h0M564.0 165.1h0M564.7 176.4h0M558.7 174.4h0M565.0 169.9h0M547.5 169.6h0M550.2 176.5h0M542.2 173.3h0M521.8 174.2h0M550.8 176.7h0M561.7 157.8h0M518.1 172.4h0M549.5 171.5h0M540.3 170.5h0M531.2 163.5h0M537.0 175.4h0M514.9 175.7h0M548.3 174.6h0M517.1 176.2h0M516.8 169.6h0M525.8 176.1h0M542.3 172.9h0M533.9 175.1h0M555.4 170.3h0M517.5 160.4h0M519.0 160.3h0M543.5 163.9h0M535.3 175.0h0M552.3 160.2h0M527.8 176.7h0M546.4 173.2h0M515.7 171.4h0M523.4 163.3h0M534.2 174.5h0M514.2 176.5h0M551.1 171.2h0M551.6 168.9h0M532.1 171.3h0M527.1 171.5h0M550.2 176.8h0M518.5 167.2h0M539.6 176.2h0M526.0 170.5h0M556.8 173.9h0M543.8 168.7h0M567.1 175.6h0M515.8 159.9h0M530.5 176.7h0M568.9 158.9h0M537.5 172.6h0M518.3 172.8h0M516.7 175.3h0M519.5 174.9h0M542.4 171.6h0M531.5 171.4h0M550.0 170.9h0M550.9 159.3h0M541.5 168.0h0M529.8 176.6h0M542.3 176.1h0M526.0 176.7h0M515.3 174.2h0M557.4 165.4h0M528.0 174.2h0M463.8 170.0h0M478.8 148.5h0M512.0 138.0h0M496.0 139.0h0M522.0 144.5h0M509.0 154.7h0M502.0 150.0h0M509.0 161.0h0M513.0 165.0h0M529.0 143.0h0M540.0 148.0h0M548.0 137.0h0M553.0 142.0h0M557.0 136.0h0M560.0 128.0h0M566.0 120.0h0M569.0 114.0h0M567.0 117.0h0M550.0 150.0h0M535.0 155.0h0M545.0 156.0h0M555.0 146.0h0" stroke="#375b8f" stroke-width="2.8" stroke-linecap="round"/>
<path d="M593.1 165.7h0M589.8 176.0h0M591.2 172.4h0M594.9 175.2h0M592.6 173.2h0M591.7 161.4h0M588.7 169.7h0M589.9 166.1h0M591.9 167.1h0M605.8 171.2h0M593.7 163.0h0M591.5 166.2h0M594.0 164.3h0M589.2 169.8h0M589.6 172.5h0M590.6 176.0h0M608.6 175.4h0M593.8 171.9h0M589.3 174.6h0M594.7 175.1h0M588.7 175.9h0M589.9 175.3h0M591.3 170.1h0M590.8 171.7h0M593.2 163.7h0M591.5 175.3h0M591.2 173.9h0M590.7 161.6h0M588.7 165.4h0M589.3 172.6h0M598.1 175.3h0M592.4 158.7h0M592.5 176.3h0M590.6 166.3h0M598.2 168.0h0M596.1 165.7h0M590.1 167.4h0M590.7 171.4h0M589.6 152.2h0M588.9 169.2h0M603.7 174.5h0M589.1 173.7h0M591.3 169.1h0M601.6 173.3h0M590.9 175.3h0M594.6 150.1h0M591.2 167.4h0M594.5 171.4h0M604.3 171.9h0M591.0 168.0h0M593.1 175.3h0M592.1 174.4h0M593.2 167.4h0M597.2 174.7h0M589.3 175.3h0M592.1 166.4h0M602.1 168.6h0M593.3 168.0h0M590.0 174.7h0M589.6 172.4h0M591.9 173.9h0M615.5 162.0h0M589.4 172.0h0M588.9 171.2h0M597.4 174.6h0M589.7 166.7h0M589.5 168.4h0M596.7 156.1h0M601.8 171.9h0M590.2 164.2h0M599.2 156.7h0M596.9 155.4h0M589.3 166.9h0M591.4 148.9h0M598.6 174.5h0M591.9 172.2h0M589.0 153.4h0M590.0 173.9h0M593.4 174.6h0M595.5 163.0h0M591.7 162.2h0M589.1 167.9h0M589.4 161.1h0M594.7 170.3h0M591.1 170.9h0M590.8 160.6h0M591.8 172.5h0M606.9 173.0h0M589.3 171.8h0M593.1 151.7h0M593.7 175.5h0M595.0 158.8h0M588.8 170.3h0M614.3 164.9h0M595.5 169.1h0M595.7 170.8h0M594.9 157.2h0M588.9 175.0h0M590.6 155.0h0M593.9 161.3h0M592.9 151.5h0M589.6 173.5h0M589.2 170.9h0M594.1 152.9h0M597.5 175.0h0M589.9 159.4h0M594.1 153.7h0M591.5 175.8h0M599.7 153.2h0M593.5 176.8h0M592.3 157.2h0M598.6 163.0h0M597.8 173.5h0M595.7 164.5h0M596.6 164.6h0M592.2 172.4h0M592.4 170.2h0M593.7 176.0h0M590.1 160.6h0M592.5 164.6h0M593.1 172.7h0M596.6 166.5h0M589.4 164.0h0M591.0 149.1h0M590.0 151.3h0M591.3 167.8h0M589.1 156.1h0M592.3 175.0h0M593.0 176.2h0M592.1 176.0h0M591.1 173.4h0M589.8 161.0h0M593.1 162.2h0M592.8 168.2h0M591.5 150.2h0M591.0 175.9h0M593.4 165.5h0M590.5 175.2h0M589.2 175.8h0M594.5 176.7h0M590.0 169.3h0M589.8 167.9h0M595.4 157.6h0M591.1 155.8h0M596.3 155.0h0M595.1 175.8h0M597.1 150.2h0M588.7 163.3h0M600.9 171.1h0M594.7 174.9h0M588.8 161.6h0M590.2 170.5h0M592.6 169.0h0M603.9 176.3h0M593.7 175.0h0M591.4 154.5h0M595.5 175.3h0M590.4 162.5h0M600.3 158.2h0M590.2 158.0h0M589.1 173.5h0M599.5 175.7h0M603.2 175.6h0M588.7 174.0h0M590.5 172.6h0M590.6 163.0h0M599.2 176.3h0M590.2 172.2h0M592.6 169.7h0M588.8 168.8h0M592.8 175.8h0M593.6 173.6h0M596.3 168.5h0M596.3 153.2h0M590.4 167.7h0M603.3 165.0h0M599.2 172.3h0M591.0 168.7h0M598.2 170.3h0M605.1 159.4h0M601.0 172.6h0M600.8 171.5h0M607.3 167.2h0M598.1 172.2h0M604.0 176.5h0M589.1 170.4h0M594.2 166.8h0M599.4 172.5h0M592.1 172.5h0M594.2 173.0h0M601.5 170.8h0M595.7 175.9h0M591.5 174.1h0M594.4 174.0h0M588.8 176.3h0M605.1 162.1h0M593.3 176.2h0M620.3 161.7h0M615.8 156.3h0M600.0 157.7h0M599.5 171.9h0M603.5 175.5h0M589.9 160.3h0M603.5 159.7h0M588.9 172.8h0M590.2 169.0h0M589.5 176.7h0M592.3 171.0h0M599.8 159.4h0M593.8 173.7h0M596.4 173.3h0M596.8 159.0h0M602.3 154.4h0M601.2 153.6h0M592.5 167.6h0M590.8 174.5h0M600.5 173.1h0M589.2 165.8h0M592.1 173.3h0M590.4 163.9h0M592.6 162.8h0M599.9 172.1h0M591.8 171.1h0M591.3 170.5h0M617.5 150.7h0M593.8 164.8h0M591.6 159.3h0M596.1 176.4h0M589.0 151.9h0M597.8 167.6h0M596.5 176.7h0M590.8 156.6h0M595.4 164.8h0M589.0 168.6h0M590.8 173.0h0M594.7 173.4h0M596.2 175.1h0M605.5 174.3h0M591.3 162.2h0M608.7 171.8h0M622.7 175.2h0M628.3 175.7h0M631.6 169.4h0M590.3 174.7h0M605.6 171.2h0M632.8 176.8h0M636.6 173.0h0M617.9 157.2h0M603.9 171.1h0M606.6 168.5h0M602.3 173.6h0M609.4 165.0h0M630.5 167.8h0M626.4 172.5h0M601.3 171.2h0M627.8 176.7h0M628.9 176.7h0M606.0 157.2h0M604.3 166.9h0M626.8 176.1h0M625.7 171.4h0M629.5 176.0h0M609.1 168.2h0M633.1 176.1h0M612.0 172.3h0M614.9 171.9h0M632.3 176.5h0M600.9 170.0h0M629.3 166.5h0M596.6 162.4h0M625.7 165.8h0M608.1 172.6h0M606.6 172.3h0M598.3 167.5h0M610.4 174.6h0M635.2 175.2h0M619.9 176.1h0M604.9 172.2h0M638.3 174.9h0M613.3 167.4h0M606.7 165.6h0M631.5 170.3h0M611.9 166.7h0M603.1 163.0h0M606.1 160.4h0M609.7 173.8h0M590.8 169.9h0M604.2 160.9h0M626.7 166.6h0M614.3 174.1h0M608.1 170.6h0M594.6 172.5h0M608.2 174.0h0M597.1 175.6h0M599.0 61.0h0M602.7 90.6h0M603.1 95.9h0M595.0 108.2h0M591.8 117.8h0M596.6 121.9h0M605.1 127.2h0M670.6 139.3h0M644.6 142.2h0M620.7 147.7h0M628.0 152.0h0M644.6 153.7h0M617.6 158.1h0M652.5 159.8h0M656.9 169.4h0M644.6 166.3h0M627.2 165.3h0M592.0 130.0h0M590.0 134.0h0M596.0 140.0h0M600.0 143.0h0M606.0 150.0h0M610.0 155.0h0" stroke="#c32427" stroke-width="2.8" stroke-linecap="round"/>
</g>
<line x1="569.90" y1="54.50" x2="569.90" y2="203.30" stroke="#333" stroke-width="0.75" stroke-dasharray="1.7,1.45" />
<line x1="588.40" y1="54.50" x2="588.40" y2="203.30" stroke="#333" stroke-width="0.75" stroke-dasharray="1.7,1.45" />
<line x1="392.80" y1="177.20" x2="685.00" y2="177.20" stroke="#333" stroke-width="0.75" stroke-dasharray="1.7,1.45" />
<line x1="392.80" y1="54.50" x2="392.80" y2="203.30" stroke="#333" stroke-width="0.8" />
<line x1="392.80" y1="203.30" x2="685.00" y2="203.30" stroke="#333" stroke-width="0.8" />
<line x1="423.10" y1="203.30" x2="423.10" y2="205.30" stroke="#333" stroke-width="0.6" />
<text x="423.10" y="210.20" font-size="4.8" fill="#222" text-anchor="middle"  stroke="#222" stroke-width="0.09" xml:space="preserve">−10</text>
<line x1="501.30" y1="203.30" x2="501.30" y2="205.30" stroke="#333" stroke-width="0.6" />
<text x="501.30" y="210.20" font-size="4.8" fill="#222" text-anchor="middle"  stroke="#222" stroke-width="0.09" xml:space="preserve">−5</text>
<line x1="579.50" y1="203.30" x2="579.50" y2="205.30" stroke="#333" stroke-width="0.6" />
<text x="579.50" y="210.20" font-size="4.8" fill="#222" text-anchor="middle"  stroke="#222" stroke-width="0.09" xml:space="preserve">0</text>
<line x1="657.70" y1="203.30" x2="657.70" y2="205.30" stroke="#333" stroke-width="0.6" />
<text x="657.70" y="210.20" font-size="4.8" fill="#222" text-anchor="middle"  stroke="#222" stroke-width="0.09" xml:space="preserve">5</text>
<line x1="390.80" y1="196.50" x2="392.80" y2="196.50" stroke="#333" stroke-width="0.6" />
<text x="390.50" y="198.20" font-size="4.8" fill="#222" text-anchor="end"  stroke="#222" stroke-width="0.09" xml:space="preserve">0.0</text>
<line x1="390.80" y1="158.70" x2="392.80" y2="158.70" stroke="#333" stroke-width="0.6" />
<text x="390.50" y="160.40" font-size="4.8" fill="#222" text-anchor="end"  stroke="#222" stroke-width="0.09" xml:space="preserve">2.5</text>
<line x1="390.80" y1="120.90" x2="392.80" y2="120.90" stroke="#333" stroke-width="0.6" />
<text x="390.50" y="122.60" font-size="4.8" fill="#222" text-anchor="end"  stroke="#222" stroke-width="0.09" xml:space="preserve">5.0</text>
<line x1="390.80" y1="83.10" x2="392.80" y2="83.10" stroke="#333" stroke-width="0.6" />
<text x="390.50" y="84.80" font-size="4.8" fill="#222" text-anchor="end"  stroke="#222" stroke-width="0.09" xml:space="preserve">7.5</text>
<text x="518.80" y="216.90" font-size="6.3" fill="#111" textLength="39.40" lengthAdjust="spacingAndGlyphs"  stroke="#111" stroke-width="0.09" xml:space="preserve">log2FoldChange</text>
<text transform="translate(382.6,128.8) rotate(-90)" font-size="6.3" fill="#111" text-anchor="middle" textLength="68.1" lengthAdjust="spacingAndGlyphs">−log10(Adjust P−value)</text>
<text x="569.80" y="114.40" font-size="4.3" fill="#375b8f" font-weight="bold" text-anchor="middle" textLength="13.19" lengthAdjust="spacingAndGlyphs" stroke="#375b8f" stroke-width="0.18" xml:space="preserve">MED30</text>
<text x="555.90" y="122.00" font-size="4.3" fill="#375b8f" font-weight="bold" text-anchor="middle" textLength="8.57" lengthAdjust="spacingAndGlyphs" stroke="#375b8f" stroke-width="0.18" xml:space="preserve">NOV</text>
<text x="545.00" y="127.60" font-size="4.3" fill="#375b8f" font-weight="bold" text-anchor="middle" textLength="10.77" lengthAdjust="spacingAndGlyphs" stroke="#375b8f" stroke-width="0.18" xml:space="preserve">RSG1</text>
<text x="561.00" y="130.50" font-size="4.3" fill="#375b8f" font-weight="bold" text-anchor="middle" textLength="10.77" lengthAdjust="spacingAndGlyphs" stroke="#375b8f" stroke-width="0.18" xml:space="preserve">ESPN</text>
<text x="510.70" y="134.40" font-size="4.3" fill="#375b8f" font-weight="bold" text-anchor="middle" textLength="13.19" lengthAdjust="spacingAndGlyphs" stroke="#375b8f" stroke-width="0.18" xml:space="preserve">SASH3</text>
<text x="531.80" y="134.40" font-size="4.3" fill="#375b8f" font-weight="bold" text-anchor="middle" textLength="20.23" lengthAdjust="spacingAndGlyphs" stroke="#375b8f" stroke-width="0.18" xml:space="preserve">LINC00634</text>
<text x="491.40" y="138.80" font-size="4.3" fill="#375b8f" font-weight="bold" text-anchor="middle" textLength="14.95" lengthAdjust="spacingAndGlyphs" stroke="#375b8f" stroke-width="0.18" xml:space="preserve">LHFPL5</text>
<text x="547.90" y="137.80" font-size="4.3" fill="#375b8f" font-weight="bold" text-anchor="middle" textLength="16.05" lengthAdjust="spacingAndGlyphs" stroke="#375b8f" stroke-width="0.18" xml:space="preserve">MAPK13</text>
<text x="576.40" y="139.60" font-size="4.3" fill="#375b8f" font-weight="bold" text-anchor="middle" textLength="15.83" lengthAdjust="spacingAndGlyphs" stroke="#375b8f" stroke-width="0.18" xml:space="preserve">DNAJC6</text>
<text x="532.60" y="145.00" font-size="4.3" fill="#375b8f" font-weight="bold" text-anchor="middle" textLength="23.08" lengthAdjust="spacingAndGlyphs" stroke="#375b8f" stroke-width="0.18" xml:space="preserve">MTHFD2P28</text>
<text x="564.00" y="145.40" font-size="4.3" fill="#375b8f" font-weight="bold" text-anchor="middle" textLength="10.11" lengthAdjust="spacingAndGlyphs" stroke="#375b8f" stroke-width="0.18" xml:space="preserve">CD81</text>
<text x="483.00" y="149.30" font-size="4.3" fill="#375b8f" font-weight="bold" text-anchor="middle" textLength="28.81" lengthAdjust="spacingAndGlyphs" stroke="#375b8f" stroke-width="0.18" xml:space="preserve">CTD-2138D18.4</text>
<text x="515.00" y="150.80" font-size="4.3" fill="#375b8f" font-weight="bold" text-anchor="middle" textLength="18.25" lengthAdjust="spacingAndGlyphs" stroke="#375b8f" stroke-width="0.18" xml:space="preserve">SLCO2B1</text>
<text x="557.40" y="152.00" font-size="4.3" fill="#375b8f" font-weight="bold" text-anchor="middle" textLength="9.67" lengthAdjust="spacingAndGlyphs" stroke="#375b8f" stroke-width="0.18" xml:space="preserve">TEL3</text>
<text x="533.30" y="160.00" font-size="4.3" fill="#375b8f" font-weight="bold" text-anchor="middle" textLength="17.14" lengthAdjust="spacingAndGlyphs" stroke="#375b8f" stroke-width="0.18" xml:space="preserve">GRAMD2</text>
<text x="610.40" y="62.60" font-size="4.3" fill="#c32427" font-weight="bold" text-anchor="middle" textLength="13.85" lengthAdjust="spacingAndGlyphs" stroke="#c32427" stroke-width="0.18" xml:space="preserve">ECSCR</text>
<text x="598.30" y="86.90" font-size="4.3" fill="#c32427" font-weight="bold" text-anchor="middle" textLength="16.71" lengthAdjust="spacingAndGlyphs" stroke="#c32427" stroke-width="0.18" xml:space="preserve">MIR612B</text>
<text x="620.00" y="96.50" font-size="4.3" fill="#c32427" font-weight="bold" text-anchor="middle" textLength="13.19" lengthAdjust="spacingAndGlyphs" stroke="#c32427" stroke-width="0.18" xml:space="preserve">CLCN5</text>
<text x="603.90" y="104.70" font-size="4.3" fill="#c32427" font-weight="bold" text-anchor="middle" textLength="13.63" lengthAdjust="spacingAndGlyphs" stroke="#c32427" stroke-width="0.18" xml:space="preserve">KCND1</text>
<text x="585.50" y="113.90" font-size="4.3" fill="#c32427" font-weight="bold" text-anchor="middle" textLength="16.05" lengthAdjust="spacingAndGlyphs" stroke="#c32427" stroke-width="0.18" xml:space="preserve">MAP4K2</text>
<text x="604.30" y="119.20" font-size="4.3" fill="#c32427" font-weight="bold" text-anchor="middle" textLength="8.57" lengthAdjust="spacingAndGlyphs" stroke="#c32427" stroke-width="0.18" xml:space="preserve">IL1A</text>
<text x="587.50" y="125.20" font-size="4.3" fill="#c32427" font-weight="bold" text-anchor="middle" textLength="14.07" lengthAdjust="spacingAndGlyphs" stroke="#c32427" stroke-width="0.18" xml:space="preserve">ROBO3</text>
<text x="623.10" y="127.60" font-size="4.3" fill="#c32427" font-weight="bold" text-anchor="middle" textLength="10.99" lengthAdjust="spacingAndGlyphs" stroke="#c32427" stroke-width="0.18" xml:space="preserve">DOK6</text>
<text x="576.60" y="131.20" font-size="4.3" fill="#c32427" font-weight="bold" text-anchor="middle" textLength="17.37" lengthAdjust="spacingAndGlyphs" stroke="#c32427" stroke-width="0.18" xml:space="preserve">SLC44A2</text>
<text x="607.20" y="132.00" font-size="4.3" fill="#c32427" font-weight="bold" text-anchor="middle" textLength="13.41" lengthAdjust="spacingAndGlyphs" stroke="#c32427" stroke-width="0.18" xml:space="preserve">SOCS2</text>
<text x="596.60" y="136.80" font-size="4.3" fill="#c32427" font-weight="bold" text-anchor="middle" textLength="14.51" lengthAdjust="spacingAndGlyphs" stroke="#c32427" stroke-width="0.18" xml:space="preserve">PIK3CD</text>
<text x="619.30" y="139.60" font-size="4.3" fill="#c32427" font-weight="bold" text-anchor="middle" textLength="11.21" lengthAdjust="spacingAndGlyphs" stroke="#c32427" stroke-width="0.18" xml:space="preserve">NREA</text>
<text x="661.00" y="135.60" font-size="4.3" fill="#c32427" font-weight="bold" text-anchor="middle" textLength="24.20" lengthAdjust="spacingAndGlyphs" stroke="#c32427" stroke-width="0.18" xml:space="preserve">AC092310.11</text>
<text x="610.40" y="148.80" font-size="4.3" fill="#c32427" font-weight="bold" text-anchor="middle" textLength="12.97" lengthAdjust="spacingAndGlyphs" stroke="#c32427" stroke-width="0.18" xml:space="preserve">PDZD2</text>
<text x="638.00" y="148.30" font-size="4.3" fill="#c32427" font-weight="bold" text-anchor="middle" textLength="19.79" lengthAdjust="spacingAndGlyphs" stroke="#c32427" stroke-width="0.18" xml:space="preserve">SERPINB4</text>
<line x1="497.00" y1="148.00" x2="470.00" y2="149.00" stroke="#999" stroke-width="0.3" />
<line x1="525.00" y1="149.00" x2="542.00" y2="147.00" stroke="#999" stroke-width="0.3" />
<line x1="545.00" y1="143.40" x2="550.00" y2="143.00" stroke="#999" stroke-width="0.3" />
<line x1="520.00" y1="133.50" x2="540.00" y2="140.00" stroke="#999" stroke-width="0.3" />
<line x1="551.00" y1="127.00" x2="562.00" y2="136.00" stroke="#999" stroke-width="0.3" />
<line x1="560.00" y1="121.00" x2="568.00" y2="124.00" stroke="#999" stroke-width="0.3" />
<line x1="612.00" y1="95.00" x2="604.00" y2="96.00" stroke="#999" stroke-width="0.3" />
<line x1="610.00" y1="139.00" x2="598.00" y2="140.00" stroke="#999" stroke-width="0.3" />
<line x1="600.00" y1="147.00" x2="595.00" y2="144.00" stroke="#999" stroke-width="0.3" />
<line x1="612.00" y1="126.00" x2="606.00" y2="127.00" stroke="#999" stroke-width="0.3" />
<text x="7.60" y="256.20" font-size="21" fill="#231f20"  xml:space="preserve">C</text>
<text x="60.90" y="256.60" font-size="11.3" fill="#231f20" font-weight="bold" textLength="42.64" lengthAdjust="spacingAndGlyphs"  xml:space="preserve">M9a+sh</text>
<text x="103.54" y="256.60" font-size="11.3" fill="#231f20" font-weight="bold" font-style="italic" textLength="36.97" lengthAdjust="spacingAndGlyphs"  xml:space="preserve">EPAS1</text>
<text x="140.51" y="256.60" font-size="11.3" fill="#231f20" font-weight="bold" textLength="85.59" lengthAdjust="spacingAndGlyphs"  xml:space="preserve"> vs M9a+shCTR</text>
<text x="239.60" y="256.60" font-size="11.3" fill="#231f20" font-weight="bold" textLength="38.50" lengthAdjust="spacingAndGlyphs"  xml:space="preserve">GO-BP</text>
<text x="214.70" y="286.70" font-size="8.8" fill="#231f20" font-weight="bold" textLength="55.90" lengthAdjust="spacingAndGlyphs"  xml:space="preserve">Gene Ontology</text>
<rect x="201.80" y="291.30" width="81.70" height="126.30" fill="#ffffff" stroke="none" stroke-width="1" />
<line x1="205.20" y1="291.30" x2="205.20" y2="417.60" stroke="#ebebeb" stroke-width="0.5" />
<line x1="232.50" y1="291.30" x2="232.50" y2="417.60" stroke="#ebebeb" stroke-width="0.5" />
<line x1="259.80" y1="291.30" x2="259.80" y2="417.60" stroke="#ebebeb" stroke-width="0.5" />
<line x1="218.85" y1="291.30" x2="218.85" y2="417.60" stroke="#f4f4f4" stroke-width="0.3" />
<line x1="246.15" y1="291.30" x2="246.15" y2="417.60" stroke="#f4f4f4" stroke-width="0.3" />
<line x1="273.45" y1="291.30" x2="273.45" y2="417.60" stroke="#f4f4f4" stroke-width="0.3" />
<line x1="201.80" y1="298.70" x2="283.50" y2="298.70" stroke="#ebebeb" stroke-width="0.5" />
<line x1="201.80" y1="311.13" x2="283.50" y2="311.13" stroke="#ebebeb" stroke-width="0.5" />
<line x1="201.80" y1="323.56" x2="283.50" y2="323.56" stroke="#ebebeb" stroke-width="0.5" />
<line x1="201.80" y1="335.99" x2="283.50" y2="335.99" stroke="#ebebeb" stroke-width="0.5" />
<line x1="201.80" y1="348.42" x2="283.50" y2="348.42" stroke="#ebebeb" stroke-width="0.5" />
<line x1="201.80" y1="360.85" x2="283.50" y2="360.85" stroke="#ebebeb" stroke-width="0.5" />
<line x1="201.80" y1="373.28" x2="283.50" y2="373.28" stroke="#ebebeb" stroke-width="0.5" />
<line x1="201.80" y1="385.71" x2="283.50" y2="385.71" stroke="#ebebeb" stroke-width="0.5" />
<line x1="201.80" y1="398.14" x2="283.50" y2="398.14" stroke="#ebebeb" stroke-width="0.5" />
<line x1="201.80" y1="410.57" x2="283.50" y2="410.57" stroke="#ebebeb" stroke-width="0.5" />
<rect x="205.20" y="293.20" width="74.80" height="11.00" fill="#e03127" stroke="none" stroke-width="1" />
<rect x="205.20" y="305.63" width="44.40" height="11.00" fill="#c22d9b" stroke="none" stroke-width="1" />
<rect x="205.20" y="318.06" width="40.60" height="11.00" fill="#8a33a0" stroke="none" stroke-width="1" />
<rect x="205.20" y="330.49" width="17.10" height="11.00" fill="#6b3aa2" stroke="none" stroke-width="1" />
<rect x="205.20" y="342.92" width="13.80" height="11.00" fill="#e0352b" stroke="none" stroke-width="1" />
<rect x="205.20" y="355.35" width="11.20" height="11.00" fill="#dc2f52" stroke="none" stroke-width="1" />
<rect x="205.20" y="367.78" width="10.00" height="11.00" fill="#6a3ea5" stroke="none" stroke-width="1" />
<rect x="205.20" y="380.21" width="9.80" height="11.00" fill="#cc2d8e" stroke="none" stroke-width="1" />
<rect x="205.20" y="392.64" width="9.50" height="11.00" fill="#c42f9e" stroke="none" stroke-width="1" />
<rect x="205.20" y="405.07" width="8.70" height="11.00" fill="#3f56b0" stroke="none" stroke-width="1" />
<rect x="201.80" y="291.30" width="81.70" height="126.30" fill="none" stroke="#555" stroke-width="0.6" />
<line x1="200.00" y1="298.70" x2="201.80" y2="298.70" stroke="#444" stroke-width="0.5" />
<text x="117.55" y="301.90" font-size="8.5" fill="#2b2b2b" textLength="81.85" lengthAdjust="spacingAndGlyphs"  xml:space="preserve">regulation of autophagy</text>
<line x1="200.00" y1="311.13" x2="201.80" y2="311.13" stroke="#444" stroke-width="0.5" />
<text x="109.29" y="314.33" font-size="8.5" fill="#2b2b2b" textLength="90.11" lengthAdjust="spacingAndGlyphs"  xml:space="preserve">protein dephosphorylation</text>
<line x1="200.00" y1="323.56" x2="201.80" y2="323.56" stroke="#444" stroke-width="0.5" />
<text x="107.99" y="326.76" font-size="8.5" fill="#2b2b2b" textLength="91.41" lengthAdjust="spacingAndGlyphs"  xml:space="preserve">autophagosome assembly</text>
<line x1="200.00" y1="335.99" x2="201.80" y2="335.99" stroke="#444" stroke-width="0.5" />
<text x="102.76" y="339.19" font-size="8.5" fill="#2b2b2b" textLength="96.64" lengthAdjust="spacingAndGlyphs"  xml:space="preserve">autophagy of mitochondrion</text>
<line x1="200.00" y1="348.42" x2="201.80" y2="348.42" stroke="#444" stroke-width="0.5" />
<text x="102.35" y="351.62" font-size="8.5" fill="#2b2b2b" textLength="97.05" lengthAdjust="spacingAndGlyphs"  xml:space="preserve">response to oxidative stress</text>
<line x1="200.00" y1="360.85" x2="201.80" y2="360.85" stroke="#444" stroke-width="0.5" />
<text x="129.32" y="364.05" font-size="8.5" fill="#2b2b2b" textLength="70.08" lengthAdjust="spacingAndGlyphs"  xml:space="preserve">response to hypoxia</text>
<line x1="200.00" y1="373.28" x2="201.80" y2="373.28" stroke="#444" stroke-width="0.5" />
<text x="91.44" y="376.48" font-size="8.5" fill="#2b2b2b" textLength="107.96" lengthAdjust="spacingAndGlyphs"  xml:space="preserve">response to hydrogen peroxide</text>
<line x1="200.00" y1="385.71" x2="201.80" y2="385.71" stroke="#444" stroke-width="0.5" />
<text x="26.15" y="388.91" font-size="8.5" fill="#2b2b2b" textLength="173.25" lengthAdjust="spacingAndGlyphs"  xml:space="preserve">negative regulation of apoptotic signaling pathway</text>
<line x1="200.00" y1="398.14" x2="201.80" y2="398.14" stroke="#444" stroke-width="0.5" />
<text x="60.11" y="401.34" font-size="8.5" fill="#2b2b2b" textLength="139.29" lengthAdjust="spacingAndGlyphs"  xml:space="preserve">negative regulation of immune response</text>
<line x1="200.00" y1="410.57" x2="201.80" y2="410.57" stroke="#444" stroke-width="0.5" />
<text x="9.22" y="413.77" font-size="8.5" fill="#2b2b2b" textLength="190.18" lengthAdjust="spacingAndGlyphs"  xml:space="preserve">regulation of NLRP3 inflammasome complex assembly</text>
<line x1="205.20" y1="417.60" x2="205.20" y2="419.20" stroke="#444" stroke-width="0.5" />
<text x="205.20" y="424.00" font-size="5.0" fill="#222" text-anchor="middle" textLength="2.50" lengthAdjust="spacingAndGlyphs"  stroke="#222" stroke-width="0.09" xml:space="preserve">0</text>
<line x1="232.50" y1="417.60" x2="232.50" y2="419.20" stroke="#444" stroke-width="0.5" />
<text x="232.50" y="424.00" font-size="5.0" fill="#222" text-anchor="middle" textLength="2.50" lengthAdjust="spacingAndGlyphs"  stroke="#222" stroke-width="0.09" xml:space="preserve">5</text>
<line x1="259.80" y1="417.60" x2="259.80" y2="419.20" stroke="#444" stroke-width="0.5" />
<text x="259.80" y="424.00" font-size="5.0" fill="#222" text-anchor="middle" textLength="5.01" lengthAdjust="spacingAndGlyphs"  stroke="#222" stroke-width="0.09" xml:space="preserve">10</text>
<text x="228.30" y="430.40" font-size="5.1" fill="#111" textLength="28.70" lengthAdjust="spacingAndGlyphs"  stroke="#111" stroke-width="0.09" xml:space="preserve">-log10(p-value)</text>
<text transform="translate(7.7,354.5) rotate(-90)" font-size="5" fill="#111" text-anchor="middle" font-weight="bold" textLength="19.2" lengthAdjust="spacingAndGlyphs">Pathway</text>
<text x="290.10" y="335.50" font-size="5.5" fill="#111" textLength="23.60" lengthAdjust="spacingAndGlyphs"  stroke="#111" stroke-width="0.09" xml:space="preserve">Gene Count</text>
<rect x="290.20" y="338.00" width="6.80" height="39.90" fill="url(#gc)" stroke="none" stroke-width="1" />
<line x1="290.20" y1="342.40" x2="291.40" y2="342.40" stroke="#fff" stroke-width="0.4" />
<line x1="295.80" y1="342.40" x2="297.00" y2="342.40" stroke="#fff" stroke-width="0.4" />
<text x="299.10" y="344.00" font-size="4.4" fill="#111" textLength="5.90" lengthAdjust="spacingAndGlyphs"  stroke="#111" stroke-width="0.09" xml:space="preserve">300</text>
<line x1="290.20" y1="355.50" x2="291.40" y2="355.50" stroke="#fff" stroke-width="0.4" />
<line x1="295.80" y1="355.50" x2="297.00" y2="355.50" stroke="#fff" stroke-width="0.4" />
<text x="299.10" y="357.10" font-size="4.4" fill="#111" textLength="5.90" lengthAdjust="spacingAndGlyphs"  stroke="#111" stroke-width="0.09" xml:space="preserve">200</text>
<line x1="290.20" y1="368.50" x2="291.40" y2="368.50" stroke="#fff" stroke-width="0.4" />
<line x1="295.80" y1="368.50" x2="297.00" y2="368.50" stroke="#fff" stroke-width="0.4" />
<text x="299.10" y="370.10" font-size="4.4" fill="#111" textLength="5.90" lengthAdjust="spacingAndGlyphs"  stroke="#111" stroke-width="0.09" xml:space="preserve">100</text>
<text x="341.90" y="256.20" font-size="21" fill="#231f20"  xml:space="preserve">D</text>
<text x="409.60" y="256.80" font-size="11.3" fill="#231f20" font-weight="bold" textLength="169.50" lengthAdjust="spacingAndGlyphs"  xml:space="preserve">M9a+shCTR vs M7/8+shCTR</text>
<text x="594.90" y="256.80" font-size="11.3" fill="#231f20" font-weight="bold" textLength="36.50" lengthAdjust="spacingAndGlyphs"  xml:space="preserve">GO-BP</text>
<text x="556.60" y="281.70" font-size="8.8" fill="#231f20" font-weight="bold" textLength="57.80" lengthAdjust="spacingAndGlyphs"  xml:space="preserve">Gene Ontology</text>
<rect x="540.40" y="286.30" width="89.80" height="129.00" fill="#ffffff" stroke="none" stroke-width="1" />
<line x1="544.60" y1="286.30" x2="544.60" y2="415.30" stroke="#ebebeb" stroke-width="0.5" />
<line x1="573.30" y1="286.30" x2="573.30" y2="415.30" stroke="#ebebeb" stroke-width="0.5" />
<line x1="602.10" y1="286.30" x2="602.10" y2="415.30" stroke="#ebebeb" stroke-width="0.5" />
<line x1="558.95" y1="286.30" x2="558.95" y2="415.30" stroke="#f4f4f4" stroke-width="0.3" />
<line x1="587.70" y1="286.30" x2="587.70" y2="415.30" stroke="#f4f4f4" stroke-width="0.3" />
<line x1="616.40" y1="286.30" x2="616.40" y2="415.30" stroke="#f4f4f4" stroke-width="0.3" />
<line x1="540.40" y1="293.90" x2="630.20" y2="293.90" stroke="#ebebeb" stroke-width="0.5" />
<line x1="540.40" y1="306.56" x2="630.20" y2="306.56" stroke="#ebebeb" stroke-width="0.5" />
<line x1="540.40" y1="319.22" x2="630.20" y2="319.22" stroke="#ebebeb" stroke-width="0.5" />
<line x1="540.40" y1="331.88" x2="630.20" y2="331.88" stroke="#ebebeb" stroke-width="0.5" />
<line x1="540.40" y1="344.54" x2="630.20" y2="344.54" stroke="#ebebeb" stroke-width="0.5" />
<line x1="540.40" y1="357.20" x2="630.20" y2="357.20" stroke="#ebebeb" stroke-width="0.5" />
<line x1="540.40" y1="369.86" x2="630.20" y2="369.86" stroke="#ebebeb" stroke-width="0.5" />
<line x1="540.40" y1="382.52" x2="630.20" y2="382.52" stroke="#ebebeb" stroke-width="0.5" />
<line x1="540.40" y1="395.18" x2="630.20" y2="395.18" stroke="#ebebeb" stroke-width="0.5" />
<line x1="540.40" y1="407.84" x2="630.20" y2="407.84" stroke="#ebebeb" stroke-width="0.5" />
<rect x="544.60" y="288.20" width="81.60" height="11.40" fill="#e02b2b" stroke="none" stroke-width="1" />
<rect x="544.60" y="300.86" width="54.80" height="11.40" fill="#9b31a2" stroke="none" stroke-width="1" />
<rect x="544.60" y="313.52" width="37.00" height="11.40" fill="#e02a3e" stroke="none" stroke-width="1" />
<rect x="544.60" y="326.18" width="30.20" height="11.40" fill="#b62ea0" stroke="none" stroke-width="1" />
<rect x="544.60" y="338.84" width="27.70" height="11.40" fill="#7d33a3" stroke="none" stroke-width="1" />
<rect x="544.60" y="351.50" width="24.50" height="11.40" fill="#e0302c" stroke="none" stroke-width="1" />
<rect x="544.60" y="364.16" width="22.20" height="11.40" fill="#6a39a6" stroke="none" stroke-width="1" />
<rect x="544.60" y="376.82" width="17.80" height="11.40" fill="#3c57b2" stroke="none" stroke-width="1" />
<rect x="544.60" y="389.48" width="14.40" height="11.40" fill="#d12b85" stroke="none" stroke-width="1" />
<rect x="544.60" y="402.14" width="11.00" height="11.40" fill="#7d35a3" stroke="none" stroke-width="1" />
<rect x="540.40" y="286.30" width="89.80" height="129.00" fill="none" stroke="#555" stroke-width="0.6" />
<line x1="538.60" y1="293.90" x2="540.40" y2="293.90" stroke="#444" stroke-width="0.5" />
<text x="452.82" y="297.10" font-size="8.8" fill="#2b2b2b" textLength="85.08" lengthAdjust="spacingAndGlyphs"  xml:space="preserve">regulation of autophagy</text>
<line x1="538.60" y1="306.56" x2="540.40" y2="306.56" stroke="#444" stroke-width="0.5" />
<text x="427.50" y="309.76" font-size="8.8" fill="#2b2b2b" textLength="110.40" lengthAdjust="spacingAndGlyphs"  xml:space="preserve">mitochondrial gene expression</text>
<line x1="538.60" y1="319.22" x2="540.40" y2="319.22" stroke="#444" stroke-width="0.5" />
<text x="427.96" y="322.42" font-size="8.8" fill="#2b2b2b" textLength="109.94" lengthAdjust="spacingAndGlyphs"  xml:space="preserve">positive regulation of cell cycle</text>
<line x1="538.60" y1="331.88" x2="540.40" y2="331.88" stroke="#444" stroke-width="0.5" />
<text x="455.11" y="335.08" font-size="8.8" fill="#2b2b2b" textLength="82.79" lengthAdjust="spacingAndGlyphs"  xml:space="preserve">mitochondrial transport</text>
<line x1="538.60" y1="344.54" x2="540.40" y2="344.54" stroke="#444" stroke-width="0.5" />
<text x="434.72" y="347.74" font-size="8.8" fill="#2b2b2b" textLength="103.18" lengthAdjust="spacingAndGlyphs"  xml:space="preserve">response to unfolded protein</text>
<line x1="538.60" y1="357.20" x2="540.40" y2="357.20" stroke="#444" stroke-width="0.5" />
<text x="437.01" y="360.40" font-size="8.8" fill="#2b2b2b" textLength="100.89" lengthAdjust="spacingAndGlyphs"  xml:space="preserve">response to oxidative stress</text>
<line x1="538.60" y1="369.86" x2="540.40" y2="369.86" stroke="#444" stroke-width="0.5" />
<text x="437.44" y="373.06" font-size="8.8" fill="#2b2b2b" textLength="100.46" lengthAdjust="spacingAndGlyphs"  xml:space="preserve">autophagy of mitochondrion</text>
<line x1="538.60" y1="382.52" x2="540.40" y2="382.52" stroke="#444" stroke-width="0.5" />
<text x="447.57" y="385.72" font-size="8.8" fill="#2b2b2b" textLength="90.33" lengthAdjust="spacingAndGlyphs"  xml:space="preserve">NADP metabolic process</text>
<line x1="538.60" y1="395.18" x2="540.40" y2="395.18" stroke="#444" stroke-width="0.5" />
<text x="357.80" y="398.38" font-size="8.8" fill="#2b2b2b" textLength="180.10" lengthAdjust="spacingAndGlyphs"  xml:space="preserve">negative regulation of apoptotic signaling pathway</text>
<line x1="538.60" y1="407.84" x2="540.40" y2="407.84" stroke="#444" stroke-width="0.5" />
<text x="437.00" y="411.04" font-size="8.8" fill="#2b2b2b" textLength="100.90" lengthAdjust="spacingAndGlyphs"  xml:space="preserve">cellular response to hypoxia</text>
<line x1="544.60" y1="415.30" x2="544.60" y2="416.90" stroke="#444" stroke-width="0.5" />
<text x="544.60" y="421.70" font-size="5.0" fill="#222" text-anchor="middle" textLength="2.50" lengthAdjust="spacingAndGlyphs"  stroke="#222" stroke-width="0.09" xml:space="preserve">0</text>
<line x1="573.30" y1="415.30" x2="573.30" y2="416.90" stroke="#444" stroke-width="0.5" />
<text x="573.30" y="421.70" font-size="5.0" fill="#222" text-anchor="middle" textLength="2.50" lengthAdjust="spacingAndGlyphs"  stroke="#222" stroke-width="0.09" xml:space="preserve">5</text>
<line x1="602.10" y1="415.30" x2="602.10" y2="416.90" stroke="#444" stroke-width="0.5" />
<text x="602.10" y="421.70" font-size="5.0" fill="#222" text-anchor="middle" textLength="5.01" lengthAdjust="spacingAndGlyphs"  stroke="#222" stroke-width="0.09" xml:space="preserve">10</text>
<text x="570.00" y="427.90" font-size="5.3" fill="#111" textLength="30.70" lengthAdjust="spacingAndGlyphs"  stroke="#111" stroke-width="0.09" xml:space="preserve">-log10(p-value)</text>
<text transform="translate(356.0,350.9) rotate(-90)" font-size="5" fill="#111" text-anchor="middle" font-weight="bold" textLength="19.7" lengthAdjust="spacingAndGlyphs">Pathway</text>
<text x="637.00" y="331.70" font-size="5.5" fill="#111" textLength="24.10" lengthAdjust="spacingAndGlyphs"  stroke="#111" stroke-width="0.09" xml:space="preserve">Gene Count</text>
<rect x="637.00" y="334.30" width="6.90" height="40.50" fill="url(#gc)" stroke="none" stroke-width="1" />
<line x1="637.00" y1="341.30" x2="638.20" y2="341.30" stroke="#fff" stroke-width="0.4" />
<line x1="642.70" y1="341.30" x2="643.90" y2="341.30" stroke="#fff" stroke-width="0.4" />
<text x="646.10" y="342.90" font-size="4.4" fill="#111" textLength="6.60" lengthAdjust="spacingAndGlyphs"  stroke="#111" stroke-width="0.09" xml:space="preserve">300</text>
<line x1="637.00" y1="354.40" x2="638.20" y2="354.40" stroke="#fff" stroke-width="0.4" />
<line x1="642.70" y1="354.40" x2="643.90" y2="354.40" stroke="#fff" stroke-width="0.4" />
<text x="646.10" y="356.00" font-size="4.4" fill="#111" textLength="6.60" lengthAdjust="spacingAndGlyphs"  stroke="#111" stroke-width="0.09" xml:space="preserve">200</text>
<line x1="637.00" y1="367.30" x2="638.20" y2="367.30" stroke="#fff" stroke-width="0.4" />
<line x1="642.70" y1="367.30" x2="643.90" y2="367.30" stroke="#fff" stroke-width="0.4" />
<text x="646.10" y="368.90" font-size="4.4" fill="#111" textLength="6.60" lengthAdjust="spacingAndGlyphs"  stroke="#111" stroke-width="0.09" xml:space="preserve">100</text>
<text x="7.50" y="476.00" font-size="21" fill="#231f20"  xml:space="preserve">E</text>
<text x="97.40" y="475.40" font-size="11.3" fill="#231f20" font-weight="bold" textLength="42.51" lengthAdjust="spacingAndGlyphs"  xml:space="preserve">M9a+sh</text>
<text x="139.91" y="475.40" font-size="11.3" fill="#231f20" font-weight="bold" font-style="italic" textLength="36.86" lengthAdjust="spacingAndGlyphs"  xml:space="preserve">EPAS1</text>
<text x="176.77" y="475.40" font-size="11.3" fill="#231f20" font-weight="bold" textLength="85.33" lengthAdjust="spacingAndGlyphs"  xml:space="preserve"> vs M9a+shCTR</text>
<text x="227.90" y="513.30" font-size="8.8" fill="#231f20" font-weight="bold" textLength="24.10" lengthAdjust="spacingAndGlyphs"  xml:space="preserve">KEGG</text>
<rect x="193.30" y="517.30" width="93.50" height="125.70" fill="#ffffff" stroke="none" stroke-width="1" />
<line x1="196.40" y1="517.30" x2="196.40" y2="643.00" stroke="#ebebeb" stroke-width="0.5" />
<line x1="218.10" y1="517.30" x2="218.10" y2="643.00" stroke="#ebebeb" stroke-width="0.5" />
<line x1="240.00" y1="517.30" x2="240.00" y2="643.00" stroke="#ebebeb" stroke-width="0.5" />
<line x1="261.80" y1="517.30" x2="261.80" y2="643.00" stroke="#ebebeb" stroke-width="0.5" />
<line x1="283.30" y1="517.30" x2="283.30" y2="643.00" stroke="#ebebeb" stroke-width="0.5" />
<line x1="207.25" y1="517.30" x2="207.25" y2="643.00" stroke="#f4f4f4" stroke-width="0.3" />
<line x1="229.05" y1="517.30" x2="229.05" y2="643.00" stroke="#f4f4f4" stroke-width="0.3" />
<line x1="250.90" y1="517.30" x2="250.90" y2="643.00" stroke="#f4f4f4" stroke-width="0.3" />
<line x1="272.55" y1="517.30" x2="272.55" y2="643.00" stroke="#f4f4f4" stroke-width="0.3" />
<line x1="193.30" y1="525.00" x2="286.80" y2="525.00" stroke="#ebebeb" stroke-width="0.5" />
<line x1="193.30" y1="537.33" x2="286.80" y2="537.33" stroke="#ebebeb" stroke-width="0.5" />
<line x1="193.30" y1="549.66" x2="286.80" y2="549.66" stroke="#ebebeb" stroke-width="0.5" />
<line x1="193.30" y1="561.99" x2="286.80" y2="561.99" stroke="#ebebeb" stroke-width="0.5" />
<line x1="193.30" y1="574.32" x2="286.80" y2="574.32" stroke="#ebebeb" stroke-width="0.5" />
<line x1="193.30" y1="586.65" x2="286.80" y2="586.65" stroke="#ebebeb" stroke-width="0.5" />
<line x1="193.30" y1="598.98" x2="286.80" y2="598.98" stroke="#ebebeb" stroke-width="0.5" />
<line x1="193.30" y1="611.31" x2="286.80" y2="611.31" stroke="#ebebeb" stroke-width="0.5" />
<line x1="193.30" y1="623.64" x2="286.80" y2="623.64" stroke="#ebebeb" stroke-width="0.5" />
<line x1="193.30" y1="635.97" x2="286.80" y2="635.97" stroke="#ebebeb" stroke-width="0.5" />
<circle cx="282.10" cy="525.00" r="1.90" fill="#e2302a" stroke="none" stroke-width="0.5"/>
<circle cx="276.50" cy="537.40" r="1.80" fill="#e2302e" stroke="none" stroke-width="0.5"/>
<circle cx="272.80" cy="549.80" r="1.70" fill="#e02f35" stroke="none" stroke-width="0.5"/>
<circle cx="264.30" cy="561.90" r="2.60" fill="#e02d3c" stroke="none" stroke-width="0.5"/>
<circle cx="259.90" cy="574.30" r="1.10" fill="#dc2c48" stroke="none" stroke-width="0.5"/>
<circle cx="248.50" cy="586.70" r="1.40" fill="#c82f8a" stroke="none" stroke-width="0.5"/>
<circle cx="240.50" cy="598.80" r="3.10" fill="#c030a0" stroke="none" stroke-width="0.5"/>
<circle cx="240.50" cy="611.40" r="1.60" fill="#c030a0" stroke="none" stroke-width="0.5"/>
<circle cx="237.50" cy="623.40" r="1.80" fill="#b535a8" stroke="none" stroke-width="0.5"/>
<circle cx="197.10" cy="635.70" r="0.80" fill="#3d5ab8" stroke="none" stroke-width="0.5"/>
<rect x="193.30" y="517.30" width="93.50" height="125.70" fill="none" stroke="#555" stroke-width="0.6" />
<line x1="191.50" y1="525.00" x2="193.30" y2="525.00" stroke="#444" stroke-width="0.5" />
<text x="117.93" y="528.20" font-size="8.6" fill="#2b2b2b" textLength="72.47" lengthAdjust="spacingAndGlyphs"  xml:space="preserve">Autophagy - animal</text>
<line x1="191.50" y1="537.33" x2="193.30" y2="537.33" stroke="#444" stroke-width="0.5" />
<text x="154.41" y="540.53" font-size="8.6" fill="#2b2b2b" textLength="35.99" lengthAdjust="spacingAndGlyphs"  xml:space="preserve">Cell cycle</text>
<line x1="191.50" y1="549.66" x2="193.30" y2="549.66" stroke="#444" stroke-width="0.5" />
<text x="78.20" y="552.86" font-size="8.6" fill="#2b2b2b" textLength="112.20" lengthAdjust="spacingAndGlyphs"  xml:space="preserve">Ubiquitin mediated proteolysis</text>
<line x1="191.50" y1="561.99" x2="193.30" y2="561.99" stroke="#444" stroke-width="0.5" />
<text x="90.82" y="565.19" font-size="8.6" fill="#2b2b2b" textLength="99.58" lengthAdjust="spacingAndGlyphs"  xml:space="preserve">Calcium signaling pathway</text>
<line x1="191.50" y1="574.32" x2="193.30" y2="574.32" stroke="#444" stroke-width="0.5" />
<text x="119.35" y="577.52" font-size="8.6" fill="#2b2b2b" textLength="71.05" lengthAdjust="spacingAndGlyphs"  xml:space="preserve">Mitophagy - animal</text>
<line x1="191.50" y1="586.65" x2="193.30" y2="586.65" stroke="#444" stroke-width="0.5" />
<text x="97.37" y="589.85" font-size="8.6" fill="#2b2b2b" textLength="93.03" lengthAdjust="spacingAndGlyphs"  xml:space="preserve">AMPK signaling pathway</text>
<line x1="191.50" y1="598.98" x2="193.30" y2="598.98" stroke="#444" stroke-width="0.5" />
<text x="88.02" y="602.18" font-size="8.6" fill="#2b2b2b" textLength="102.38" lengthAdjust="spacingAndGlyphs"  xml:space="preserve">PI3K-Akt signaling pathway</text>
<line x1="191.50" y1="611.31" x2="193.30" y2="611.31" stroke="#444" stroke-width="0.5" />
<text x="152.38" y="614.51" font-size="8.6" fill="#2b2b2b" textLength="38.02" lengthAdjust="spacingAndGlyphs"  xml:space="preserve">Lysosome</text>
<line x1="191.50" y1="623.64" x2="193.30" y2="623.64" stroke="#444" stroke-width="0.5" />
<text x="96.59" y="626.84" font-size="8.6" fill="#2b2b2b" textLength="93.81" lengthAdjust="spacingAndGlyphs"  xml:space="preserve">mTOR signaling pathway</text>
<line x1="191.50" y1="635.97" x2="193.30" y2="635.97" stroke="#444" stroke-width="0.5" />
<text x="100.18" y="639.17" font-size="8.6" fill="#2b2b2b" textLength="90.22" lengthAdjust="spacingAndGlyphs"  xml:space="preserve">HIF-1 signaling pathway</text>
<line x1="196.40" y1="643.00" x2="196.40" y2="644.60" stroke="#444" stroke-width="0.5" />
<text x="196.40" y="649.40" font-size="5.0" fill="#222" text-anchor="middle" textLength="2.50" lengthAdjust="spacingAndGlyphs"  stroke="#222" stroke-width="0.09" xml:space="preserve">3</text>
<line x1="218.10" y1="643.00" x2="218.10" y2="644.60" stroke="#444" stroke-width="0.5" />
<text x="218.10" y="649.40" font-size="5.0" fill="#222" text-anchor="middle" textLength="2.50" lengthAdjust="spacingAndGlyphs"  stroke="#222" stroke-width="0.09" xml:space="preserve">5</text>
<line x1="240.00" y1="643.00" x2="240.00" y2="644.60" stroke="#444" stroke-width="0.5" />
<text x="240.00" y="649.40" font-size="5.0" fill="#222" text-anchor="middle" textLength="2.50" lengthAdjust="spacingAndGlyphs"  stroke="#222" stroke-width="0.09" xml:space="preserve">7</text>
<line x1="261.80" y1="643.00" x2="261.80" y2="644.60" stroke="#444" stroke-width="0.5" />
<text x="261.80" y="649.40" font-size="5.0" fill="#222" text-anchor="middle" textLength="2.50" lengthAdjust="spacingAndGlyphs"  stroke="#222" stroke-width="0.09" xml:space="preserve">9</text>
<line x1="283.30" y1="643.00" x2="283.30" y2="644.60" stroke="#444" stroke-width="0.5" />
<text x="283.30" y="649.40" font-size="5.0" fill="#222" text-anchor="middle" textLength="4.67" lengthAdjust="spacingAndGlyphs"  stroke="#222" stroke-width="0.09" xml:space="preserve">11</text>
<text x="227.20" y="655.10" font-size="5.3" fill="#111" textLength="25.30" lengthAdjust="spacingAndGlyphs"  stroke="#111" stroke-width="0.09" xml:space="preserve">Gene Count</text>
<text x="293.40" y="533.20" font-size="5.3" fill="#111" textLength="25.60" lengthAdjust="spacingAndGlyphs"  stroke="#111" stroke-width="0.09" xml:space="preserve">Gene Count</text>
<circle cx="297.10" cy="540.40" r="0.85" fill="#000" stroke="none" stroke-width="0.5"/>
<text x="303.20" y="541.90" font-size="4.2" fill="#111" textLength="6.50" lengthAdjust="spacingAndGlyphs"  stroke="#111" stroke-width="0.09" xml:space="preserve">100</text>
<circle cx="297.10" cy="548.30" r="1.80" fill="#000" stroke="none" stroke-width="0.5"/>
<text x="303.20" y="549.80" font-size="4.2" fill="#111" textLength="6.50" lengthAdjust="spacingAndGlyphs"  stroke="#111" stroke-width="0.09" xml:space="preserve">150</text>
<circle cx="297.10" cy="556.10" r="2.30" fill="#000" stroke="none" stroke-width="0.5"/>
<text x="303.20" y="557.60" font-size="4.2" fill="#111" textLength="6.50" lengthAdjust="spacingAndGlyphs"  stroke="#111" stroke-width="0.09" xml:space="preserve">200</text>
<circle cx="297.10" cy="563.90" r="2.70" fill="#000" stroke="none" stroke-width="0.5"/>
<text x="303.20" y="565.40" font-size="4.2" fill="#111" textLength="6.50" lengthAdjust="spacingAndGlyphs"  stroke="#111" stroke-width="0.09" xml:space="preserve">250</text>
<circle cx="297.10" cy="571.70" r="3.10" fill="#000" stroke="none" stroke-width="0.5"/>
<text x="303.20" y="573.20" font-size="4.2" fill="#111" textLength="6.50" lengthAdjust="spacingAndGlyphs"  stroke="#111" stroke-width="0.09" xml:space="preserve">300</text>
<text x="293.40" y="590.80" font-size="5.3" fill="#111" textLength="31.20" lengthAdjust="spacingAndGlyphs"  stroke="#111" stroke-width="0.09" xml:space="preserve">-log10(p-value)</text>
<rect x="293.80" y="592.70" width="7.00" height="39.30" fill="url(#gc)" stroke="none" stroke-width="1" />
<text x="303.80" y="603.60" font-size="4.2" fill="#111"  stroke="#111" stroke-width="0.09" xml:space="preserve">9</text>
<text x="303.80" y="613.50" font-size="4.2" fill="#111"  stroke="#111" stroke-width="0.09" xml:space="preserve">7</text>
<text x="303.80" y="623.80" font-size="4.2" fill="#111"  stroke="#111" stroke-width="0.09" xml:space="preserve">5</text>
<text x="350.00" y="475.80" font-size="21" fill="#231f20"  xml:space="preserve">F</text>
<text x="427.10" y="475.60" font-size="11.3" fill="#231f20" font-weight="bold" textLength="169.30" lengthAdjust="spacingAndGlyphs"  xml:space="preserve">M9a+shCTR vs M7/8+shCTR</text>
<text x="568.20" y="504.50" font-size="8.8" fill="#231f20" font-weight="bold" textLength="24.60" lengthAdjust="spacingAndGlyphs"  xml:space="preserve">KEGG</text>
<rect x="537.30" y="508.60" width="86.30" height="133.70" fill="#ffffff" stroke="none" stroke-width="1" />
<line x1="539.80" y1="508.60" x2="539.80" y2="642.30" stroke="#ebebeb" stroke-width="0.5" />
<line x1="565.30" y1="508.60" x2="565.30" y2="642.30" stroke="#ebebeb" stroke-width="0.5" />
<line x1="590.80" y1="508.60" x2="590.80" y2="642.30" stroke="#ebebeb" stroke-width="0.5" />
<line x1="616.40" y1="508.60" x2="616.40" y2="642.30" stroke="#ebebeb" stroke-width="0.5" />
<line x1="552.55" y1="508.60" x2="552.55" y2="642.30" stroke="#f4f4f4" stroke-width="0.3" />
<line x1="578.05" y1="508.60" x2="578.05" y2="642.30" stroke="#f4f4f4" stroke-width="0.3" />
<line x1="603.60" y1="508.60" x2="603.60" y2="642.30" stroke="#f4f4f4" stroke-width="0.3" />
<line x1="537.30" y1="516.70" x2="623.60" y2="516.70" stroke="#ebebeb" stroke-width="0.5" />
<line x1="537.30" y1="529.84" x2="623.60" y2="529.84" stroke="#ebebeb" stroke-width="0.5" />
<line x1="537.30" y1="542.98" x2="623.60" y2="542.98" stroke="#ebebeb" stroke-width="0.5" />
<line x1="537.30" y1="556.12" x2="623.60" y2="556.12" stroke="#ebebeb" stroke-width="0.5" />
<line x1="537.30" y1="569.26" x2="623.60" y2="569.26" stroke="#ebebeb" stroke-width="0.5" />
<line x1="537.30" y1="582.40" x2="623.60" y2="582.40" stroke="#ebebeb" stroke-width="0.5" />
<line x1="537.30" y1="595.54" x2="623.60" y2="595.54" stroke="#ebebeb" stroke-width="0.5" />
<line x1="537.30" y1="608.68" x2="623.60" y2="608.68" stroke="#ebebeb" stroke-width="0.5" />
<line x1="537.30" y1="621.82" x2="623.60" y2="621.82" stroke="#ebebeb" stroke-width="0.5" />
<line x1="537.30" y1="634.96" x2="623.60" y2="634.96" stroke="#ebebeb" stroke-width="0.5" />
<circle cx="619.50" cy="516.70" r="2.60" fill="#e23030" stroke="none" stroke-width="0.5"/>
<circle cx="604.10" cy="529.80" r="2.30" fill="#e02a3c" stroke="none" stroke-width="0.5"/>
<circle cx="590.80" cy="543.00" r="2.90" fill="#d0307a" stroke="none" stroke-width="0.5"/>
<circle cx="570.10" cy="556.30" r="1.30" fill="#a030b0" stroke="none" stroke-width="0.5"/>
<circle cx="557.30" cy="569.30" r="1.40" fill="#7035a8" stroke="none" stroke-width="0.5"/>
<circle cx="556.90" cy="582.30" r="2.10" fill="#7035b0" stroke="none" stroke-width="0.5"/>
<circle cx="555.70" cy="595.50" r="1.50" fill="#7035a8" stroke="none" stroke-width="0.5"/>
<circle cx="547.20" cy="608.60" r="1.80" fill="#5040b0" stroke="none" stroke-width="0.5"/>
<circle cx="542.70" cy="621.80" r="1.10" fill="#4050b5" stroke="none" stroke-width="0.5"/>
<circle cx="541.20" cy="635.00" r="0.80" fill="#4055b8" stroke="none" stroke-width="0.5"/>
<rect x="537.30" y="508.60" width="86.30" height="133.70" fill="none" stroke="#555" stroke-width="0.6" />
<line x1="535.50" y1="516.70" x2="537.30" y2="516.70" stroke="#444" stroke-width="0.5" />
<text x="440.35" y="519.90" font-size="9.0" fill="#2b2b2b" textLength="94.35" lengthAdjust="spacingAndGlyphs"  xml:space="preserve">MAPK signaling pathway</text>
<line x1="535.50" y1="529.84" x2="537.30" y2="529.84" stroke="#444" stroke-width="0.5" />
<text x="449.35" y="533.04" font-size="9.0" fill="#2b2b2b" textLength="85.35" lengthAdjust="spacingAndGlyphs"  xml:space="preserve">Ras signaling pathway</text>
<line x1="535.50" y1="542.98" x2="537.30" y2="542.98" stroke="#444" stroke-width="0.5" />
<text x="430.87" y="546.18" font-size="9.0" fill="#2b2b2b" textLength="103.83" lengthAdjust="spacingAndGlyphs"  xml:space="preserve">PI3K-Akt signaling pathway</text>
<line x1="535.50" y1="556.12" x2="537.30" y2="556.12" stroke="#444" stroke-width="0.5" />
<text x="462.64" y="559.32" font-size="9.0" fill="#2b2b2b" textLength="72.06" lengthAdjust="spacingAndGlyphs"  xml:space="preserve">Mitophagy - animal</text>
<line x1="535.50" y1="569.26" x2="537.30" y2="569.26" stroke="#444" stroke-width="0.5" />
<text x="428.03" y="572.46" font-size="9.0" fill="#2b2b2b" textLength="106.67" lengthAdjust="spacingAndGlyphs"  xml:space="preserve">TGF-beta signaling pathway</text>
<line x1="535.50" y1="582.40" x2="537.30" y2="582.40" stroke="#444" stroke-width="0.5" />
<text x="441.93" y="585.60" font-size="9.0" fill="#2b2b2b" textLength="92.77" lengthAdjust="spacingAndGlyphs"  xml:space="preserve">cAMP signaling pathway</text>
<line x1="535.50" y1="595.54" x2="537.30" y2="595.54" stroke="#444" stroke-width="0.5" />
<text x="440.35" y="598.74" font-size="9.0" fill="#2b2b2b" textLength="94.35" lengthAdjust="spacingAndGlyphs"  xml:space="preserve">AMPK signaling pathway</text>
<line x1="535.50" y1="608.68" x2="537.30" y2="608.68" stroke="#444" stroke-width="0.5" />
<text x="439.57" y="611.88" font-size="9.0" fill="#2b2b2b" textLength="95.13" lengthAdjust="spacingAndGlyphs"  xml:space="preserve">mTOR signaling pathway</text>
<line x1="535.50" y1="621.82" x2="537.30" y2="621.82" stroke="#444" stroke-width="0.5" />
<text x="344.90" y="625.02" font-size="9.0" fill="#2b2b2b" textLength="189.80" lengthAdjust="spacingAndGlyphs"  xml:space="preserve">Inflammatory mediator regulation of TRP channels</text>
<line x1="535.50" y1="634.96" x2="537.30" y2="634.96" stroke="#444" stroke-width="0.5" />
<text x="424.22" y="638.16" font-size="9.0" fill="#2b2b2b" textLength="110.48" lengthAdjust="spacingAndGlyphs"  xml:space="preserve">Longevity regulating pathway</text>
<line x1="539.80" y1="642.30" x2="539.80" y2="643.90" stroke="#444" stroke-width="0.5" />
<text x="539.80" y="648.70" font-size="5.0" fill="#222" text-anchor="middle" textLength="2.50" lengthAdjust="spacingAndGlyphs"  stroke="#222" stroke-width="0.09" xml:space="preserve">4</text>
<line x1="565.30" y1="642.30" x2="565.30" y2="643.90" stroke="#444" stroke-width="0.5" />
<text x="565.30" y="648.70" font-size="5.0" fill="#222" text-anchor="middle" textLength="2.50" lengthAdjust="spacingAndGlyphs"  stroke="#222" stroke-width="0.09" xml:space="preserve">8</text>
<line x1="590.80" y1="642.30" x2="590.80" y2="643.90" stroke="#444" stroke-width="0.5" />
<text x="590.80" y="648.70" font-size="5.0" fill="#222" text-anchor="middle" textLength="5.01" lengthAdjust="spacingAndGlyphs"  stroke="#222" stroke-width="0.09" xml:space="preserve">12</text>
<line x1="616.40" y1="642.30" x2="616.40" y2="643.90" stroke="#444" stroke-width="0.5" />
<text x="616.40" y="648.70" font-size="5.0" fill="#222" text-anchor="middle" textLength="5.01" lengthAdjust="spacingAndGlyphs"  stroke="#222" stroke-width="0.09" xml:space="preserve">16</text>
<text x="568.00" y="655.50" font-size="5.3" fill="#111" textLength="25.10" lengthAdjust="spacingAndGlyphs"  stroke="#111" stroke-width="0.09" xml:space="preserve">Gene Count</text>
<text x="630.40" y="525.60" font-size="5.3" fill="#111" textLength="25.60" lengthAdjust="spacingAndGlyphs"  stroke="#111" stroke-width="0.09" xml:space="preserve">Gene Count</text>
<circle cx="634.10" cy="533.20" r="0.90" fill="#000" stroke="none" stroke-width="0.5"/>
<text x="640.20" y="534.70" font-size="4.2" fill="#111" textLength="6.50" lengthAdjust="spacingAndGlyphs"  stroke="#111" stroke-width="0.09" xml:space="preserve">100</text>
<circle cx="634.10" cy="541.60" r="1.90" fill="#000" stroke="none" stroke-width="0.5"/>
<text x="640.20" y="543.10" font-size="4.2" fill="#111" textLength="6.50" lengthAdjust="spacingAndGlyphs"  stroke="#111" stroke-width="0.09" xml:space="preserve">150</text>
<circle cx="634.10" cy="549.80" r="2.30" fill="#000" stroke="none" stroke-width="0.5"/>
<text x="640.20" y="551.30" font-size="4.2" fill="#111" textLength="6.50" lengthAdjust="spacingAndGlyphs"  stroke="#111" stroke-width="0.09" xml:space="preserve">200</text>
<circle cx="634.10" cy="557.90" r="2.60" fill="#000" stroke="none" stroke-width="0.5"/>
<text x="640.20" y="559.40" font-size="4.2" fill="#111" textLength="6.50" lengthAdjust="spacingAndGlyphs"  stroke="#111" stroke-width="0.09" xml:space="preserve">250</text>
<circle cx="634.10" cy="566.60" r="3.00" fill="#000" stroke="none" stroke-width="0.5"/>
<text x="640.20" y="568.10" font-size="4.2" fill="#111" textLength="6.50" lengthAdjust="spacingAndGlyphs"  stroke="#111" stroke-width="0.09" xml:space="preserve">300</text>
<text x="630.40" y="585.10" font-size="5.3" fill="#111" textLength="31.20" lengthAdjust="spacingAndGlyphs"  stroke="#111" stroke-width="0.09" xml:space="preserve">-log10(p-value)</text>
<rect x="630.10" y="588.80" width="7.70" height="41.80" fill="url(#gc)" stroke="none" stroke-width="1" />
<text x="640.20" y="591.80" font-size="4.2" fill="#111"  stroke="#111" stroke-width="0.09" xml:space="preserve">16</text>
<text x="640.20" y="605.90" font-size="4.2" fill="#111"  stroke="#111" stroke-width="0.09" xml:space="preserve">12</text>
<text x="640.20" y="619.70" font-size="4.2" fill="#111"  stroke="#111" stroke-width="0.09" xml:space="preserve">8</text>
<text x="7.80" y="697.30" font-size="21" fill="#231f20"  xml:space="preserve">G</text>
<text x="61.40" y="701.90" font-size="10.6" fill="#231f20" font-weight="bold" textLength="173.20" lengthAdjust="spacingAndGlyphs"  xml:space="preserve">GO enrichment map analysis of</text>
<text x="87.40" y="716.00" font-size="10.6" fill="#231f20" font-weight="bold" textLength="100.30" lengthAdjust="spacingAndGlyphs"  xml:space="preserve">upregulated DEGs</text>
<ellipse cx="24.50" cy="788.20" rx="23.00" ry="24.50" fill="#f3e6d5" stroke="#333" stroke-width="0.7"/>
<ellipse cx="88.50" cy="780.60" rx="24.40" ry="27.80" fill="#f6eee1" stroke="#333" stroke-width="0.7"/>
<ellipse cx="141.60" cy="784.60" rx="20.10" ry="22.80" fill="#f0dccb" stroke="#333" stroke-width="0.7"/>
<ellipse cx="150.90" cy="843.20" rx="19.40" ry="22.70" fill="#f3e0cc" stroke="#333" stroke-width="0.7"/>
<ellipse cx="44.60" cy="862.20" rx="34.40" ry="37.00" fill="#fcf9f5" stroke="#333" stroke-width="0.7"/>
<ellipse cx="115.60" cy="896.30" rx="23.30" ry="27.00" fill="#dccab9" stroke="#333" stroke-width="0.7"/>
<ellipse cx="204.30" cy="800.60" rx="20.00" ry="22.20" fill="#f9f6ef" stroke="#333" stroke-width="0.7"/>
<ellipse cx="199.60" cy="883.00" rx="20.00" ry="21.00" fill="#fdfcfa" stroke="#333" stroke-width="0.7"/>
<rect x="168.00" y="764.70" width="81.50" height="61.30" fill="none" stroke="#8e2383" stroke-width="1.5" stroke-dasharray="2.5,1.5"/>
<path d="M24.3 776.2L13.3 783.2M24.3 776.2L35.7 783.8M24.3 776.2L22.4 786.6M24.3 776.2L13.9 799.7M24.3 776.2L28.5 799.7M13.3 783.2L22.4 786.6M13.3 783.2L13.9 799.7M35.7 783.8L22.4 786.6M35.7 783.8L13.9 799.7M35.7 783.8L28.5 799.7M22.4 786.6L13.9 799.7M22.4 786.6L28.5 799.7M13.9 799.7L28.5 799.7M95.8 765.6L90.5 782.6M139.1 771.7L149.4 775.0M139.1 771.7L130.4 779.0M139.1 771.7L141.7 783.8M139.1 771.7L152.7 786.6M139.1 771.7L129.7 789.9M139.1 771.7L137.4 797.6M139.1 771.7L146.8 796.5M149.4 775.0L130.4 779.0M149.4 775.0L141.7 783.8M149.4 775.0L152.7 786.6M149.4 775.0L129.7 789.9M149.4 775.0L137.4 797.6M149.4 775.0L146.8 796.5M130.4 779.0L152.7 786.6M130.4 779.0L129.7 789.9M130.4 779.0L137.4 797.6M130.4 779.0L146.8 796.5M141.7 783.8L152.7 786.6M141.7 783.8L137.4 797.6M141.7 783.8L146.8 796.5M152.7 786.6L129.7 789.9M152.7 786.6L137.4 797.6M129.7 789.9L137.4 797.6M129.7 789.9L146.8 796.5M137.4 797.6L146.8 796.5M143.3 834.4L150.3 852.1M196.0 791.4L208.7 789.1M196.0 791.4L214.2 801.6M196.0 791.4L194.4 805.7M196.0 791.4L205.8 811.9M208.7 789.1L214.2 801.6M208.7 789.1L194.4 805.7M208.7 789.1L205.8 811.9M214.2 801.6L194.4 805.7M214.2 801.6L205.8 811.9M194.4 805.7L205.8 811.9M190.6 872.9L207.9 877.1M190.6 872.9L196.5 891.5M207.9 877.1L196.5 891.5M34.2 834.4L44.2 838.9M34.2 834.4L33.6 845.7M34.2 834.4L28.9 854.2M34.2 834.4L42.8 853.2M34.2 834.4L36.3 861.4M44.2 838.9L49.6 842.2M44.2 838.9L42.8 853.2M44.2 838.9L36.3 861.4M49.6 842.2L36.3 861.4M49.6 842.2L60.2 858.3M49.6 842.2L52.4 868.1M33.6 845.7L18.3 855.9M33.6 845.7L42.8 853.2M33.6 845.7L40.2 869.8M18.3 855.9L42.8 853.2M18.3 855.9L24.8 866.5M18.3 855.9L40.2 869.8M18.3 855.9L31.2 877.3M28.9 854.2L36.3 861.4M28.9 854.2L52.4 868.1M28.9 854.2L22.4 873.9M28.9 854.2L31.2 877.3M28.9 854.2L25.4 881.8M42.8 853.2L52.4 868.1M42.8 853.2L46.9 880.0M70.4 853.4L60.2 858.3M36.3 861.4L60.8 865.1M36.3 861.4L22.4 873.9M36.3 861.4L25.4 881.8M60.2 858.3L52.4 868.1M60.2 858.3L46.9 880.0M60.2 858.3L60.8 886.1M24.8 866.5L22.4 873.9M24.8 866.5L46.9 880.0M60.8 865.1L40.2 869.8M52.4 868.1L31.2 877.3M52.4 868.1L36.3 886.1M52.4 868.1L60.8 886.1M40.2 869.8L22.4 873.9M40.2 869.8L53.6 890.2M22.4 873.9L36.3 886.1M25.4 881.8L36.3 886.1M36.3 886.1L43.8 888.6M43.8 888.6L53.6 890.2M75.1 789.3L44.2 838.9M75.1 789.3L49.6 842.2M75.1 789.3L33.6 845.7M75.1 789.3L42.8 853.2M75.1 789.3L36.3 861.4M75.1 789.3L52.4 868.1M75.1 789.3L31.2 877.3M75.1 789.3L111.3 880.0M101.5 795.9L124.6 887.0M22.4 786.6L33.6 845.7M13.9 799.7L36.3 861.4M28.5 799.7L28.9 854.2M22.4 786.6L24.8 866.5M28.5 799.7L22.4 873.9M13.9 799.7L25.4 881.8M70.4 853.4L111.3 880.0M60.2 858.3L111.3 880.0M60.8 865.1L111.3 880.0M52.4 868.1L111.3 880.0M40.2 869.8L111.3 880.0M46.9 880.0L111.3 880.0M109.6 892.0L118.0 898.4M102.1 897.2L118.0 898.4M102.1 905.9L118.0 898.4M124.6 887.0L128.6 900.4M102.1 897.2L102.1 905.9M117.0 908.0L118.0 898.4M111.3 880.0L109.6 892.0" stroke="#95c2e6" stroke-width="0.5" fill="none"/>
<circle cx="24.30" cy="776.20" r="3.40" fill="#8b1a6b" stroke="#5a4a6a" stroke-width="0.3"/>
<circle cx="13.30" cy="783.20" r="3.40" fill="#8b1a6b" stroke="#5a4a6a" stroke-width="0.3"/>
<circle cx="35.70" cy="783.80" r="3.40" fill="#8b1a6b" stroke="#5a4a6a" stroke-width="0.3"/>
<circle cx="22.40" cy="786.60" r="3.40" fill="#8b1a6b" stroke="#5a4a6a" stroke-width="0.3"/>
<circle cx="13.90" cy="799.70" r="3.40" fill="#8b1a6b" stroke="#5a4a6a" stroke-width="0.3"/>
<circle cx="28.50" cy="799.70" r="3.40" fill="#8b1a6b" stroke="#5a4a6a" stroke-width="0.3"/>
<circle cx="83.10" cy="768.60" r="3.40" fill="#8b1a6b" stroke="#5a4a6a" stroke-width="0.3"/>
<circle cx="95.80" cy="765.60" r="3.40" fill="#8b1a6b" stroke="#5a4a6a" stroke-width="0.3"/>
<circle cx="99.20" cy="776.60" r="3.40" fill="#8b1a6b" stroke="#5a4a6a" stroke-width="0.3"/>
<circle cx="81.00" cy="780.70" r="3.40" fill="#8b1a6b" stroke="#5a4a6a" stroke-width="0.3"/>
<circle cx="90.50" cy="782.60" r="3.40" fill="#8b1a6b" stroke="#5a4a6a" stroke-width="0.3"/>
<circle cx="75.10" cy="789.30" r="3.40" fill="#8b1a6b" stroke="#5a4a6a" stroke-width="0.3"/>
<g><circle cx="101.50" cy="795.90" r="3.4" fill="#9d9cd9"/><path d="M101.50 792.50 A3.4 3.4 0 0 0 101.50 799.30 Z" fill="#8b1a6b"/><circle cx="101.50" cy="795.90" r="3.4" fill="none" stroke="#5a4a6a" stroke-width="0.3"/></g>
<circle cx="139.10" cy="771.70" r="3.40" fill="#a9dfe0" stroke="#6a9a9a" stroke-width="0.3"/>
<circle cx="149.40" cy="775.00" r="3.40" fill="#a9dfe0" stroke="#6a9a9a" stroke-width="0.3"/>
<circle cx="130.40" cy="779.00" r="3.40" fill="#a9dfe0" stroke="#6a9a9a" stroke-width="0.3"/>
<circle cx="141.70" cy="783.80" r="3.40" fill="#a9dfe0" stroke="#6a9a9a" stroke-width="0.3"/>
<circle cx="152.70" cy="786.60" r="3.40" fill="#a9dfe0" stroke="#6a9a9a" stroke-width="0.3"/>
<circle cx="129.70" cy="789.90" r="3.40" fill="#a9dfe0" stroke="#6a9a9a" stroke-width="0.3"/>
<circle cx="137.40" cy="797.60" r="3.40" fill="#a9dfe0" stroke="#6a9a9a" stroke-width="0.3"/>
<circle cx="146.80" cy="796.50" r="3.40" fill="#a9dfe0" stroke="#6a9a9a" stroke-width="0.3"/>
<circle cx="143.30" cy="834.40" r="3.40" fill="#a9dfe0" stroke="#6a9a9a" stroke-width="0.3"/>
<circle cx="158.40" cy="838.50" r="3.40" fill="#a9dfe0" stroke="#6a9a9a" stroke-width="0.3"/>
<circle cx="150.30" cy="852.10" r="3.40" fill="#a9dfe0" stroke="#6a9a9a" stroke-width="0.3"/>
<g><circle cx="196.00" cy="791.40" r="3.5" fill="#9d9cd9"/><path d="M196.00 787.90 A3.5 3.5 0 0 0 196.00 794.90 Z" fill="#8b1a6b"/><circle cx="196.00" cy="791.40" r="3.5" fill="none" stroke="#5a4a6a" stroke-width="0.3"/></g>
<g><circle cx="208.70" cy="789.10" r="3.5" fill="#9d9cd9"/><path d="M208.70 785.60 A3.5 3.5 0 0 0 208.70 792.60 Z" fill="#8b1a6b"/><circle cx="208.70" cy="789.10" r="3.5" fill="none" stroke="#5a4a6a" stroke-width="0.3"/></g>
<g><circle cx="214.20" cy="801.60" r="3.5" fill="#9d9cd9"/><path d="M214.20 798.10 A3.5 3.5 0 0 0 214.20 805.10 Z" fill="#8b1a6b"/><circle cx="214.20" cy="801.60" r="3.5" fill="none" stroke="#5a4a6a" stroke-width="0.3"/></g>
<g><circle cx="194.40" cy="805.70" r="3.5" fill="#9d9cd9"/><path d="M194.40 802.20 A3.5 3.5 0 0 0 194.40 809.20 Z" fill="#8b1a6b"/><circle cx="194.40" cy="805.70" r="3.5" fill="none" stroke="#5a4a6a" stroke-width="0.3"/></g>
<g><circle cx="205.80" cy="811.90" r="3.5" fill="#9d9cd9"/><path d="M205.80 808.40 A3.5 3.5 0 0 0 205.80 815.40 Z" fill="#8b1a6b"/><circle cx="205.80" cy="811.90" r="3.5" fill="none" stroke="#5a4a6a" stroke-width="0.3"/></g>
<circle cx="190.60" cy="872.90" r="3.40" fill="#a9dfe0" stroke="#6a9a9a" stroke-width="0.3"/>
<circle cx="207.90" cy="877.10" r="3.40" fill="#a9dfe0" stroke="#6a9a9a" stroke-width="0.3"/>
<circle cx="196.50" cy="891.50" r="3.40" fill="#a9dfe0" stroke="#6a9a9a" stroke-width="0.3"/>
<circle cx="34.20" cy="834.40" r="3.30" fill="#8b1a6b" stroke="#5a4a6a" stroke-width="0.3"/>
<g><circle cx="44.20" cy="838.90" r="3.3" fill="#9d9cd9"/><path d="M44.20 835.60 A3.3 3.3 0 0 0 44.20 842.20 Z" fill="#8b1a6b"/><circle cx="44.20" cy="838.90" r="3.3" fill="none" stroke="#5a4a6a" stroke-width="0.3"/></g>
<circle cx="49.60" cy="842.20" r="3.30" fill="#8b1a6b" stroke="#5a4a6a" stroke-width="0.3"/>
<circle cx="62.80" cy="841.00" r="3.30" fill="#8b1a6b" stroke="#5a4a6a" stroke-width="0.3"/>
<circle cx="33.60" cy="845.70" r="3.30" fill="#8b1a6b" stroke="#5a4a6a" stroke-width="0.3"/>
<circle cx="18.30" cy="855.90" r="3.30" fill="#8b1a6b" stroke="#5a4a6a" stroke-width="0.3"/>
<circle cx="28.90" cy="854.20" r="3.30" fill="#8b1a6b" stroke="#5a4a6a" stroke-width="0.3"/>
<circle cx="42.80" cy="853.20" r="3.30" fill="#8b1a6b" stroke="#5a4a6a" stroke-width="0.3"/>
<circle cx="70.40" cy="853.40" r="3.30" fill="#8b1a6b" stroke="#5a4a6a" stroke-width="0.3"/>
<circle cx="36.30" cy="861.40" r="3.30" fill="#8b1a6b" stroke="#5a4a6a" stroke-width="0.3"/>
<circle cx="60.20" cy="858.30" r="3.30" fill="#8b1a6b" stroke="#5a4a6a" stroke-width="0.3"/>
<circle cx="24.80" cy="866.50" r="3.30" fill="#8b1a6b" stroke="#5a4a6a" stroke-width="0.3"/>
<circle cx="60.80" cy="865.10" r="3.30" fill="#8b1a6b" stroke="#5a4a6a" stroke-width="0.3"/>
<circle cx="52.40" cy="868.10" r="3.30" fill="#8b1a6b" stroke="#5a4a6a" stroke-width="0.3"/>
<circle cx="40.20" cy="869.80" r="3.30" fill="#8b1a6b" stroke="#5a4a6a" stroke-width="0.3"/>
<circle cx="22.40" cy="873.90" r="3.30" fill="#8b1a6b" stroke="#5a4a6a" stroke-width="0.3"/>
<circle cx="31.20" cy="877.30" r="3.30" fill="#8b1a6b" stroke="#5a4a6a" stroke-width="0.3"/>
<circle cx="25.40" cy="881.80" r="3.30" fill="#8b1a6b" stroke="#5a4a6a" stroke-width="0.3"/>
<circle cx="46.90" cy="880.00" r="3.30" fill="#8b1a6b" stroke="#5a4a6a" stroke-width="0.3"/>
<circle cx="36.30" cy="886.10" r="3.30" fill="#8b1a6b" stroke="#5a4a6a" stroke-width="0.3"/>
<circle cx="43.80" cy="888.60" r="3.30" fill="#8b1a6b" stroke="#5a4a6a" stroke-width="0.3"/>
<circle cx="53.60" cy="890.20" r="3.30" fill="#8b1a6b" stroke="#5a4a6a" stroke-width="0.3"/>
<circle cx="60.80" cy="886.10" r="3.30" fill="#8b1a6b" stroke="#5a4a6a" stroke-width="0.3"/>
<circle cx="111.30" cy="880.00" r="3.30" fill="#8b1a6b" stroke="#5a4a6a" stroke-width="0.3"/>
<g><circle cx="124.60" cy="887.00" r="3.3" fill="#8b1a6b"/><path d="M124.60 883.70 A3.3 3.3 0 0 0 124.60 890.30 Z" fill="#a9dfe0"/><circle cx="124.60" cy="887.00" r="3.3" fill="none" stroke="#5a4a6a" stroke-width="0.3"/></g>
<g><circle cx="109.60" cy="892.00" r="3.3" fill="#9d9cd9"/><path d="M109.60 888.70 A3.3 3.3 0 0 0 109.60 895.30 Z" fill="#8b1a6b"/><circle cx="109.60" cy="892.00" r="3.3" fill="none" stroke="#5a4a6a" stroke-width="0.3"/></g>
<circle cx="102.10" cy="897.20" r="3.30" fill="#8b1a6b" stroke="#5a4a6a" stroke-width="0.3"/>
<g><circle cx="118.00" cy="898.40" r="3.3" fill="#9d9cd9"/><path d="M118.00 895.10 A3.3 3.3 0 0 0 118.00 901.70 Z" fill="#8b1a6b"/><circle cx="118.00" cy="898.40" r="3.3" fill="none" stroke="#5a4a6a" stroke-width="0.3"/></g>
<g><circle cx="128.60" cy="900.40" r="3.3" fill="#8b1a6b"/><path d="M128.60 897.10 A3.3 3.3 0 0 0 128.60 903.70 Z" fill="#a9dfe0"/><circle cx="128.60" cy="900.40" r="3.3" fill="none" stroke="#5a4a6a" stroke-width="0.3"/></g>
<g><circle cx="102.10" cy="905.90" r="3.3" fill="#9d9cd9"/><path d="M102.10 902.60 A3.3 3.3 0 0 0 102.10 909.20 Z" fill="#8b1a6b"/><circle cx="102.10" cy="905.90" r="3.3" fill="none" stroke="#5a4a6a" stroke-width="0.3"/></g>
<circle cx="117.00" cy="908.00" r="3.30" fill="#8b1a6b" stroke="#5a4a6a" stroke-width="0.3"/>
<circle cx="109.80" cy="912.10" r="3.30" fill="#8b1a6b" stroke="#5a4a6a" stroke-width="0.3"/>
<text x="4.20" y="761.40" font-size="6.6" fill="#111" textLength="38.50" lengthAdjust="spacingAndGlyphs" stroke="#111" stroke-width="0.14" xml:space="preserve">Cell Signaling</text>
<text x="63.30" y="750.60" font-size="6.6" fill="#111" textLength="48.40" lengthAdjust="spacingAndGlyphs" stroke="#111" stroke-width="0.14" xml:space="preserve">Metal ion binding</text>
<text x="114.80" y="760.20" font-size="6.6" fill="#111" textLength="56.10" lengthAdjust="spacingAndGlyphs" stroke="#111" stroke-width="0.14" xml:space="preserve">Amino acid process</text>
<text x="125.80" y="818.40" font-size="6.6" fill="#111" textLength="46.60" lengthAdjust="spacingAndGlyphs" stroke="#111" stroke-width="0.14" xml:space="preserve">Cytokine activity</text>
<text x="15.20" y="822.70" font-size="6.6" fill="#111" textLength="62.60" lengthAdjust="spacingAndGlyphs" stroke="#111" stroke-width="0.14" xml:space="preserve">Response to Stimulus</text>
<text x="85.60" y="866.50" font-size="6.6" fill="#111" textLength="54.60" lengthAdjust="spacingAndGlyphs" stroke="#111" stroke-width="0.14" xml:space="preserve">Extracellular matrix</text>
<text x="170.20" y="776.20" font-size="6.6" fill="#111" textLength="72.70" lengthAdjust="spacingAndGlyphs" stroke="#111" stroke-width="0.14" xml:space="preserve">Mitochondrion autophagy</text>
<text x="170.20" y="858.20" font-size="6.6" fill="#111" textLength="66.80" lengthAdjust="spacingAndGlyphs" stroke="#111" stroke-width="0.14" xml:space="preserve">Autophagic mechanism</text>
<text x="173.80" y="748.00" font-size="14.5" fill="#d8302a" font-weight="bold" textLength="74.70" lengthAdjust="spacingAndGlyphs"  xml:space="preserve">Mitophagy</text>
<circle cx="272.40" cy="747.80" r="3.70" fill="#9d9cd9" stroke="none" stroke-width="0.5"/>
<text x="278.80" y="751.80" font-size="11" fill="#1a1a1a" textLength="19.90" lengthAdjust="spacingAndGlyphs"  xml:space="preserve">B8H</text>
<circle cx="272.40" cy="759.80" r="3.70" fill="#8b1a6b" stroke="none" stroke-width="0.5"/>
<text x="278.80" y="763.80" font-size="11" fill="#1a1a1a" textLength="19.90" lengthAdjust="spacingAndGlyphs"  xml:space="preserve">B9H</text>
<circle cx="272.40" cy="771.70" r="3.70" fill="#a9dfe0" stroke="none" stroke-width="0.5"/>
<text x="278.80" y="775.70" font-size="11" fill="#1a1a1a" textLength="19.90" lengthAdjust="spacingAndGlyphs"  xml:space="preserve">98H</text>
<text x="256.70" y="809.70" font-size="3.9" fill="#111" font-weight="bold" textLength="81.90" lengthAdjust="spacingAndGlyphs" stroke="#111" stroke-width="0.1" xml:space="preserve">1. Regulation Of Autophagy Of Mitochondrion</text>
<text x="261.00" y="815.50" font-size="3.9" fill="#8b1a6b" font-weight="bold" textLength="18.34" lengthAdjust="spacingAndGlyphs"  xml:space="preserve">HK2,BNIP3</text>
<text x="256.70" y="822.90" font-size="3.9" fill="#111" font-weight="bold" textLength="81.50" lengthAdjust="spacingAndGlyphs" stroke="#111" stroke-width="0.1" xml:space="preserve">2. regulation of autophagy of mitochondrion in</text>
<text x="256.70" y="827.90" font-size="3.9" fill="#111" font-weight="bold" textLength="73.00" lengthAdjust="spacingAndGlyphs" stroke="#111" stroke-width="0.1" xml:space="preserve">response to mitochondrial depolarization</text>
<text x="261.00" y="833.40" font-size="3.9" fill="#8b1a6b" font-weight="bold" textLength="7.02" lengthAdjust="spacingAndGlyphs"  xml:space="preserve">HK2</text>
<text x="261.00" y="838.40" font-size="3.9" fill="#7f7fd0" font-weight="bold" textLength="21.46" lengthAdjust="spacingAndGlyphs"  xml:space="preserve">HK2,VPS13C</text>
<text x="256.70" y="846.10" font-size="3.9" fill="#111" font-weight="bold" textLength="85.30" lengthAdjust="spacingAndGlyphs" stroke="#111" stroke-width="0.1" xml:space="preserve">3. positive regulation of autophagy of mitochon</text>
<text x="256.70" y="850.80" font-size="3.9" fill="#111" font-weight="bold" textLength="9.07" lengthAdjust="spacingAndGlyphs" stroke="#111" stroke-width="0.1" xml:space="preserve">drion</text>
<text x="261.00" y="856.50" font-size="3.9" fill="#8b1a6b" font-weight="bold" textLength="18.34" lengthAdjust="spacingAndGlyphs"  xml:space="preserve">HK2,BNIP3</text>
<text x="261.00" y="861.80" font-size="3.9" fill="#7f7fd0" font-weight="bold" textLength="35.90" lengthAdjust="spacingAndGlyphs"  xml:space="preserve">HK2,VPS13D,VPS13C</text>
<text x="256.70" y="867.90" font-size="3.9" fill="#111" font-weight="bold" textLength="81.50" lengthAdjust="spacingAndGlyphs" stroke="#111" stroke-width="0.1" xml:space="preserve">4. regulation of autophagy of mitochondrion in</text>
<text x="256.70" y="873.00" font-size="3.9" fill="#111" font-weight="bold" textLength="73.00" lengthAdjust="spacingAndGlyphs" stroke="#111" stroke-width="0.1" xml:space="preserve">response to mitochondrial depolarization</text>
<text x="261.00" y="878.60" font-size="3.9" fill="#8b1a6b" font-weight="bold" textLength="38.55" lengthAdjust="spacingAndGlyphs"  xml:space="preserve">HK2,BNIP3,PPARGC1A</text>
<text x="261.00" y="883.30" font-size="3.9" fill="#7f7fd0" font-weight="bold" textLength="72.11" lengthAdjust="spacingAndGlyphs"  xml:space="preserve">HK2,VPS13D,VPS13C,SPATA18,PPARGC1A</text>
<text x="256.70" y="889.60" font-size="3.9" fill="#111" font-weight="bold" textLength="85.30" lengthAdjust="spacingAndGlyphs" stroke="#111" stroke-width="0.1" xml:space="preserve">5. positive regulation of autophagy of mitochon</text>
<text x="256.70" y="894.10" font-size="3.9" fill="#111" font-weight="bold" textLength="59.85" lengthAdjust="spacingAndGlyphs" stroke="#111" stroke-width="0.1" xml:space="preserve">drion in response to mitochondrial</text>
<text x="261.00" y="900.10" font-size="3.9" fill="#8b1a6b" font-weight="bold" textLength="7.02" lengthAdjust="spacingAndGlyphs"  xml:space="preserve">HK2</text>
<text x="261.00" y="904.90" font-size="3.9" fill="#7f7fd0" font-weight="bold" textLength="21.46" lengthAdjust="spacingAndGlyphs"  xml:space="preserve">HK2,VPS13C</text>
<text x="356.80" y="701.80" font-size="21" fill="#231f20"  xml:space="preserve">H</text>
<text x="418.10" y="702.50" font-size="10.6" fill="#231f20" font-weight="bold" textLength="173.30" lengthAdjust="spacingAndGlyphs"  xml:space="preserve">GO enrichment map analysis of</text>
<text x="440.60" y="716.60" font-size="10.6" fill="#231f20" font-weight="bold" textLength="116.70" lengthAdjust="spacingAndGlyphs"  xml:space="preserve">downregulated DEGs</text>
<ellipse cx="387.90" cy="809.30" rx="31.60" ry="38.20" fill="#f7f7f9" stroke="#333" stroke-width="0.7"/>
<ellipse cx="436.20" cy="773.80" rx="14.90" ry="17.80" fill="#f1f1f7" stroke="#333" stroke-width="0.7"/>
<ellipse cx="441.70" cy="878.10" rx="26.40" ry="32.50" fill="#d9d7e5" stroke="#333" stroke-width="0.7"/>
<ellipse cx="378.30" cy="881.10" rx="11.00" ry="12.60" fill="#e6edf5" stroke="#333" stroke-width="0.7"/>
<ellipse cx="488.00" cy="822.40" rx="17.50" ry="21.20" fill="#f1f0f5" stroke="#333" stroke-width="0.7"/>
<ellipse cx="555.20" cy="826.30" rx="12.70" ry="14.40" fill="#e4ebf4" stroke="#333" stroke-width="0.7"/>
<ellipse cx="522.60" cy="880.00" rx="24.90" ry="30.50" fill="#dde3f0" stroke="#333" stroke-width="0.7"/>
<ellipse cx="522.70" cy="772.30" rx="15.50" ry="18.60" fill="#eeeef5" stroke="#333" stroke-width="0.7"/>
<rect x="493.70" y="738.80" width="61.10" height="56.50" fill="none" stroke="#8e2383" stroke-width="1.5" stroke-dasharray="2.5,1.5"/>
<path d="M372.2 782.2L373.0 789.7M377.6 785.7L388.5 790.5M377.6 785.7L367.7 792.4M382.9 782.5L389.7 784.9M382.9 782.5L382.9 788.9M389.7 784.9L382.9 788.9M373.0 789.7L382.9 788.9M373.0 789.7L375.2 799.3M378.9 793.7L375.2 799.3M378.9 793.7L389.3 798.2M378.9 793.7L380.5 801.0M378.9 793.7L373.8 804.2M384.0 795.0L375.2 799.3M375.2 799.3L367.7 792.4M375.2 799.3L371.7 796.9M371.7 796.9L380.5 801.0M371.7 796.9L373.8 804.2M365.3 803.4L368.5 810.1M377.0 808.2L368.5 810.1M405.1 797.3L410.2 801.8M399.8 802.1L403.8 801.0M399.8 802.1L399.0 809.8M403.8 801.0L404.6 806.3M410.2 801.8L407.0 804.6M382.9 817.0L384.5 822.3M388.2 817.0L392.1 821.0M388.2 817.0L388.2 825.0M384.5 822.3L382.9 827.4M384.5 822.3L385.0 829.9M388.2 825.0L390.1 829.9M388.2 825.0L388.5 832.3M382.9 827.4L385.0 829.9M382.9 827.4L390.1 829.9M382.9 827.4L381.3 833.9M379.4 829.1L385.0 829.9M385.0 829.9L390.1 829.9M390.1 829.9L386.1 834.7M389.7 784.9L428.7 782.5M443.9 779.3L514.9 762.5M373.0 789.7L425.8 860.1M375.2 799.3L425.8 860.1M377.0 808.2L426.4 869.6M381.3 806.3L430.1 861.9M373.8 804.2L423.1 875.0M380.5 801.0L431.9 867.4M368.5 810.1L426.4 869.6M375.7 813.8L425.3 881.2M384.0 795.0L437.4 866.7M389.3 798.2L476.3 822.0M392.0 800.0L478.5 832.6M399.8 802.1L506.3 881.6M405.1 797.3L509.0 874.6M410.2 801.8L504.8 889.9M433.0 775.7L440.0 855.3M438.8 783.3L430.1 861.9M437.5 770.4L444.4 859.0M428.7 782.5L425.8 860.1M440.0 855.3L514.9 762.5M444.4 859.0L514.9 762.5M450.5 860.8L514.9 762.5M430.1 861.9L514.9 762.5M437.4 866.7L514.9 762.5M431.9 867.4L514.9 762.5M440.0 855.3L520.3 781.4M450.5 860.8L518.7 769.8M480.5 809.6L514.9 762.5M485.4 810.0L518.7 769.8M496.0 807.8L520.3 781.4M491.6 816.2L514.9 762.5M476.3 822.0L450.5 860.8M478.5 832.6L459.3 882.0M480.0 826.4L444.4 859.0M482.5 831.5L456.4 873.9M480.5 809.6L485.4 810.0M480.3 816.2L476.3 822.0M480.3 816.2L484.0 820.2M480.3 816.2L484.6 815.8M476.3 822.0L485.8 824.6M484.0 820.2L485.8 824.6M484.0 820.2L480.0 826.4M485.8 824.6L493.8 824.6M485.8 824.6L494.2 829.3M480.0 826.4L478.5 832.6M478.5 832.6L482.5 831.5M478.5 832.6L483.8 836.1M490.5 829.3L494.2 829.3M490.5 829.3L496.4 834.0M482.5 831.5L488.0 833.3M494.2 829.3L499.7 829.7M494.2 829.3L496.4 834.0M517.7 861.2L532.0 859.0M532.0 859.0L536.6 865.6M530.0 868.5L539.6 882.7M539.6 882.7L532.6 884.2M523.4 870.2L522.1 879.0M509.0 874.6L517.3 881.6M517.3 881.6L504.8 889.9M517.3 881.6L517.7 894.1M506.3 881.6L523.4 885.5M522.1 879.0L516.2 888.6M430.1 861.9L431.9 867.4M431.9 874.4L425.3 881.2M444.6 880.5L456.4 873.9M444.6 880.5L453.8 888.2M449.0 874.4L446.8 893.2M433.6 881.2L451.6 900.7M430.8 885.5L431.2 894.7M437.4 878.8L437.4 894.7M518.7 769.8L530.4 771.6M514.9 762.5L520.3 781.4" stroke="#95c2e6" stroke-width="0.5" fill="none"/>
<circle cx="372.20" cy="782.20" r="2.30" fill="#8b1a6b" stroke="#5a4a6a" stroke-width="0.3"/>
<circle cx="377.60" cy="785.70" r="2.30" fill="#8b1a6b" stroke="#5a4a6a" stroke-width="0.3"/>
<circle cx="382.90" cy="782.50" r="2.30" fill="#8b1a6b" stroke="#5a4a6a" stroke-width="0.3"/>
<circle cx="389.70" cy="784.90" r="2.30" fill="#8b1a6b" stroke="#5a4a6a" stroke-width="0.3"/>
<circle cx="373.00" cy="789.70" r="2.30" fill="#8b1a6b" stroke="#5a4a6a" stroke-width="0.3"/>
<circle cx="382.90" cy="788.90" r="2.30" fill="#8b1a6b" stroke="#5a4a6a" stroke-width="0.3"/>
<circle cx="388.50" cy="790.50" r="2.30" fill="#8b1a6b" stroke="#5a4a6a" stroke-width="0.3"/>
<circle cx="378.90" cy="793.70" r="2.30" fill="#8b1a6b" stroke="#5a4a6a" stroke-width="0.3"/>
<circle cx="384.00" cy="795.00" r="2.30" fill="#8b1a6b" stroke="#5a4a6a" stroke-width="0.3"/>
<circle cx="375.20" cy="799.30" r="2.30" fill="#8b1a6b" stroke="#5a4a6a" stroke-width="0.3"/>
<circle cx="389.30" cy="798.20" r="2.30" fill="#8b1a6b" stroke="#5a4a6a" stroke-width="0.3"/>
<g><circle cx="367.70" cy="792.40" r="2.3" fill="#c5c5ea"/><path d="M367.70 790.10 A2.3 2.3 0 0 0 367.70 794.70 Z" fill="#8b1a6b"/><circle cx="367.70" cy="792.40" r="2.3" fill="none" stroke="#5a4a6a" stroke-width="0.3"/></g>
<g><circle cx="371.70" cy="796.90" r="2.3" fill="#c5c5ea"/><path d="M371.70 794.60 A2.3 2.3 0 0 0 371.70 799.20 Z" fill="#8b1a6b"/><circle cx="371.70" cy="796.90" r="2.3" fill="none" stroke="#5a4a6a" stroke-width="0.3"/></g>
<g><circle cx="380.50" cy="801.00" r="2.3" fill="#c5c5ea"/><path d="M380.50 798.70 A2.3 2.3 0 0 0 380.50 803.30 Z" fill="#8b1a6b"/><circle cx="380.50" cy="801.00" r="2.3" fill="none" stroke="#5a4a6a" stroke-width="0.3"/></g>
<g><circle cx="365.30" cy="803.40" r="2.3" fill="#c5c5ea"/><path d="M365.30 801.10 A2.3 2.3 0 0 0 365.30 805.70 Z" fill="#8b1a6b"/><circle cx="365.30" cy="803.40" r="2.3" fill="none" stroke="#5a4a6a" stroke-width="0.3"/></g>
<g><circle cx="373.80" cy="804.20" r="2.3" fill="#c5c5ea"/><path d="M373.80 801.90 A2.3 2.3 0 0 0 373.80 806.50 Z" fill="#8b1a6b"/><circle cx="373.80" cy="804.20" r="2.3" fill="none" stroke="#5a4a6a" stroke-width="0.3"/></g>
<g><circle cx="381.30" cy="806.30" r="2.3" fill="#c5c5ea"/><path d="M381.30 804.00 A2.3 2.3 0 0 0 381.30 808.60 Z" fill="#8b1a6b"/><circle cx="381.30" cy="806.30" r="2.3" fill="none" stroke="#5a4a6a" stroke-width="0.3"/></g>
<g><circle cx="377.00" cy="808.20" r="2.3" fill="#c5c5ea"/><path d="M377.00 805.90 A2.3 2.3 0 0 0 377.00 810.50 Z" fill="#8b1a6b"/><circle cx="377.00" cy="808.20" r="2.3" fill="none" stroke="#5a4a6a" stroke-width="0.3"/></g>
<g><circle cx="368.50" cy="810.10" r="2.3" fill="#c5c5ea"/><path d="M368.50 807.80 A2.3 2.3 0 0 0 368.50 812.40 Z" fill="#8b1a6b"/><circle cx="368.50" cy="810.10" r="2.3" fill="none" stroke="#5a4a6a" stroke-width="0.3"/></g>
<g><circle cx="375.70" cy="813.80" r="2.3" fill="#c5c5ea"/><path d="M375.70 811.50 A2.3 2.3 0 0 0 375.70 816.10 Z" fill="#8b1a6b"/><circle cx="375.70" cy="813.80" r="2.3" fill="none" stroke="#5a4a6a" stroke-width="0.3"/></g>
<circle cx="399.80" cy="795.70" r="2.30" fill="#c5c5ea" stroke="#7a7aa8" stroke-width="0.35"/>
<circle cx="405.10" cy="797.30" r="2.30" fill="#c5c5ea" stroke="#7a7aa8" stroke-width="0.35"/>
<circle cx="399.80" cy="802.10" r="2.30" fill="#c5c5ea" stroke="#7a7aa8" stroke-width="0.35"/>
<circle cx="403.80" cy="801.00" r="2.30" fill="#c5c5ea" stroke="#7a7aa8" stroke-width="0.35"/>
<circle cx="410.20" cy="801.80" r="2.30" fill="#c5c5ea" stroke="#7a7aa8" stroke-width="0.35"/>
<circle cx="407.00" cy="804.60" r="2.30" fill="#c5c5ea" stroke="#7a7aa8" stroke-width="0.35"/>
<circle cx="393.80" cy="805.00" r="2.30" fill="#c5c5ea" stroke="#7a7aa8" stroke-width="0.35"/>
<circle cx="404.60" cy="806.30" r="2.30" fill="#c5c5ea" stroke="#7a7aa8" stroke-width="0.35"/>
<circle cx="399.00" cy="809.80" r="2.30" fill="#c5c5ea" stroke="#7a7aa8" stroke-width="0.35"/>
<circle cx="402.20" cy="812.20" r="2.30" fill="#c5c5ea" stroke="#7a7aa8" stroke-width="0.35"/>
<circle cx="405.90" cy="813.80" r="2.30" fill="#c5c5ea" stroke="#7a7aa8" stroke-width="0.35"/>
<circle cx="382.90" cy="817.00" r="2.30" fill="#c5c5ea" stroke="#7a7aa8" stroke-width="0.35"/>
<circle cx="388.20" cy="817.00" r="2.30" fill="#c5c5ea" stroke="#7a7aa8" stroke-width="0.35"/>
<circle cx="378.90" cy="821.80" r="2.30" fill="#c5c5ea" stroke="#7a7aa8" stroke-width="0.35"/>
<circle cx="384.50" cy="822.30" r="2.30" fill="#c5c5ea" stroke="#7a7aa8" stroke-width="0.35"/>
<circle cx="392.10" cy="821.00" r="2.30" fill="#c5c5ea" stroke="#7a7aa8" stroke-width="0.35"/>
<circle cx="388.20" cy="825.00" r="2.30" fill="#c5c5ea" stroke="#7a7aa8" stroke-width="0.35"/>
<circle cx="382.90" cy="827.40" r="2.30" fill="#c5c5ea" stroke="#7a7aa8" stroke-width="0.35"/>
<circle cx="393.40" cy="826.60" r="2.30" fill="#c5c5ea" stroke="#7a7aa8" stroke-width="0.35"/>
<circle cx="379.40" cy="829.10" r="2.30" fill="#c5c5ea" stroke="#7a7aa8" stroke-width="0.35"/>
<circle cx="385.00" cy="829.90" r="2.30" fill="#c5c5ea" stroke="#7a7aa8" stroke-width="0.35"/>
<circle cx="390.10" cy="829.90" r="2.30" fill="#c5c5ea" stroke="#7a7aa8" stroke-width="0.35"/>
<circle cx="381.30" cy="833.90" r="2.30" fill="#c5c5ea" stroke="#7a7aa8" stroke-width="0.35"/>
<circle cx="386.10" cy="834.70" r="2.30" fill="#c5c5ea" stroke="#7a7aa8" stroke-width="0.35"/>
<circle cx="392.60" cy="834.20" r="2.30" fill="#c5c5ea" stroke="#7a7aa8" stroke-width="0.35"/>
<circle cx="388.50" cy="832.30" r="2.30" fill="#c5c5ea" stroke="#7a7aa8" stroke-width="0.35"/>
<g><circle cx="432.20" cy="766.40" r="2.3" fill="#c5c5ea"/><path d="M432.20 764.10 A2.3 2.3 0 0 0 432.20 768.70 Z" fill="#8b1a6b"/><circle cx="432.20" cy="766.40" r="2.3" fill="none" stroke="#5a4a6a" stroke-width="0.3"/></g>
<g><circle cx="440.70" cy="764.00" r="2.3" fill="#c5c5ea"/><path d="M440.70 761.70 A2.3 2.3 0 0 0 440.70 766.30 Z" fill="#8b1a6b"/><circle cx="440.70" cy="764.00" r="2.3" fill="none" stroke="#5a4a6a" stroke-width="0.3"/></g>
<g><circle cx="437.50" cy="770.40" r="2.3" fill="#a9dfe0"/><path d="M437.50 768.10 A2.3 2.3 0 0 0 437.50 772.70 Z" fill="#8b1a6b"/><circle cx="437.50" cy="770.40" r="2.3" fill="none" stroke="#5a4a6a" stroke-width="0.3"/></g>
<circle cx="428.20" cy="774.00" r="2.30" fill="#c5c5ea" stroke="#7a7aa8" stroke-width="0.35"/>
<g><circle cx="433.00" cy="775.70" r="2.3" fill="#c5c5ea"/><path d="M433.00 773.40 A2.3 2.3 0 0 0 433.00 778.00 Z" fill="#8b1a6b"/><circle cx="433.00" cy="775.70" r="2.3" fill="none" stroke="#5a4a6a" stroke-width="0.3"/></g>
<circle cx="439.90" cy="775.60" r="2.30" fill="#8b1a6b" stroke="#5a4a6a" stroke-width="0.3"/>
<circle cx="443.90" cy="779.30" r="2.30" fill="#8b1a6b" stroke="#5a4a6a" stroke-width="0.3"/>
<g><circle cx="428.70" cy="782.50" r="2.3" fill="#c5c5ea"/><path d="M428.70 780.20 A2.3 2.3 0 0 0 428.70 784.80 Z" fill="#8b1a6b"/><circle cx="428.70" cy="782.50" r="2.3" fill="none" stroke="#5a4a6a" stroke-width="0.3"/></g>
<circle cx="438.80" cy="783.30" r="2.30" fill="#8b1a6b" stroke="#5a4a6a" stroke-width="0.3"/>
<circle cx="440.00" cy="855.30" r="2.30" fill="#a9dfe0" stroke="#6a9a9a" stroke-width="0.3"/>
<circle cx="444.40" cy="859.00" r="2.30" fill="#c5c5ea" stroke="#7a7aa8" stroke-width="0.35"/>
<circle cx="450.50" cy="860.80" r="2.30" fill="#c5c5ea" stroke="#7a7aa8" stroke-width="0.35"/>
<circle cx="445.70" cy="866.70" r="2.30" fill="#c5c5ea" stroke="#7a7aa8" stroke-width="0.35"/>
<circle cx="459.30" cy="882.00" r="2.30" fill="#c5c5ea" stroke="#7a7aa8" stroke-width="0.35"/>
<circle cx="425.80" cy="860.10" r="2.30" fill="#8b1a6b" stroke="#5a4a6a" stroke-width="0.3"/>
<circle cx="430.10" cy="861.90" r="2.30" fill="#8b1a6b" stroke="#5a4a6a" stroke-width="0.3"/>
<circle cx="426.40" cy="869.60" r="2.30" fill="#8b1a6b" stroke="#5a4a6a" stroke-width="0.3"/>
<circle cx="431.90" cy="867.40" r="2.30" fill="#8b1a6b" stroke="#5a4a6a" stroke-width="0.3"/>
<circle cx="437.40" cy="866.70" r="2.30" fill="#8b1a6b" stroke="#5a4a6a" stroke-width="0.3"/>
<circle cx="423.10" cy="875.00" r="2.30" fill="#8b1a6b" stroke="#5a4a6a" stroke-width="0.3"/>
<circle cx="431.90" cy="874.40" r="2.30" fill="#8b1a6b" stroke="#5a4a6a" stroke-width="0.3"/>
<circle cx="436.70" cy="873.30" r="2.30" fill="#8b1a6b" stroke="#5a4a6a" stroke-width="0.3"/>
<circle cx="425.30" cy="881.20" r="2.30" fill="#8b1a6b" stroke="#5a4a6a" stroke-width="0.3"/>
<circle cx="433.60" cy="881.20" r="2.30" fill="#8b1a6b" stroke="#5a4a6a" stroke-width="0.3"/>
<circle cx="437.40" cy="878.80" r="2.30" fill="#8b1a6b" stroke="#5a4a6a" stroke-width="0.3"/>
<circle cx="430.80" cy="885.50" r="2.30" fill="#8b1a6b" stroke="#5a4a6a" stroke-width="0.3"/>
<circle cx="444.60" cy="880.50" r="2.30" fill="#8b1a6b" stroke="#5a4a6a" stroke-width="0.3"/>
<circle cx="431.20" cy="894.70" r="2.30" fill="#8b1a6b" stroke="#5a4a6a" stroke-width="0.3"/>
<circle cx="437.40" cy="894.70" r="2.30" fill="#8b1a6b" stroke="#5a4a6a" stroke-width="0.3"/>
<circle cx="441.70" cy="898.70" r="2.30" fill="#8b1a6b" stroke="#5a4a6a" stroke-width="0.3"/>
<g><circle cx="449.00" cy="874.40" r="2.3" fill="#c5c5ea"/><path d="M449.00 872.10 A2.3 2.3 0 0 0 449.00 876.70 Z" fill="#8b1a6b"/><circle cx="449.00" cy="874.40" r="2.3" fill="none" stroke="#5a4a6a" stroke-width="0.3"/></g>
<g><circle cx="456.40" cy="873.90" r="2.3" fill="#c5c5ea"/><path d="M456.40 871.60 A2.3 2.3 0 0 0 456.40 876.20 Z" fill="#8b1a6b"/><circle cx="456.40" cy="873.90" r="2.3" fill="none" stroke="#5a4a6a" stroke-width="0.3"/></g>
<g><circle cx="453.80" cy="888.20" r="2.3" fill="#c5c5ea"/><path d="M453.80 885.90 A2.3 2.3 0 0 0 453.80 890.50 Z" fill="#8b1a6b"/><circle cx="453.80" cy="888.20" r="2.3" fill="none" stroke="#5a4a6a" stroke-width="0.3"/></g>
<g><circle cx="446.80" cy="893.20" r="2.3" fill="#c5c5ea"/><path d="M446.80 890.90 A2.3 2.3 0 0 0 446.80 895.50 Z" fill="#8b1a6b"/><circle cx="446.80" cy="893.20" r="2.3" fill="none" stroke="#5a4a6a" stroke-width="0.3"/></g>
<g><circle cx="451.60" cy="900.70" r="2.3" fill="#c5c5ea"/><path d="M451.60 898.40 A2.3 2.3 0 0 0 451.60 903.00 Z" fill="#8b1a6b"/><circle cx="451.60" cy="900.70" r="2.3" fill="none" stroke="#5a4a6a" stroke-width="0.3"/></g>
<circle cx="373.70" cy="877.60" r="2.30" fill="#8b1a6b" stroke="#5a4a6a" stroke-width="0.3"/>
<circle cx="381.80" cy="876.00" r="2.30" fill="#8b1a6b" stroke="#5a4a6a" stroke-width="0.3"/>
<g><circle cx="379.70" cy="885.90" r="2.3" fill="#c5c5ea"/><path d="M379.70 883.60 A2.3 2.3 0 0 0 379.70 888.20 Z" fill="#8b1a6b"/><circle cx="379.70" cy="885.90" r="2.3" fill="none" stroke="#5a4a6a" stroke-width="0.3"/></g>
<g><circle cx="480.50" cy="809.60" r="2.3" fill="#c5c5ea"/><path d="M480.50 807.30 A2.3 2.3 0 0 0 480.50 811.90 Z" fill="#8b1a6b"/><circle cx="480.50" cy="809.60" r="2.3" fill="none" stroke="#5a4a6a" stroke-width="0.3"/></g>
<g><circle cx="485.40" cy="810.00" r="2.3" fill="#c5c5ea"/><path d="M485.40 807.70 A2.3 2.3 0 0 0 485.40 812.30 Z" fill="#8b1a6b"/><circle cx="485.40" cy="810.00" r="2.3" fill="none" stroke="#5a4a6a" stroke-width="0.3"/></g>
<g><circle cx="480.30" cy="816.20" r="2.3" fill="#c5c5ea"/><path d="M480.30 813.90 A2.3 2.3 0 0 0 480.30 818.50 Z" fill="#8b1a6b"/><circle cx="480.30" cy="816.20" r="2.3" fill="none" stroke="#5a4a6a" stroke-width="0.3"/></g>
<g><circle cx="491.60" cy="816.20" r="2.3" fill="#c5c5ea"/><path d="M491.60 813.90 A2.3 2.3 0 0 0 491.60 818.50 Z" fill="#8b1a6b"/><circle cx="491.60" cy="816.20" r="2.3" fill="none" stroke="#5a4a6a" stroke-width="0.3"/></g>
<g><circle cx="476.30" cy="822.00" r="2.3" fill="#c5c5ea"/><path d="M476.30 819.70 A2.3 2.3 0 0 0 476.30 824.30 Z" fill="#8b1a6b"/><circle cx="476.30" cy="822.00" r="2.3" fill="none" stroke="#5a4a6a" stroke-width="0.3"/></g>
<g><circle cx="484.00" cy="820.20" r="2.3" fill="#c5c5ea"/><path d="M484.00 817.90 A2.3 2.3 0 0 0 484.00 822.50 Z" fill="#8b1a6b"/><circle cx="484.00" cy="820.20" r="2.3" fill="none" stroke="#5a4a6a" stroke-width="0.3"/></g>
<g><circle cx="485.80" cy="824.60" r="2.3" fill="#c5c5ea"/><path d="M485.80 822.30 A2.3 2.3 0 0 0 485.80 826.90 Z" fill="#8b1a6b"/><circle cx="485.80" cy="824.60" r="2.3" fill="none" stroke="#5a4a6a" stroke-width="0.3"/></g>
<g><circle cx="480.00" cy="826.40" r="2.3" fill="#c5c5ea"/><path d="M480.00 824.10 A2.3 2.3 0 0 0 480.00 828.70 Z" fill="#8b1a6b"/><circle cx="480.00" cy="826.40" r="2.3" fill="none" stroke="#5a4a6a" stroke-width="0.3"/></g>
<g><circle cx="478.50" cy="832.60" r="2.3" fill="#c5c5ea"/><path d="M478.50 830.30 A2.3 2.3 0 0 0 478.50 834.90 Z" fill="#8b1a6b"/><circle cx="478.50" cy="832.60" r="2.3" fill="none" stroke="#5a4a6a" stroke-width="0.3"/></g>
<g><circle cx="490.50" cy="829.30" r="2.3" fill="#c5c5ea"/><path d="M490.50 827.00 A2.3 2.3 0 0 0 490.50 831.60 Z" fill="#8b1a6b"/><circle cx="490.50" cy="829.30" r="2.3" fill="none" stroke="#5a4a6a" stroke-width="0.3"/></g>
<circle cx="484.60" cy="815.80" r="2.30" fill="#8b1a6b" stroke="#5a4a6a" stroke-width="0.3"/>
<circle cx="482.50" cy="831.50" r="2.30" fill="#8b1a6b" stroke="#5a4a6a" stroke-width="0.3"/>
<circle cx="488.00" cy="833.30" r="2.30" fill="#8b1a6b" stroke="#5a4a6a" stroke-width="0.3"/>
<circle cx="483.80" cy="836.10" r="2.30" fill="#8b1a6b" stroke="#5a4a6a" stroke-width="0.3"/>
<circle cx="493.80" cy="824.60" r="2.30" fill="#c5c5ea" stroke="#7a7aa8" stroke-width="0.35"/>
<circle cx="499.30" cy="823.50" r="2.30" fill="#c5c5ea" stroke="#7a7aa8" stroke-width="0.35"/>
<circle cx="494.20" cy="829.30" r="2.30" fill="#c5c5ea" stroke="#7a7aa8" stroke-width="0.35"/>
<circle cx="499.70" cy="829.70" r="2.30" fill="#c5c5ea" stroke="#7a7aa8" stroke-width="0.35"/>
<circle cx="496.40" cy="834.00" r="2.30" fill="#c5c5ea" stroke="#7a7aa8" stroke-width="0.35"/>
<g><circle cx="496.00" cy="807.80" r="2.3" fill="#8b1a6b"/><path d="M496.00 805.50 A2.3 2.3 0 0 0 496.00 810.10 Z" fill="#a9dfe0"/><circle cx="496.00" cy="807.80" r="2.3" fill="none" stroke="#5a4a6a" stroke-width="0.3"/></g>
<circle cx="554.60" cy="817.90" r="2.30" fill="#a9dfe0" stroke="#6a9a9a" stroke-width="0.3"/>
<circle cx="561.90" cy="824.10" r="2.30" fill="#c5c5ea" stroke="#7a7aa8" stroke-width="0.35"/>
<circle cx="547.90" cy="828.50" r="2.30" fill="#c5c5ea" stroke="#7a7aa8" stroke-width="0.35"/>
<circle cx="559.00" cy="834.10" r="2.30" fill="#c5c5ea" stroke="#7a7aa8" stroke-width="0.35"/>
<circle cx="517.70" cy="861.20" r="2.30" fill="#a9dfe0" stroke="#6a9a9a" stroke-width="0.3"/>
<circle cx="532.00" cy="859.00" r="2.30" fill="#a9dfe0" stroke="#6a9a9a" stroke-width="0.3"/>
<circle cx="536.60" cy="865.60" r="2.30" fill="#a9dfe0" stroke="#6a9a9a" stroke-width="0.3"/>
<circle cx="530.00" cy="868.50" r="2.30" fill="#a9dfe0" stroke="#6a9a9a" stroke-width="0.3"/>
<circle cx="539.60" cy="882.70" r="2.30" fill="#a9dfe0" stroke="#6a9a9a" stroke-width="0.3"/>
<circle cx="532.60" cy="884.20" r="2.30" fill="#a9dfe0" stroke="#6a9a9a" stroke-width="0.3"/>
<g><circle cx="523.40" cy="870.20" r="2.3" fill="#a9dfe0"/><path d="M523.40 867.90 A2.3 2.3 0 0 0 523.40 872.50 Z" fill="#8b1a6b"/><circle cx="523.40" cy="870.20" r="2.3" fill="none" stroke="#5a4a6a" stroke-width="0.3"/></g>
<g><circle cx="537.70" cy="874.60" r="2.3" fill="#a9dfe0"/><path d="M537.70 872.30 A2.3 2.3 0 0 0 537.70 876.90 Z" fill="#8b1a6b"/><circle cx="537.70" cy="874.60" r="2.3" fill="none" stroke="#5a4a6a" stroke-width="0.3"/></g>
<g><circle cx="506.30" cy="881.60" r="2.3" fill="#c5c5ea"/><path d="M506.30 879.30 A2.3 2.3 0 0 0 506.30 883.90 Z" fill="#8b1a6b"/><circle cx="506.30" cy="881.60" r="2.3" fill="none" stroke="#5a4a6a" stroke-width="0.3"/></g>
<g><circle cx="522.10" cy="879.00" r="2.3" fill="#c5c5ea"/><path d="M522.10 876.70 A2.3 2.3 0 0 0 522.10 881.30 Z" fill="#8b1a6b"/><circle cx="522.10" cy="879.00" r="2.3" fill="none" stroke="#5a4a6a" stroke-width="0.3"/></g>
<circle cx="509.00" cy="874.60" r="2.30" fill="#8b1a6b" stroke="#5a4a6a" stroke-width="0.3"/>
<circle cx="514.70" cy="872.20" r="2.30" fill="#8b1a6b" stroke="#5a4a6a" stroke-width="0.3"/>
<circle cx="517.30" cy="881.60" r="2.30" fill="#8b1a6b" stroke="#5a4a6a" stroke-width="0.3"/>
<circle cx="523.40" cy="885.50" r="2.30" fill="#8b1a6b" stroke="#5a4a6a" stroke-width="0.3"/>
<circle cx="504.80" cy="889.90" r="2.30" fill="#8b1a6b" stroke="#5a4a6a" stroke-width="0.3"/>
<circle cx="509.60" cy="891.90" r="2.30" fill="#8b1a6b" stroke="#5a4a6a" stroke-width="0.3"/>
<circle cx="516.20" cy="888.60" r="2.30" fill="#8b1a6b" stroke="#5a4a6a" stroke-width="0.3"/>
<circle cx="517.70" cy="894.10" r="2.30" fill="#8b1a6b" stroke="#5a4a6a" stroke-width="0.3"/>
<circle cx="521.70" cy="892.60" r="2.30" fill="#8b1a6b" stroke="#5a4a6a" stroke-width="0.3"/>
<circle cx="510.30" cy="899.60" r="2.30" fill="#8b1a6b" stroke="#5a4a6a" stroke-width="0.3"/>
<circle cx="518.80" cy="900.70" r="2.30" fill="#8b1a6b" stroke="#5a4a6a" stroke-width="0.3"/>
<g><circle cx="514.90" cy="762.50" r="2.3" fill="#c5c5ea"/><path d="M514.90 760.20 A2.3 2.3 0 0 0 514.90 764.80 Z" fill="#8b1a6b"/><circle cx="514.90" cy="762.50" r="2.3" fill="none" stroke="#5a4a6a" stroke-width="0.3"/></g>
<g><circle cx="518.70" cy="769.80" r="2.3" fill="#c5c5ea"/><path d="M518.70 767.50 A2.3 2.3 0 0 0 518.70 772.10 Z" fill="#8b1a6b"/><circle cx="518.70" cy="769.80" r="2.3" fill="none" stroke="#5a4a6a" stroke-width="0.3"/></g>
<g><circle cx="528.20" cy="765.00" r="2.3" fill="#8b1a6b"/><path d="M528.20 762.70 A2.3 2.3 0 0 0 528.20 767.30 Z" fill="#a9dfe0"/><circle cx="528.20" cy="765.00" r="2.3" fill="none" stroke="#5a4a6a" stroke-width="0.3"/></g>
<g><circle cx="530.40" cy="771.60" r="2.3" fill="#8b1a6b"/><path d="M530.40 769.30 A2.3 2.3 0 0 0 530.40 773.90 Z" fill="#a9dfe0"/><circle cx="530.40" cy="771.60" r="2.3" fill="none" stroke="#5a4a6a" stroke-width="0.3"/></g>
<g><circle cx="529.10" cy="778.30" r="2.3" fill="#c5c5ea"/><path d="M529.10 776.00 A2.3 2.3 0 0 0 529.10 780.60 Z" fill="#8b1a6b"/><circle cx="529.10" cy="778.30" r="2.3" fill="none" stroke="#5a4a6a" stroke-width="0.3"/></g>
<g><circle cx="520.30" cy="781.40" r="2.3" fill="#c5c5ea"/><path d="M520.30 779.10 A2.3 2.3 0 0 0 520.30 783.70 Z" fill="#8b1a6b"/><circle cx="520.30" cy="781.40" r="2.3" fill="none" stroke="#5a4a6a" stroke-width="0.3"/></g>
<text x="357.00" y="769.60" font-size="6.0" fill="#111" textLength="59.60" lengthAdjust="spacingAndGlyphs" stroke="#111" stroke-width="0.13" xml:space="preserve">Activity metabolic process</text>
<text x="382.30" y="754.50" font-size="6.0" fill="#111" textLength="107.00" lengthAdjust="spacingAndGlyphs" stroke="#111" stroke-width="0.13" xml:space="preserve">Mononuclear differentiation neuroinflammatory</text>
<text x="416.80" y="843.60" font-size="6.0" fill="#111" textLength="48.60" lengthAdjust="spacingAndGlyphs" stroke="#111" stroke-width="0.13" xml:space="preserve">Inflammatory positive</text>
<text x="345.90" y="866.50" font-size="6.0" fill="#111" textLength="66.80" lengthAdjust="spacingAndGlyphs" stroke="#111" stroke-width="0.13" xml:space="preserve">Acute inflammatory response</text>
<text x="442.80" y="799.50" font-size="6.0" fill="#111" textLength="90.30" lengthAdjust="spacingAndGlyphs" stroke="#111" stroke-width="0.13" xml:space="preserve">Regulation multicellular communication</text>
<text x="505.40" y="809.00" font-size="6.0" fill="#111" textLength="74.90" lengthAdjust="spacingAndGlyphs" stroke="#111" stroke-width="0.13" xml:space="preserve">Xenobiotic complex endogenous</text>
<text x="491.00" y="848.20" font-size="6.0" fill="#111" textLength="64.90" lengthAdjust="spacingAndGlyphs" stroke="#111" stroke-width="0.13" xml:space="preserve">Chemotaxis of immune cells</text>
<text x="495.00" y="751.80" font-size="6.0" fill="#111" textLength="59.20" lengthAdjust="spacingAndGlyphs" stroke="#111" stroke-width="0.13" xml:space="preserve">Activation immune system</text>
<text x="586.90" y="747.60" font-size="13.8" fill="#2a3488" font-weight="bold" textLength="93.00" lengthAdjust="spacingAndGlyphs"  xml:space="preserve">Inflammation</text>
<circle cx="561.50" cy="756.60" r="3.50" fill="#9d9cd9" stroke="none" stroke-width="0.5"/>
<text x="568.10" y="760.70" font-size="11.4" fill="#1a1a1a" textLength="18.60" lengthAdjust="spacingAndGlyphs"  xml:space="preserve">B8H</text>
<circle cx="561.50" cy="769.20" r="3.50" fill="#8b1a6b" stroke="none" stroke-width="0.5"/>
<text x="568.10" y="773.30" font-size="11.4" fill="#1a1a1a" textLength="18.60" lengthAdjust="spacingAndGlyphs"  xml:space="preserve">B9H</text>
<circle cx="561.50" cy="782.70" r="3.50" fill="#a9dfe0" stroke="none" stroke-width="0.5"/>
<text x="568.10" y="786.80" font-size="11.4" fill="#1a1a1a" textLength="18.60" lengthAdjust="spacingAndGlyphs"  xml:space="preserve">98H</text>
<text x="590.00" y="762.80" font-size="3.9" fill="#111" font-weight="bold" textLength="52.47" lengthAdjust="spacingAndGlyphs" stroke="#111" stroke-width="0.1" xml:space="preserve">1. regulation of T cell activation</text>
<text x="593.00" y="768.60" font-size="3.9" fill="#8b1a6b" font-weight="bold" textLength="81.65" lengthAdjust="spacingAndGlyphs"  xml:space="preserve">IL6,NLRP3,LAPTM5,SIRPB1,AP3D1,IL23A,IL36G,</text>
<text x="593.00" y="773.60" font-size="3.9" fill="#8b1a6b" font-weight="bold" textLength="83.36" lengthAdjust="spacingAndGlyphs"  xml:space="preserve">SOCS1,IL411,IL1B,HHLA2,TNFSF14,SYK,HAVCR2</text>
<text x="593.00" y="779.70" font-size="3.9" fill="#8585d0" font-weight="bold" textLength="75.72" lengthAdjust="spacingAndGlyphs"  xml:space="preserve">SASH3,CD14,LGALS9B,BTLA,LCK,HLA-DMB</text>
<text x="590.00" y="786.30" font-size="3.9" fill="#111" font-weight="bold" textLength="66.70" lengthAdjust="spacingAndGlyphs" stroke="#111" stroke-width="0.1" xml:space="preserve">2. positive regulation of T cell activation</text>
<text x="593.00" y="792.30" font-size="3.9" fill="#8b1a6b" font-weight="bold" textLength="79.48" lengthAdjust="spacingAndGlyphs"  xml:space="preserve">IL6,NLRP3,SIRPB1,AP3D1,IL23A,IL36G,SOCS1,</text>
<text x="593.00" y="797.60" font-size="3.9" fill="#8b1a6b" font-weight="bold" textLength="70.34" lengthAdjust="spacingAndGlyphs"  xml:space="preserve">IL411,IL1B,HHLA2,TNFSF14,SYK,HAVCR2</text>
<text x="593.00" y="803.00" font-size="3.9" fill="#8585d0" font-weight="bold" textLength="58.17" lengthAdjust="spacingAndGlyphs"  xml:space="preserve">SASH3,CD14,BTLA,LCK,HLA-DMB</text>
<text x="590.00" y="810.00" font-size="3.9" fill="#111" font-weight="bold" textLength="67.10" lengthAdjust="spacingAndGlyphs" stroke="#111" stroke-width="0.1" xml:space="preserve">3. regulation of immune system process</text>
<text x="593.00" y="815.70" font-size="3.9" fill="#8b1a6b" font-weight="bold" textLength="83.42" lengthAdjust="spacingAndGlyphs"  xml:space="preserve">DUSP1,IL6,NLRP3,LAPTM5,PRLR,SIRPB1,SPN53,</text>
<text x="593.00" y="821.50" font-size="3.9" fill="#8b1a6b" font-weight="bold" textLength="81.06" lengthAdjust="spacingAndGlyphs"  xml:space="preserve">SAMHD1,AP3D1,IL23A,PGF,IL36B,CTSS,SOCS1,</text>
<text x="593.00" y="826.70" font-size="3.9" fill="#8b1a6b" font-weight="bold" textLength="83.22" lengthAdjust="spacingAndGlyphs"  xml:space="preserve">CXCL8,NR4A3,GAL,IL411,ACOD1,TSK,UBASH3A,</text>
<text x="593.00" y="832.10" font-size="3.9" fill="#8b1a6b" font-weight="bold" textLength="83.61" lengthAdjust="spacingAndGlyphs"  xml:space="preserve">IL1B,VSTM1,HHLA2,TNFSF14,SYK,HCLS1,ICAM1,</text>
<text x="593.00" y="837.20" font-size="3.9" fill="#8b1a6b" font-weight="bold" textLength="24.39" lengthAdjust="spacingAndGlyphs"  xml:space="preserve">HAVCR2,CD38</text>
<text x="590.00" y="844.00" font-size="3.9" fill="#111" font-weight="bold" textLength="78.01" lengthAdjust="spacingAndGlyphs" stroke="#111" stroke-width="0.1" xml:space="preserve">4. positive regulation of leukocyte proliferation</text>
<text x="593.00" y="850.10" font-size="3.9" fill="#8b1a6b" font-weight="bold" textLength="82.56" lengthAdjust="spacingAndGlyphs"  xml:space="preserve">IL6,PRLR,IL23A,CSF2,IL1B,HHLA2,SYK,HAVCR2,</text>
<text x="593.00" y="855.50" font-size="3.9" fill="#8b1a6b" font-weight="bold" textLength="9.07" lengthAdjust="spacingAndGlyphs"  xml:space="preserve">CD38</text>
<text x="590.00" y="862.40" font-size="3.9" fill="#111" font-weight="bold" textLength="81.34" lengthAdjust="spacingAndGlyphs" stroke="#111" stroke-width="0.1" xml:space="preserve">5. positive regulation of immune system process</text>
<text x="593.00" y="868.20" font-size="3.9" fill="#8b1a6b" font-weight="bold" textLength="81.45" lengthAdjust="spacingAndGlyphs"  xml:space="preserve">IL6,NLRP3,LAPTM5,PRLR,SIRPB1,AP3D1,IL23A,</text>
<text x="593.00" y="873.60" font-size="3.9" fill="#8b1a6b" font-weight="bold" textLength="77.12" lengthAdjust="spacingAndGlyphs"  xml:space="preserve">PGF,IL36B,CTSS,SOCS1,CXCL8,NR4A3,IL411,</text>
<text x="593.00" y="878.90" font-size="3.9" fill="#8b1a6b" font-weight="bold" textLength="77.50" lengthAdjust="spacingAndGlyphs"  xml:space="preserve">ACOD1,TSK,UBASH3A,IL1B,HHLA2,TNFSF14,</text>
<text x="593.00" y="884.30" font-size="3.9" fill="#8b1a6b" font-weight="bold" textLength="57.32" lengthAdjust="spacingAndGlyphs"  xml:space="preserve">SYK,HCLS1,ICAM1,HAVCR2,CD38</text>
<text x="590.00" y="890.90" font-size="3.9" fill="#111" font-weight="bold" textLength="77.24" lengthAdjust="spacingAndGlyphs" stroke="#111" stroke-width="0.1" xml:space="preserve">6. positive regulation of lymphocyte activation</text>
<text x="593.00" y="897.00" font-size="3.9" fill="#8b1a6b" font-weight="bold" textLength="76.92" lengthAdjust="spacingAndGlyphs"  xml:space="preserve">IL6,NLRP3,PRLR,SIRPB1,AP3D1,IL23A,IL36B,</text>
<text x="593.00" y="902.20" font-size="3.9" fill="#8b1a6b" font-weight="bold" textLength="84.34" lengthAdjust="spacingAndGlyphs"  xml:space="preserve">SOCS1,IL411,IL1B,HHLA2,TNFSF14,SYK,HAVCR2,</text>
<text x="593.00" y="907.60" font-size="3.9" fill="#8b1a6b" font-weight="bold" textLength="9.07" lengthAdjust="spacingAndGlyphs"  xml:space="preserve">CD38</text>
</svg></body></html>
